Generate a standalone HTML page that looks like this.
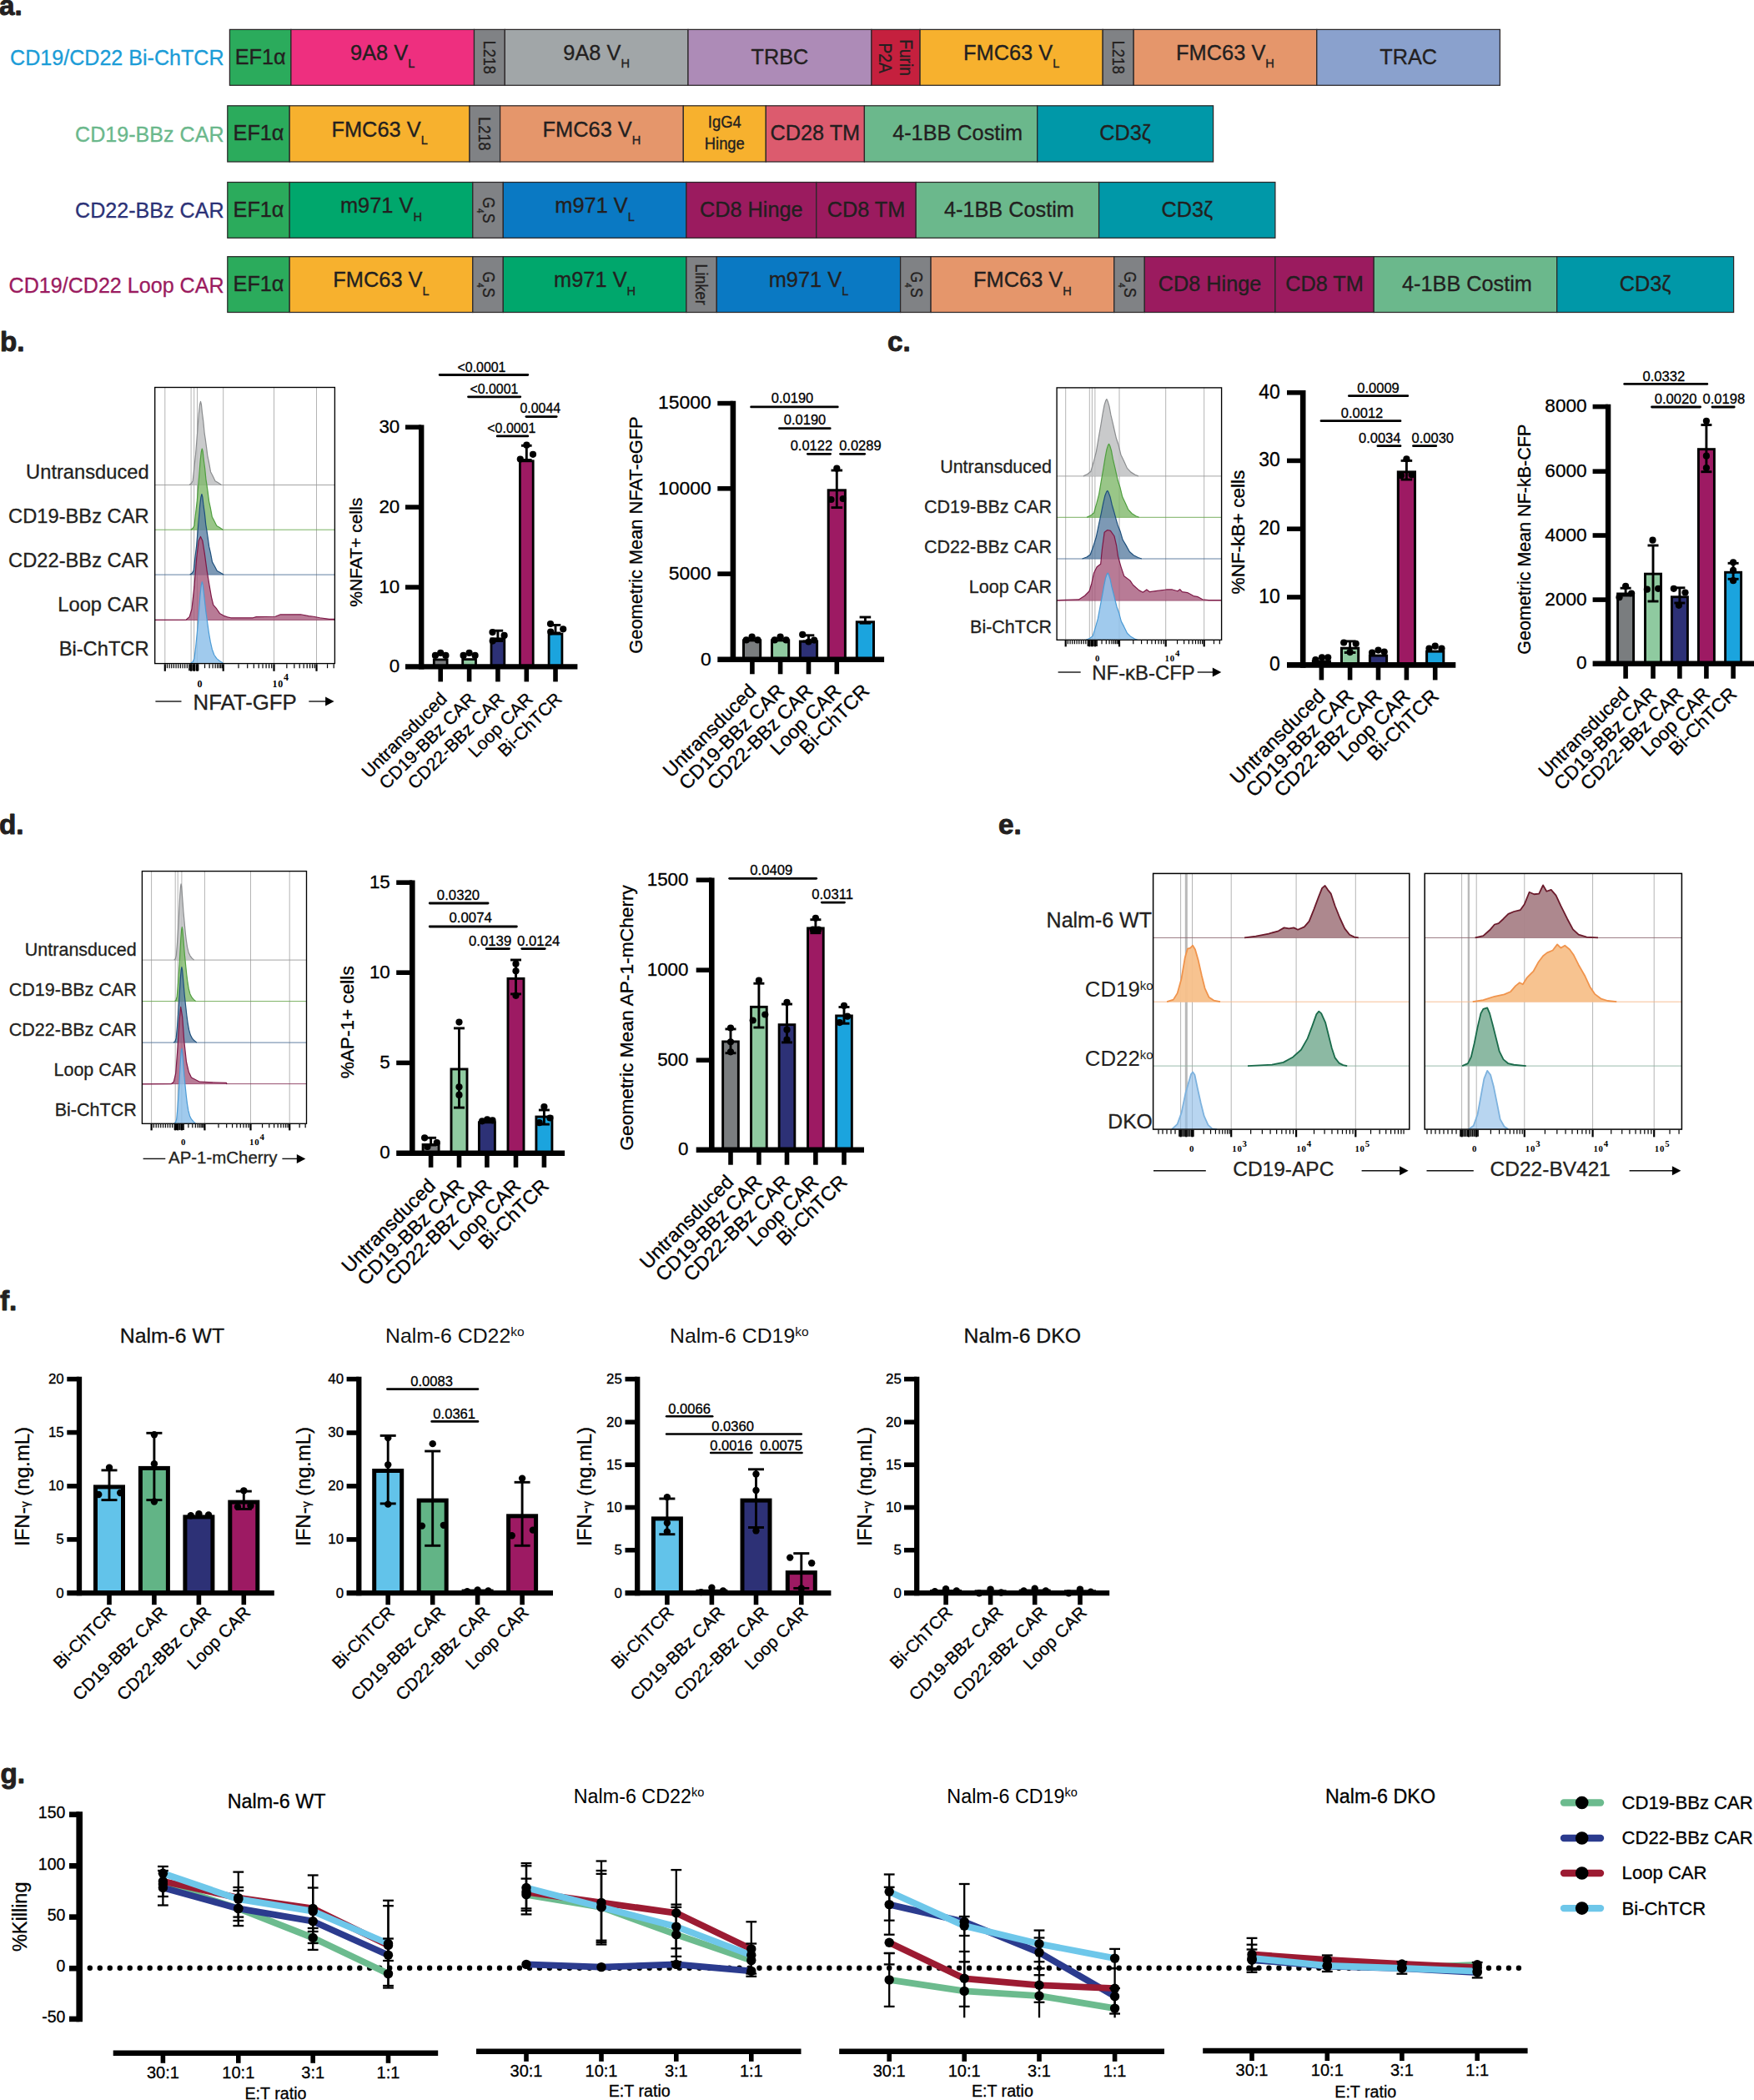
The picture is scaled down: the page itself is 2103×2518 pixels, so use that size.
<!DOCTYPE html>
<html lang="en"><head><meta charset="utf-8"><title>Figure</title>
<style>html,body{margin:0;padding:0;background:#fff}svg{display:block}</style></head>
<body>
<svg width="2103" height="2518" viewBox="0 0 2103 2518" font-family='"Liberation Sans", sans-serif'>
<rect x="0" y="0" width="2103" height="2518" fill="#fff"/>
<text x="-1" y="17.5" font-size="33.3" font-weight="bold" fill="#231f20" stroke="#231f20" stroke-width="0.9" stroke-linejoin="round">a.</text>
<text x="268.6" y="78" font-size="25.1" text-anchor="end" fill="#1b9cd7" stroke="#1b9cd7" stroke-width="0.3">CD19/CD22 Bi-ChTCR</text>
<rect x="275.4" y="35.4" width="73.5" height="66.9" fill="#2bab5c" stroke="#2b2728" stroke-width="1.25"/>
<text transform="translate(312.15 76.65) scale(0.95 1)" font-size="26.6" text-anchor="middle" fill="#231f20" stroke="#231f20" stroke-width="0.35">EF1α</text>
<rect x="348.9" y="35.4" width="219.6" height="66.9" fill="#ee2f7f" stroke="#2b2728" stroke-width="1.25"/>
<text transform="translate(458.7 72.15) scale(0.955 1)" font-size="26.6" text-anchor="middle" fill="#231f20" stroke="#231f20" stroke-width="0.35">9A8 V<tspan font-size="15.3" dy="9.3">L</tspan></text>
<rect x="568.5" y="35.4" width="36.8" height="66.9" fill="#808285" stroke="#2b2728" stroke-width="1.25"/>
<text transform="translate(580 68.85) rotate(90) scale(0.88 1)" font-size="20.5" text-anchor="middle" fill="#231f20" stroke="#231f20" stroke-width="0.35">L218</text>
<rect x="605.3" y="35.4" width="219.7" height="66.9" fill="#a1a6a8" stroke="#2b2728" stroke-width="1.25"/>
<text transform="translate(715.15 72.15) scale(0.955 1)" font-size="26.6" text-anchor="middle" fill="#231f20" stroke="#231f20" stroke-width="0.35">9A8 V<tspan font-size="15.3" dy="9.3">H</tspan></text>
<rect x="825" y="35.4" width="219.9" height="66.9" fill="#ad8bb7" stroke="#2b2728" stroke-width="1.25"/>
<text transform="translate(934.95 76.65) scale(0.95 1)" font-size="26.6" text-anchor="middle" fill="#231f20" stroke="#231f20" stroke-width="0.35">TRBC</text>
<rect x="1044.9" y="35.4" width="58.2" height="66.9" fill="#c5203e" stroke="#2b2728" stroke-width="1.25"/>
<text transform="translate(1078.7 69.05) rotate(90) scale(0.9 1)" font-size="21.4" text-anchor="middle" fill="#231f20" stroke="#231f20" stroke-width="0.35">Furin</text>
<text transform="translate(1053.9 69.65) rotate(90) scale(0.9 1)" font-size="21.4" text-anchor="middle" fill="#231f20" stroke="#231f20" stroke-width="0.35">P2A</text>
<rect x="1103.1" y="35.4" width="219.1" height="66.9" fill="#f7b12e" stroke="#2b2728" stroke-width="1.25"/>
<text transform="translate(1212.65 72.15) scale(0.955 1)" font-size="26.6" text-anchor="middle" fill="#231f20" stroke="#231f20" stroke-width="0.35">FMC63 V<tspan font-size="15.3" dy="9.3">L</tspan></text>
<rect x="1322.2" y="35.4" width="37" height="66.9" fill="#808285" stroke="#2b2728" stroke-width="1.25"/>
<text transform="translate(1333.8 68.85) rotate(90) scale(0.88 1)" font-size="20.5" text-anchor="middle" fill="#231f20" stroke="#231f20" stroke-width="0.35">L218</text>
<rect x="1359.2" y="35.4" width="219.6" height="66.9" fill="#e5966b" stroke="#2b2728" stroke-width="1.25"/>
<text transform="translate(1469 72.15) scale(0.955 1)" font-size="26.6" text-anchor="middle" fill="#231f20" stroke="#231f20" stroke-width="0.35">FMC63 V<tspan font-size="15.3" dy="9.3">H</tspan></text>
<rect x="1578.8" y="35.4" width="219.6" height="66.9" fill="#8aa1cd" stroke="#2b2728" stroke-width="1.25"/>
<text transform="translate(1688.6 76.65) scale(0.95 1)" font-size="26.6" text-anchor="middle" fill="#231f20" stroke="#231f20" stroke-width="0.35">TRAC</text>
<text x="268.6" y="169.7" font-size="25.1" text-anchor="end" fill="#6bb88c" stroke="#6bb88c" stroke-width="0.3">CD19-BBz CAR</text>
<rect x="272.8" y="126.8" width="74.4" height="67.2" fill="#2bab5c" stroke="#2b2728" stroke-width="1.25"/>
<text transform="translate(310 168.2) scale(0.95 1)" font-size="26.6" text-anchor="middle" fill="#231f20" stroke="#231f20" stroke-width="0.35">EF1α</text>
<rect x="347.2" y="126.8" width="215.8" height="67.2" fill="#f7b12e" stroke="#2b2728" stroke-width="1.25"/>
<text transform="translate(455.1 163.7) scale(0.955 1)" font-size="26.6" text-anchor="middle" fill="#231f20" stroke="#231f20" stroke-width="0.35">FMC63 V<tspan font-size="15.3" dy="9.3">L</tspan></text>
<rect x="563" y="126.8" width="36.6" height="67.2" fill="#808285" stroke="#2b2728" stroke-width="1.25"/>
<text transform="translate(574.4 160.4) rotate(90) scale(0.88 1)" font-size="20.5" text-anchor="middle" fill="#231f20" stroke="#231f20" stroke-width="0.35">L218</text>
<rect x="599.6" y="126.8" width="219.7" height="67.2" fill="#e5966b" stroke="#2b2728" stroke-width="1.25"/>
<text transform="translate(709.45 163.7) scale(0.955 1)" font-size="26.6" text-anchor="middle" fill="#231f20" stroke="#231f20" stroke-width="0.35">FMC63 V<tspan font-size="15.3" dy="9.3">H</tspan></text>
<rect x="819.3" y="126.8" width="99" height="67.2" fill="#f7b12e" stroke="#2b2728" stroke-width="1.25"/>
<text transform="translate(868.8 153.2) scale(0.93 1)" font-size="19.8" text-anchor="middle" fill="#231f20" stroke="#231f20" stroke-width="0.35">IgG4</text>
<text transform="translate(868.8 178.6) scale(0.93 1)" font-size="19.8" text-anchor="middle" fill="#231f20" stroke="#231f20" stroke-width="0.35">Hinge</text>
<rect x="918.3" y="126.8" width="118.1" height="67.2" fill="#dc5b6e" stroke="#2b2728" stroke-width="1.25"/>
<text transform="translate(977.35 168.2) scale(0.95 1)" font-size="26.6" text-anchor="middle" fill="#231f20" stroke="#231f20" stroke-width="0.35">CD28 TM</text>
<rect x="1036.4" y="126.8" width="207.3" height="67.2" fill="#6bb88c" stroke="#2b2728" stroke-width="1.25"/>
<text transform="translate(1148.05 168.2) scale(0.95 1)" font-size="26.6" text-anchor="middle" fill="#231f20" stroke="#231f20" stroke-width="0.35">4-1BB Costim</text>
<rect x="1243.7" y="126.8" width="210.9" height="67.2" fill="#0098a8" stroke="#2b2728" stroke-width="1.25"/>
<text transform="translate(1349.15 168.2) scale(0.95 1)" font-size="26.6" text-anchor="middle" fill="#231f20" stroke="#231f20" stroke-width="0.35">CD3ζ</text>
<text x="268.6" y="261.4" font-size="25.1" text-anchor="end" fill="#2c3277" stroke="#2c3277" stroke-width="0.3">CD22-BBz CAR</text>
<rect x="272.8" y="218.5" width="74.4" height="66.8" fill="#2bab5c" stroke="#2b2728" stroke-width="1.25"/>
<text transform="translate(310 259.7) scale(0.95 1)" font-size="26.6" text-anchor="middle" fill="#231f20" stroke="#231f20" stroke-width="0.35">EF1α</text>
<rect x="347.2" y="218.5" width="219.6" height="66.8" fill="#00a76c" stroke="#2b2728" stroke-width="1.25"/>
<text transform="translate(457 255.2) scale(0.955 1)" font-size="26.6" text-anchor="middle" fill="#231f20" stroke="#231f20" stroke-width="0.35">m971 V<tspan font-size="15.3" dy="9.3">H</tspan></text>
<rect x="566.8" y="218.5" width="36.5" height="66.8" fill="#808285" stroke="#2b2728" stroke-width="1.25"/>
<text transform="translate(578.85 251.9) rotate(90) scale(0.88 1)" font-size="20" text-anchor="middle" fill="#231f20" stroke="#231f20" stroke-width="0.35">G<tspan font-size="11.5" dy="6.5">4</tspan><tspan dy="-6.5">S</tspan></text>
<rect x="603.3" y="218.5" width="219.6" height="66.8" fill="#0a79c3" stroke="#2b2728" stroke-width="1.25"/>
<text transform="translate(713.1 255.2) scale(0.955 1)" font-size="26.6" text-anchor="middle" fill="#231f20" stroke="#231f20" stroke-width="0.35">m971 V<tspan font-size="15.3" dy="9.3">L</tspan></text>
<rect x="822.9" y="218.5" width="155.9" height="66.8" fill="#9b1b5f" stroke="#2b2728" stroke-width="1.25"/>
<text transform="translate(900.85 259.7) scale(0.95 1)" font-size="26.6" text-anchor="middle" fill="#231f20" stroke="#231f20" stroke-width="0.35">CD8 Hinge</text>
<rect x="978.8" y="218.5" width="119.4" height="66.8" fill="#9b1b5f" stroke="#2b2728" stroke-width="1.25"/>
<text transform="translate(1038.5 259.7) scale(0.95 1)" font-size="26.6" text-anchor="middle" fill="#231f20" stroke="#231f20" stroke-width="0.35">CD8 TM</text>
<rect x="1098.2" y="218.5" width="219.4" height="66.8" fill="#6bb88c" stroke="#2b2728" stroke-width="1.25"/>
<text transform="translate(1209.9 259.7) scale(0.95 1)" font-size="26.6" text-anchor="middle" fill="#231f20" stroke="#231f20" stroke-width="0.35">4-1BB Costim</text>
<rect x="1317.6" y="218.5" width="211.3" height="66.8" fill="#0098a8" stroke="#2b2728" stroke-width="1.25"/>
<text transform="translate(1423.25 259.7) scale(0.95 1)" font-size="26.6" text-anchor="middle" fill="#231f20" stroke="#231f20" stroke-width="0.35">CD3ζ</text>
<text x="268.6" y="350.6" font-size="25.1" text-anchor="end" fill="#9b1b5f" stroke="#9b1b5f" stroke-width="0.3">CD19/CD22 Loop CAR</text>
<rect x="272.8" y="307.7" width="74.4" height="66.8" fill="#2bab5c" stroke="#2b2728" stroke-width="1.25"/>
<text transform="translate(310 348.9) scale(0.95 1)" font-size="26.6" text-anchor="middle" fill="#231f20" stroke="#231f20" stroke-width="0.35">EF1α</text>
<rect x="347.2" y="307.7" width="219.6" height="66.8" fill="#f7b12e" stroke="#2b2728" stroke-width="1.25"/>
<text transform="translate(457 344.4) scale(0.955 1)" font-size="26.6" text-anchor="middle" fill="#231f20" stroke="#231f20" stroke-width="0.35">FMC63 V<tspan font-size="15.3" dy="9.3">L</tspan></text>
<rect x="566.8" y="307.7" width="36.5" height="66.8" fill="#808285" stroke="#2b2728" stroke-width="1.25"/>
<text transform="translate(578.85 341.1) rotate(90) scale(0.88 1)" font-size="20" text-anchor="middle" fill="#231f20" stroke="#231f20" stroke-width="0.35">G<tspan font-size="11.5" dy="6.5">4</tspan><tspan dy="-6.5">S</tspan></text>
<rect x="603.3" y="307.7" width="219.6" height="66.8" fill="#00a76c" stroke="#2b2728" stroke-width="1.25"/>
<text transform="translate(713.1 344.4) scale(0.955 1)" font-size="26.6" text-anchor="middle" fill="#231f20" stroke="#231f20" stroke-width="0.35">m971 V<tspan font-size="15.3" dy="9.3">H</tspan></text>
<rect x="822.9" y="307.7" width="36.4" height="66.8" fill="#808285" stroke="#2b2728" stroke-width="1.25"/>
<text transform="translate(834.2 341.1) rotate(90) scale(0.88 1)" font-size="20.5" text-anchor="middle" fill="#231f20" stroke="#231f20" stroke-width="0.35">Linker</text>
<rect x="859.3" y="307.7" width="220.3" height="66.8" fill="#0a79c3" stroke="#2b2728" stroke-width="1.25"/>
<text transform="translate(969.45 344.4) scale(0.955 1)" font-size="26.6" text-anchor="middle" fill="#231f20" stroke="#231f20" stroke-width="0.35">m971 V<tspan font-size="15.3" dy="9.3">L</tspan></text>
<rect x="1079.6" y="307.7" width="36.5" height="66.8" fill="#808285" stroke="#2b2728" stroke-width="1.25"/>
<text transform="translate(1091.65 341.1) rotate(90) scale(0.88 1)" font-size="20" text-anchor="middle" fill="#231f20" stroke="#231f20" stroke-width="0.35">G<tspan font-size="11.5" dy="6.5">4</tspan><tspan dy="-6.5">S</tspan></text>
<rect x="1116.1" y="307.7" width="219.7" height="66.8" fill="#e5966b" stroke="#2b2728" stroke-width="1.25"/>
<text transform="translate(1225.95 344.4) scale(0.955 1)" font-size="26.6" text-anchor="middle" fill="#231f20" stroke="#231f20" stroke-width="0.35">FMC63 V<tspan font-size="15.3" dy="9.3">H</tspan></text>
<rect x="1335.8" y="307.7" width="36.5" height="66.8" fill="#808285" stroke="#2b2728" stroke-width="1.25"/>
<text transform="translate(1347.85 341.1) rotate(90) scale(0.88 1)" font-size="20" text-anchor="middle" fill="#231f20" stroke="#231f20" stroke-width="0.35">G<tspan font-size="11.5" dy="6.5">4</tspan><tspan dy="-6.5">S</tspan></text>
<rect x="1372.3" y="307.7" width="156.6" height="66.8" fill="#9b1b5f" stroke="#2b2728" stroke-width="1.25"/>
<text transform="translate(1450.6 348.9) scale(0.95 1)" font-size="26.6" text-anchor="middle" fill="#231f20" stroke="#231f20" stroke-width="0.35">CD8 Hinge</text>
<rect x="1528.9" y="307.7" width="118.3" height="66.8" fill="#9b1b5f" stroke="#2b2728" stroke-width="1.25"/>
<text transform="translate(1588.05 348.9) scale(0.95 1)" font-size="26.6" text-anchor="middle" fill="#231f20" stroke="#231f20" stroke-width="0.35">CD8 TM</text>
<rect x="1647.2" y="307.7" width="219.5" height="66.8" fill="#6bb88c" stroke="#2b2728" stroke-width="1.25"/>
<text transform="translate(1758.95 348.9) scale(0.95 1)" font-size="26.6" text-anchor="middle" fill="#231f20" stroke="#231f20" stroke-width="0.35">4-1BB Costim</text>
<rect x="1866.7" y="307.7" width="211.9" height="66.8" fill="#0098a8" stroke="#2b2728" stroke-width="1.25"/>
<text transform="translate(1972.65 348.9) scale(0.95 1)" font-size="26.6" text-anchor="middle" fill="#231f20" stroke="#231f20" stroke-width="0.35">CD3ζ</text>
<text x="0" y="421.4" font-size="33.3" font-weight="bold" fill="#231f20" stroke="#231f20" stroke-width="0.9" stroke-linejoin="round">b.</text>
<text x="1064" y="421.4" font-size="33.3" font-weight="bold" fill="#231f20" stroke="#231f20" stroke-width="0.9" stroke-linejoin="round">c.</text>
<text x="-1" y="1000.2" font-size="33.3" font-weight="bold" fill="#231f20" stroke="#231f20" stroke-width="0.9" stroke-linejoin="round">d.</text>
<rect x="185.7" y="464.5" width="215.7" height="331.1" fill="#fff"/>
<line x1="197.8" y1="464.5" x2="197.8" y2="795.6" stroke="#b4b4b4" stroke-width="1"/>
<line x1="229.1" y1="464.5" x2="229.1" y2="795.6" stroke="#b4b4b4" stroke-width="1"/>
<line x1="232.7" y1="464.5" x2="232.7" y2="795.6" stroke="#b4b4b4" stroke-width="1"/>
<line x1="236.5" y1="464.5" x2="236.5" y2="795.6" stroke="#b4b4b4" stroke-width="1"/>
<line x1="267.7" y1="464.5" x2="267.7" y2="795.6" stroke="#b4b4b4" stroke-width="1"/>
<line x1="328.5" y1="464.5" x2="328.5" y2="795.6" stroke="#b4b4b4" stroke-width="1"/>
<line x1="379.5" y1="464.5" x2="379.5" y2="795.6" stroke="#b4b4b4" stroke-width="1"/>
<line x1="185.7" y1="581.5" x2="401.4" y2="581.5" stroke="#9a9a9a" stroke-width="0.9"/>
<line x1="185.7" y1="635.2" x2="401.4" y2="635.2" stroke="#6aa84f" stroke-width="0.9"/>
<line x1="185.7" y1="689.1" x2="401.4" y2="689.1" stroke="#4f7197" stroke-width="0.9"/>
<line x1="185.7" y1="743.4" x2="401.4" y2="743.4" stroke="#8a3a5e" stroke-width="0.9"/>
<path d="M227 581.5 L229.5 579.49 L231.2 576.42 L232.9 560.31 L234.5 545.64 L235.7 530.48 L237 514 L238.3 496.35 L239.5 485.4 L240.5 481.4 L241.4 484.9 L242.5 495.6 L243.8 505.42 L245.1 519.06 L246.2 526.32 L247.4 535.05 L248.8 546.31 L250.5 554.34 L252.5 565.68 L255 570.46 L258 576.67 L261.5 578.82 L265.5 581.5 Z" fill="#bfc1c2" stroke="none" stroke-width="1" fill-opacity="0.85"/>
<path d="M227 581.5 L229.5 579.49 L231.2 576.42 L232.9 560.31 L234.5 545.64 L235.7 530.48 L237 514 L238.3 496.35 L239.5 485.4 L240.5 481.4 L241.4 484.9 L242.5 495.6 L243.8 505.42 L245.1 519.06 L246.2 526.32 L247.4 535.05 L248.8 546.31 L250.5 554.34 L252.5 565.68 L255 570.46 L258 576.67 L261.5 578.82 L265.5 581.5" fill="none" stroke="#8b8d8f" stroke-width="1.2" stroke-linejoin="round"/>
<path d="M228.8 635.2 L231.3 633.24 L233 630.27 L234.7 614.63 L236.3 600.38 L237.5 585.66 L238.8 569.66 L240.1 552.52 L241.3 541.89 L242.3 538 L243.2 541.4 L244.3 551.79 L245.6 561.33 L246.9 574.57 L248 581.62 L249.2 590.1 L250.6 601.03 L252.3 608.83 L254.3 619.84 L256.8 624.48 L259.8 630.51 L263.3 632.59 L267.3 635.2 Z" fill="#7fb86a" stroke="none" stroke-width="1" fill-opacity="0.8"/>
<path d="M228.8 635.2 L231.3 633.24 L233 630.27 L234.7 614.63 L236.3 600.38 L237.5 585.66 L238.8 569.66 L240.1 552.52 L241.3 541.89 L242.3 538 L243.2 541.4 L244.3 551.79 L245.6 561.33 L246.9 574.57 L248 581.62 L249.2 590.1 L250.6 601.03 L252.3 608.83 L254.3 619.84 L256.8 624.48 L259.8 630.51 L263.3 632.59 L267.3 635.2" fill="none" stroke="#4f9e3f" stroke-width="1.2" stroke-linejoin="round"/>
<path d="M227.72 689.1 L230.35 687.16 L232.13 684.2 L233.92 668.66 L235.6 654.5 L236.86 639.87 L238.22 623.96 L239.59 606.93 L240.85 596.36 L241.9 592.5 L242.84 595.88 L244 606.21 L245.37 615.68 L246.73 628.84 L247.89 635.85 L249.15 644.28 L250.62 655.14 L252.4 662.89 L254.5 673.83 L257.12 678.44 L260.27 684.43 L263.95 686.51 L268.15 689.1 Z" fill="#5c7fa3" stroke="none" stroke-width="1" fill-opacity="0.8"/>
<path d="M227.72 689.1 L230.35 687.16 L232.13 684.2 L233.92 668.66 L235.6 654.5 L236.86 639.87 L238.22 623.96 L239.59 606.93 L240.85 596.36 L241.9 592.5 L242.84 595.88 L244 606.21 L245.37 615.68 L246.73 628.84 L247.89 635.85 L249.15 644.28 L250.62 655.14 L252.4 662.89 L254.5 673.83 L257.12 678.44 L260.27 684.43 L263.95 686.51 L268.15 689.1" fill="none" stroke="#1d4f7c" stroke-width="1.2" stroke-linejoin="round"/>
<path d="M185.62 743.45 L223.35 743.06 L227.16 739.63 L230.02 730.11 L232.88 703.43 L235.74 669.13 L238.22 648.17 L240.5 643.41 L242.79 648.17 L245.27 663.41 L248.12 684.38 L250.98 701.52 L253.46 715.82 L255.75 725.34 L259.56 729.73 L263.37 735.44 L269.09 738.68 L273.85 740.21 L276.71 740.78 L303.38 740.78 L307.2 739.63 L330.06 739.25 L335.78 736.97 L360.55 736.78 L370.08 738.68 L375.79 739.25 L383.41 740.78 L394.85 742.3 L400.95 742.3 L400.95 743.45 Z" fill="#a65a7c" stroke="none" stroke-width="1" fill-opacity="0.8"/>
<path d="M185.62 743.45 L223.35 743.06 L227.16 739.63 L230.02 730.11 L232.88 703.43 L235.74 669.13 L238.22 648.17 L240.5 643.41 L242.79 648.17 L245.27 663.41 L248.12 684.38 L250.98 701.52 L253.46 715.82 L255.75 725.34 L259.56 729.73 L263.37 735.44 L269.09 738.68 L273.85 740.21 L276.71 740.78 L303.38 740.78 L307.2 739.63 L330.06 739.25 L335.78 736.97 L360.55 736.78 L370.08 738.68 L375.79 739.25 L383.41 740.78 L394.85 742.3 L400.95 742.3 L400.95 743.45" fill="none" stroke="#7d1846" stroke-width="1.2" stroke-linejoin="round"/>
<path d="M228.8 795 L231.3 793.54 L233 789.16 L234.7 775.54 L236.3 759 L237.5 746.35 L238.8 728.84 L240.1 712.3 L241.3 701.59 L242.3 697.7 L243.2 701.11 L244.3 710.35 L245.6 722.03 L246.9 733.7 L248 741.49 L249.2 750.24 L250.6 759.97 L252.3 769.7 L254.3 778.46 L256.8 785.27 L259.8 789.65 L263.3 792.57 L267.3 795 Z" fill="#8fc1ea" stroke="none" stroke-width="1" fill-opacity="0.85"/>
<path d="M228.8 795 L231.3 793.54 L233 789.16 L234.7 775.54 L236.3 759 L237.5 746.35 L238.8 728.84 L240.1 712.3 L241.3 701.59 L242.3 697.7 L243.2 701.11 L244.3 710.35 L245.6 722.03 L246.9 733.7 L248 741.49 L249.2 750.24 L250.6 759.97 L252.3 769.7 L254.3 778.46 L256.8 785.27 L259.8 789.65 L263.3 792.57 L267.3 795" fill="none" stroke="#4b9bd6" stroke-width="1.2" stroke-linejoin="round"/>
<rect x="185.7" y="464.5" width="215.7" height="331.1" fill="none" stroke="#000" stroke-width="1.35"/>
<line x1="197.8" y1="796.27" x2="197.8" y2="804.77" stroke="#000" stroke-width="2.2"/>
<line x1="229.1" y1="796.27" x2="229.1" y2="804.77" stroke="#000" stroke-width="2.2"/>
<line x1="232.7" y1="796.27" x2="232.7" y2="804.77" stroke="#000" stroke-width="2.2"/>
<line x1="236.5" y1="796.27" x2="236.5" y2="804.77" stroke="#000" stroke-width="2.2"/>
<line x1="267.7" y1="796.27" x2="267.7" y2="804.77" stroke="#000" stroke-width="2.2"/>
<line x1="328.5" y1="796.27" x2="328.5" y2="804.77" stroke="#000" stroke-width="2.2"/>
<line x1="379.5" y1="796.27" x2="379.5" y2="804.77" stroke="#000" stroke-width="2.2"/>
<line x1="245.54" y1="796.27" x2="245.54" y2="801.17" stroke="#000" stroke-width="1.2"/>
<line x1="251.12" y1="796.27" x2="251.12" y2="801.17" stroke="#000" stroke-width="1.2"/>
<line x1="255.09" y1="796.27" x2="255.09" y2="801.17" stroke="#000" stroke-width="1.2"/>
<line x1="258.16" y1="796.27" x2="258.16" y2="801.17" stroke="#000" stroke-width="1.2"/>
<line x1="260.67" y1="796.27" x2="260.67" y2="801.17" stroke="#000" stroke-width="1.2"/>
<line x1="262.79" y1="796.27" x2="262.79" y2="801.17" stroke="#000" stroke-width="1.2"/>
<line x1="264.63" y1="796.27" x2="264.63" y2="801.17" stroke="#000" stroke-width="1.2"/>
<line x1="266.25" y1="796.27" x2="266.25" y2="801.17" stroke="#000" stroke-width="1.2"/>
<line x1="286" y1="796.27" x2="286" y2="801.17" stroke="#000" stroke-width="1.2"/>
<line x1="296.71" y1="796.27" x2="296.71" y2="801.17" stroke="#000" stroke-width="1.2"/>
<line x1="304.31" y1="796.27" x2="304.31" y2="801.17" stroke="#000" stroke-width="1.2"/>
<line x1="310.2" y1="796.27" x2="310.2" y2="801.17" stroke="#000" stroke-width="1.2"/>
<line x1="315.01" y1="796.27" x2="315.01" y2="801.17" stroke="#000" stroke-width="1.2"/>
<line x1="319.08" y1="796.27" x2="319.08" y2="801.17" stroke="#000" stroke-width="1.2"/>
<line x1="322.61" y1="796.27" x2="322.61" y2="801.17" stroke="#000" stroke-width="1.2"/>
<line x1="325.72" y1="796.27" x2="325.72" y2="801.17" stroke="#000" stroke-width="1.2"/>
<line x1="343.85" y1="796.27" x2="343.85" y2="801.17" stroke="#000" stroke-width="1.2"/>
<line x1="352.83" y1="796.27" x2="352.83" y2="801.17" stroke="#000" stroke-width="1.2"/>
<line x1="359.21" y1="796.27" x2="359.21" y2="801.17" stroke="#000" stroke-width="1.2"/>
<line x1="364.15" y1="796.27" x2="364.15" y2="801.17" stroke="#000" stroke-width="1.2"/>
<line x1="368.19" y1="796.27" x2="368.19" y2="801.17" stroke="#000" stroke-width="1.2"/>
<line x1="371.6" y1="796.27" x2="371.6" y2="801.17" stroke="#000" stroke-width="1.2"/>
<line x1="374.56" y1="796.27" x2="374.56" y2="801.17" stroke="#000" stroke-width="1.2"/>
<line x1="377.17" y1="796.27" x2="377.17" y2="801.17" stroke="#000" stroke-width="1.2"/>
<line x1="392.55" y1="796.27" x2="392.55" y2="801.17" stroke="#000" stroke-width="1.2"/>
<line x1="400.18" y1="796.27" x2="400.18" y2="801.17" stroke="#000" stroke-width="1.2"/>
<line x1="200.45" y1="796.27" x2="200.45" y2="801.17" stroke="#000" stroke-width="1.2"/>
<line x1="203.11" y1="796.27" x2="203.11" y2="801.17" stroke="#000" stroke-width="1.2"/>
<line x1="205.76" y1="796.27" x2="205.76" y2="801.17" stroke="#000" stroke-width="1.2"/>
<line x1="208.42" y1="796.27" x2="208.42" y2="801.17" stroke="#000" stroke-width="1.2"/>
<line x1="211.07" y1="796.27" x2="211.07" y2="801.17" stroke="#000" stroke-width="1.2"/>
<line x1="213.73" y1="796.27" x2="213.73" y2="801.17" stroke="#000" stroke-width="1.2"/>
<line x1="216.38" y1="796.27" x2="216.38" y2="801.17" stroke="#000" stroke-width="1.2"/>
<line x1="219.04" y1="796.27" x2="219.04" y2="801.17" stroke="#000" stroke-width="1.2"/>
<line x1="221.69" y1="796.27" x2="221.69" y2="801.17" stroke="#000" stroke-width="1.2"/>
<line x1="224.35" y1="796.27" x2="224.35" y2="801.17" stroke="#000" stroke-width="1.2"/>
<line x1="227" y1="796.27" x2="227" y2="804.27" stroke="#000" stroke-width="1.7"/>
<line x1="229.1" y1="796.27" x2="229.1" y2="804.27" stroke="#000" stroke-width="1.7"/>
<line x1="231.2" y1="796.27" x2="231.2" y2="804.27" stroke="#000" stroke-width="1.7"/>
<line x1="233.3" y1="796.27" x2="233.3" y2="804.27" stroke="#000" stroke-width="1.7"/>
<line x1="235.4" y1="796.27" x2="235.4" y2="804.27" stroke="#000" stroke-width="1.7"/>
<line x1="237.5" y1="796.27" x2="237.5" y2="804.27" stroke="#000" stroke-width="1.7"/>
<text x="239.6" y="823.5" font-size="12" text-anchor="middle" font-weight="bold" fill="#000" font-family='"Liberation Serif", serif'>0</text>
<text x="326.5" y="823.5" font-size="12" font-weight="bold" font-family='"Liberation Serif", serif' letter-spacing="0.8">10<tspan dy="-8">4</tspan></text>
<text x="178.6" y="574.3" font-size="23.7" text-anchor="end" fill="#231f20" stroke="#231f20" stroke-width="0.3">Untransduced</text>
<text x="178.6" y="627.4" font-size="23.7" text-anchor="end" fill="#231f20" stroke="#231f20" stroke-width="0.3">CD19-BBz CAR</text>
<text x="178.6" y="680.2" font-size="23.7" text-anchor="end" fill="#231f20" stroke="#231f20" stroke-width="0.3">CD22-BBz CAR</text>
<text x="178.6" y="733.2" font-size="23.7" text-anchor="end" fill="#231f20" stroke="#231f20" stroke-width="0.3">Loop CAR</text>
<text x="178.6" y="786.2" font-size="23.7" text-anchor="end" fill="#231f20" stroke="#231f20" stroke-width="0.3">Bi-ChTCR</text>
<line x1="186.4" y1="841" x2="217.5" y2="841" stroke="#111" stroke-width="1.4"/>
<line x1="370.3" y1="841" x2="394.6" y2="841" stroke="#111" stroke-width="1.4"/>
<path d="M400.6 841 L390.1 835.5 L390.1 846.5 Z" fill="#000"/>
<text x="293.7" y="850.9" font-size="25.8" text-anchor="middle" fill="#231f20" stroke="#231f20" stroke-width="0.3">NFAT-GFP</text>
<rect x="520.3" y="790.9" width="15.8" height="8.5" fill="#7a7d7f" stroke="#000" stroke-width="2.8"/>
<rect x="554.7" y="790.6" width="15.8" height="8.8" fill="#8fcaa0" stroke="#000" stroke-width="2.8"/>
<rect x="589" y="765.8" width="15.8" height="33.6" fill="#2d3176" stroke="#000" stroke-width="2.8"/>
<rect x="623.4" y="552.8" width="15.8" height="246.6" fill="#9d1a63" stroke="#000" stroke-width="2.8"/>
<rect x="658.1" y="760.1" width="15.8" height="39.3" fill="#1ba4de" stroke="#000" stroke-width="2.8"/>
<line x1="596.9" y1="756.2" x2="596.9" y2="768.5" stroke="#000" stroke-width="2.9"/>
<line x1="590.6" y1="756.2" x2="603.2" y2="756.2" stroke="#000" stroke-width="2.9"/>
<line x1="590.6" y1="768.5" x2="603.2" y2="768.5" stroke="#000" stroke-width="2.9"/>
<line x1="631.3" y1="534.3" x2="631.3" y2="551.5" stroke="#000" stroke-width="2.9"/>
<line x1="625" y1="534.3" x2="637.6" y2="534.3" stroke="#000" stroke-width="2.9"/>
<line x1="625" y1="551.5" x2="637.6" y2="551.5" stroke="#000" stroke-width="2.9"/>
<line x1="666" y1="749.5" x2="666" y2="759" stroke="#000" stroke-width="2.9"/>
<line x1="659.7" y1="749.5" x2="672.3" y2="749.5" stroke="#000" stroke-width="2.9"/>
<line x1="659.7" y1="759" x2="672.3" y2="759" stroke="#000" stroke-width="2.9"/>
<circle cx="521.9" cy="785.9" r="4.1" fill="#000"/>
<circle cx="528.2" cy="782.9" r="4.1" fill="#000"/>
<circle cx="534.4" cy="785.9" r="4.1" fill="#000"/>
<circle cx="555.6" cy="785.9" r="4.1" fill="#000"/>
<circle cx="562.6" cy="782.9" r="4.1" fill="#000"/>
<circle cx="569.6" cy="785.9" r="4.1" fill="#000"/>
<circle cx="590.5" cy="758.1" r="4.1" fill="#000"/>
<circle cx="604.6" cy="761.9" r="4.1" fill="#000"/>
<circle cx="590.7" cy="768.6" r="4.1" fill="#000"/>
<circle cx="631.4" cy="533.7" r="4.1" fill="#000"/>
<circle cx="639" cy="544.8" r="4.1" fill="#000"/>
<circle cx="623.8" cy="550.5" r="4.1" fill="#000"/>
<circle cx="660" cy="748" r="4.1" fill="#000"/>
<circle cx="675.2" cy="754.3" r="4.1" fill="#000"/>
<circle cx="660.2" cy="757.5" r="4.1" fill="#000"/>
<line x1="505.2" y1="509.4" x2="505.2" y2="802.6" stroke="#000" stroke-width="6.4"/>
<line x1="486" y1="799.4" x2="692.4" y2="799.4" stroke="#000" stroke-width="6.4"/>
<line x1="486" y1="512.2" x2="505.2" y2="512.2" stroke="#000" stroke-width="5.6"/>
<text x="479.3" y="518.82" font-size="22.4" text-anchor="end" fill="#000" stroke="#000" stroke-width="0.3">30</text>
<line x1="486" y1="608.1" x2="505.2" y2="608.1" stroke="#000" stroke-width="5.6"/>
<text x="479.3" y="614.72" font-size="22.4" text-anchor="end" fill="#000" stroke="#000" stroke-width="0.3">20</text>
<line x1="486" y1="704.1" x2="505.2" y2="704.1" stroke="#000" stroke-width="5.6"/>
<text x="479.3" y="710.72" font-size="22.4" text-anchor="end" fill="#000" stroke="#000" stroke-width="0.3">10</text>
<text x="479.3" y="806.02" font-size="22.4" text-anchor="end" fill="#000" stroke="#000" stroke-width="0.3">0</text>
<line x1="528.2" y1="799.4" x2="528.2" y2="817.4" stroke="#000" stroke-width="5.6"/>
<line x1="562.6" y1="799.4" x2="562.6" y2="817.4" stroke="#000" stroke-width="5.6"/>
<line x1="596.9" y1="799.4" x2="596.9" y2="817.4" stroke="#000" stroke-width="5.6"/>
<line x1="631.3" y1="799.4" x2="631.3" y2="817.4" stroke="#000" stroke-width="5.6"/>
<line x1="666" y1="799.4" x2="666" y2="817.4" stroke="#000" stroke-width="5.6"/>
<text transform="translate(434.26 662.3) rotate(-90)" font-size="21" text-anchor="middle" fill="#000" stroke="#000" stroke-width="0.3">%NFAT+ cells</text>
<text transform="translate(537.2 839.4) rotate(-45)" font-size="21.5" text-anchor="end" fill="#000" stroke="#000" stroke-width="0.3">Untransduced</text>
<text transform="translate(571.6 839.4) rotate(-45)" font-size="21.5" text-anchor="end" fill="#000" stroke="#000" stroke-width="0.3">CD19-BBz CAR</text>
<text transform="translate(605.9 839.4) rotate(-45)" font-size="21.5" text-anchor="end" fill="#000" stroke="#000" stroke-width="0.3">CD22-BBz CAR</text>
<text transform="translate(640.3 839.4) rotate(-45)" font-size="21.5" text-anchor="end" fill="#000" stroke="#000" stroke-width="0.3">Loop CAR</text>
<text transform="translate(675 839.4) rotate(-45)" font-size="21.5" text-anchor="end" fill="#000" stroke="#000" stroke-width="0.3">Bi-ChTCR</text>
<line x1="527.2" y1="449.5" x2="632.8" y2="449.5" stroke="#000" stroke-width="2.8" stroke-linecap="round"/>
<text x="577.5" y="445.7" font-size="15.9" text-anchor="middle" fill="#000" stroke="#000" stroke-width="0.3">&lt;0.0001</text>
<line x1="561.5" y1="475.8" x2="623.8" y2="475.8" stroke="#000" stroke-width="2.8" stroke-linecap="round"/>
<text x="592.4" y="471.8" font-size="15.9" text-anchor="middle" fill="#000" stroke="#000" stroke-width="0.3">&lt;0.0001</text>
<line x1="630.9" y1="499.6" x2="667.2" y2="499.6" stroke="#000" stroke-width="2.8" stroke-linecap="round"/>
<text x="647.8" y="495.2" font-size="15.9" text-anchor="middle" fill="#000" stroke="#000" stroke-width="0.3">0.0044</text>
<line x1="596.2" y1="522.9" x2="632.8" y2="522.9" stroke="#000" stroke-width="2.8" stroke-linecap="round"/>
<text x="613.3" y="518.7" font-size="15.9" text-anchor="middle" fill="#000" stroke="#000" stroke-width="0.3">&lt;0.0001</text>
<rect x="891.5" y="767.9" width="20.2" height="22.9" fill="#7a7d7f" stroke="#000" stroke-width="3"/>
<rect x="925.5" y="767.9" width="20.2" height="22.9" fill="#8fcaa0" stroke="#000" stroke-width="3"/>
<rect x="959.4" y="769.1" width="20.2" height="21.7" fill="#2d3176" stroke="#000" stroke-width="3"/>
<rect x="993.2" y="587.8" width="20.2" height="203" fill="#9d1a63" stroke="#000" stroke-width="3"/>
<rect x="1027.3" y="745.8" width="20.2" height="45" fill="#1ba4de" stroke="#000" stroke-width="3"/>
<line x1="969.5" y1="761.8" x2="969.5" y2="769" stroke="#000" stroke-width="2.9"/>
<line x1="962.7" y1="761.8" x2="976.3" y2="761.8" stroke="#000" stroke-width="2.9"/>
<line x1="962.7" y1="769" x2="976.3" y2="769" stroke="#000" stroke-width="2.9"/>
<line x1="1003.3" y1="564" x2="1003.3" y2="608.6" stroke="#000" stroke-width="2.9"/>
<line x1="996.5" y1="564" x2="1010.1" y2="564" stroke="#000" stroke-width="2.9"/>
<line x1="996.5" y1="608.6" x2="1010.1" y2="608.6" stroke="#000" stroke-width="2.9"/>
<line x1="1037.4" y1="740" x2="1037.4" y2="747.2" stroke="#000" stroke-width="2.9"/>
<line x1="1030.6" y1="740" x2="1044.2" y2="740" stroke="#000" stroke-width="2.9"/>
<line x1="1030.6" y1="747.2" x2="1044.2" y2="747.2" stroke="#000" stroke-width="2.9"/>
<circle cx="894.8" cy="767.4" r="4.1" fill="#000"/>
<circle cx="901.6" cy="763.6" r="4.1" fill="#000"/>
<circle cx="908.4" cy="767.4" r="4.1" fill="#000"/>
<circle cx="928.8" cy="767.4" r="4.1" fill="#000"/>
<circle cx="935.6" cy="763.6" r="4.1" fill="#000"/>
<circle cx="942.6" cy="767.4" r="4.1" fill="#000"/>
<circle cx="962.2" cy="760.8" r="4.1" fill="#000"/>
<circle cx="976.2" cy="767.6" r="4.1" fill="#000"/>
<circle cx="969.5" cy="769.5" r="4.1" fill="#000"/>
<circle cx="1003.3" cy="561.7" r="4.1" fill="#000"/>
<circle cx="996.5" cy="599" r="4.1" fill="#000"/>
<circle cx="1010.7" cy="598" r="4.1" fill="#000"/>
<line x1="878.9" y1="480.8" x2="878.9" y2="794.1" stroke="#000" stroke-width="6.6"/>
<line x1="860.3" y1="790.8" x2="1060.1" y2="790.8" stroke="#000" stroke-width="6.6"/>
<line x1="860.3" y1="483.6" x2="878.9" y2="483.6" stroke="#000" stroke-width="5.6"/>
<text x="852.7" y="490.4" font-size="22.9" text-anchor="end" fill="#000" stroke="#000" stroke-width="0.3">15000</text>
<line x1="860.3" y1="585.8" x2="878.9" y2="585.8" stroke="#000" stroke-width="5.6"/>
<text x="852.7" y="592.6" font-size="22.9" text-anchor="end" fill="#000" stroke="#000" stroke-width="0.3">10000</text>
<line x1="860.3" y1="688.1" x2="878.9" y2="688.1" stroke="#000" stroke-width="5.6"/>
<text x="852.7" y="694.9" font-size="22.9" text-anchor="end" fill="#000" stroke="#000" stroke-width="0.3">5000</text>
<text x="852.7" y="797.6" font-size="22.9" text-anchor="end" fill="#000" stroke="#000" stroke-width="0.3">0</text>
<line x1="901.9" y1="790.8" x2="901.9" y2="808.3" stroke="#000" stroke-width="5.6"/>
<line x1="935.6" y1="790.8" x2="935.6" y2="808.3" stroke="#000" stroke-width="5.6"/>
<line x1="969.5" y1="790.8" x2="969.5" y2="808.3" stroke="#000" stroke-width="5.6"/>
<line x1="1003.3" y1="790.8" x2="1003.3" y2="808.3" stroke="#000" stroke-width="5.6"/>
<text transform="translate(769.85 641.5) rotate(-90)" font-size="21.8" text-anchor="middle" fill="#000" stroke="#000" stroke-width="0.3">Geometric Mean NFAT-eGFP</text>
<text transform="translate(908 830.1) rotate(-45)" font-size="23.5" text-anchor="end" fill="#000" stroke="#000" stroke-width="0.3">Untransduced</text>
<text transform="translate(942 830.1) rotate(-45)" font-size="23.5" text-anchor="end" fill="#000" stroke="#000" stroke-width="0.3">CD19-BBz CAR</text>
<text transform="translate(975.9 830.1) rotate(-45)" font-size="23.5" text-anchor="end" fill="#000" stroke="#000" stroke-width="0.3">CD22-BBz CAR</text>
<text transform="translate(1009.7 830.1) rotate(-45)" font-size="23.5" text-anchor="end" fill="#000" stroke="#000" stroke-width="0.3">Loop CAR</text>
<text transform="translate(1043.8 830.1) rotate(-45)" font-size="23.5" text-anchor="end" fill="#000" stroke="#000" stroke-width="0.3">Bi-ChTCR</text>
<line x1="900.6" y1="487.9" x2="1004.3" y2="487.9" stroke="#000" stroke-width="2.8" stroke-linecap="round"/>
<text x="950" y="483.1" font-size="16.5" text-anchor="middle" fill="#000" stroke="#000" stroke-width="0.3">0.0190</text>
<line x1="934.5" y1="513.7" x2="995.2" y2="513.7" stroke="#000" stroke-width="2.8" stroke-linecap="round"/>
<text x="965" y="508.8" font-size="16.5" text-anchor="middle" fill="#000" stroke="#000" stroke-width="0.3">0.0190</text>
<line x1="968.4" y1="544.3" x2="995.6" y2="544.3" stroke="#000" stroke-width="2.8" stroke-linecap="round"/>
<text x="972.9" y="539.5" font-size="16.5" text-anchor="middle" fill="#000" stroke="#000" stroke-width="0.3">0.0122</text>
<line x1="1007.6" y1="544.3" x2="1036.7" y2="544.3" stroke="#000" stroke-width="2.8" stroke-linecap="round"/>
<text x="1031.4" y="539.5" font-size="16.5" text-anchor="middle" fill="#000" stroke="#000" stroke-width="0.3">0.0289</text>
<rect x="1267.1" y="464.9" width="197.5" height="302.4" fill="#fff"/>
<line x1="1277.7" y1="464.9" x2="1277.7" y2="767.3" stroke="#b4b4b4" stroke-width="1"/>
<line x1="1306.3" y1="464.9" x2="1306.3" y2="767.3" stroke="#b4b4b4" stroke-width="1"/>
<line x1="1309.4" y1="464.9" x2="1309.4" y2="767.3" stroke="#b4b4b4" stroke-width="1"/>
<line x1="1312.9" y1="464.9" x2="1312.9" y2="767.3" stroke="#b4b4b4" stroke-width="1"/>
<line x1="1342" y1="464.9" x2="1342" y2="767.3" stroke="#b4b4b4" stroke-width="1"/>
<line x1="1397.7" y1="464.9" x2="1397.7" y2="767.3" stroke="#b4b4b4" stroke-width="1"/>
<line x1="1443.7" y1="464.9" x2="1443.7" y2="767.3" stroke="#b4b4b4" stroke-width="1"/>
<line x1="1267.1" y1="570.9" x2="1464.6" y2="570.9" stroke="#9a9a9a" stroke-width="0.9"/>
<line x1="1267.1" y1="620.3" x2="1464.6" y2="620.3" stroke="#6aa84f" stroke-width="0.9"/>
<line x1="1267.1" y1="670" x2="1464.6" y2="670" stroke="#4f7197" stroke-width="0.9"/>
<line x1="1267.1" y1="720" x2="1464.6" y2="720" stroke="#8a3a5e" stroke-width="0.9"/>
<path d="M1298.9 570.9 L1303.9 568.58 L1307.9 565.29 L1311.4 553.21 L1314.4 541.53 L1317.4 523.86 L1319.9 509.58 L1322.1 496.08 L1324.1 485.56 L1325.9 479.98 L1326.9 478.6 L1328.1 480.91 L1329.9 486.91 L1331.9 497.63 L1334.4 508.02 L1336.4 517 L1338.4 525.53 L1340.9 532.94 L1343.9 545.24 L1347.4 552.41 L1351.4 561.37 L1355.9 566.12 L1360.9 569.2 L1364.9 570.9 Z" fill="#bfc1c2" stroke="none" stroke-width="1" fill-opacity="0.85"/>
<path d="M1298.9 570.9 L1303.9 568.58 L1307.9 565.29 L1311.4 553.21 L1314.4 541.53 L1317.4 523.86 L1319.9 509.58 L1322.1 496.08 L1324.1 485.56 L1325.9 479.98 L1326.9 478.6 L1328.1 480.91 L1329.9 486.91 L1331.9 497.63 L1334.4 508.02 L1336.4 517 L1338.4 525.53 L1340.9 532.94 L1343.9 545.24 L1347.4 552.41 L1351.4 561.37 L1355.9 566.12 L1360.9 569.2 L1364.9 570.9" fill="none" stroke="#8b8d8f" stroke-width="1.2" stroke-linejoin="round"/>
<path d="M1303 620.3 L1307.75 618.09 L1311.55 614.96 L1314.88 603.44 L1317.72 592.3 L1320.57 575.45 L1322.95 561.84 L1325.04 548.97 L1326.94 538.94 L1328.65 533.62 L1329.6 532.3 L1330.74 534.5 L1332.45 540.22 L1334.35 550.45 L1336.72 560.35 L1338.62 568.91 L1340.52 577.04 L1342.9 584.11 L1345.75 595.83 L1349.07 602.67 L1352.88 611.21 L1357.15 615.74 L1361.9 618.68 L1365.7 620.3 Z" fill="#7fb86a" stroke="none" stroke-width="1" fill-opacity="0.8"/>
<path d="M1303 620.3 L1307.75 618.09 L1311.55 614.96 L1314.88 603.44 L1317.72 592.3 L1320.57 575.45 L1322.95 561.84 L1325.04 548.97 L1326.94 538.94 L1328.65 533.62 L1329.6 532.3 L1330.74 534.5 L1332.45 540.22 L1334.35 550.45 L1336.72 560.35 L1338.62 568.91 L1340.52 577.04 L1342.9 584.11 L1345.75 595.83 L1349.07 602.67 L1352.88 611.21 L1357.15 615.74 L1361.9 618.68 L1365.7 620.3" fill="none" stroke="#4f9e3f" stroke-width="1.2" stroke-linejoin="round"/>
<path d="M1297.56 670 L1302.96 667.95 L1307.28 665.04 L1311.06 654.36 L1314.3 644.03 L1317.54 628.41 L1320.24 615.79 L1322.62 603.85 L1324.78 594.55 L1326.72 589.62 L1327.8 588.4 L1329.1 590.44 L1331.04 595.74 L1333.2 605.23 L1335.9 614.41 L1338.06 622.34 L1340.22 629.89 L1342.92 636.44 L1346.16 647.31 L1349.94 653.65 L1354.26 661.57 L1359.12 665.77 L1364.52 668.5 L1368.84 670 Z" fill="#5c7fa3" stroke="none" stroke-width="1" fill-opacity="0.8"/>
<path d="M1297.56 670 L1302.96 667.95 L1307.28 665.04 L1311.06 654.36 L1314.3 644.03 L1317.54 628.41 L1320.24 615.79 L1322.62 603.85 L1324.78 594.55 L1326.72 589.62 L1327.8 588.4 L1329.1 590.44 L1331.04 595.74 L1333.2 605.23 L1335.9 614.41 L1338.06 622.34 L1340.22 629.89 L1342.92 636.44 L1346.16 647.31 L1349.94 653.65 L1354.26 661.57 L1359.12 665.77 L1364.52 668.5 L1368.84 670" fill="none" stroke="#1d4f7c" stroke-width="1.2" stroke-linejoin="round"/>
<path d="M1267.19 719.82 L1293.43 718.91 L1300.67 714.21 L1306.1 708.78 L1308.81 699.73 L1311.53 687.06 L1315.15 679.82 L1319.67 676.2 L1321.48 658.11 L1324.19 638.2 L1327.81 635.49 L1331.43 636.39 L1335.96 642.73 L1338.67 654.49 L1340.48 667.16 L1344.1 679.82 L1347.72 690.68 L1354.96 696.11 L1358.58 701.54 L1365.82 707.87 L1370.34 710.22 L1374.86 706.97 L1378.48 709.68 L1387.53 708.41 L1398.39 706.97 L1405.63 706.97 L1411.96 708.78 L1414.68 706.61 L1417.39 709.68 L1423.72 710.59 L1430.96 714.57 L1436.39 715.65 L1441.82 718.73 L1449.06 719.63 L1464.44 719.63 L1464.44 720 Z" fill="#a65a7c" stroke="none" stroke-width="1" fill-opacity="0.8"/>
<path d="M1267.19 719.82 L1293.43 718.91 L1300.67 714.21 L1306.1 708.78 L1308.81 699.73 L1311.53 687.06 L1315.15 679.82 L1319.67 676.2 L1321.48 658.11 L1324.19 638.2 L1327.81 635.49 L1331.43 636.39 L1335.96 642.73 L1338.67 654.49 L1340.48 667.16 L1344.1 679.82 L1347.72 690.68 L1354.96 696.11 L1358.58 701.54 L1365.82 707.87 L1370.34 710.22 L1374.86 706.97 L1378.48 709.68 L1387.53 708.41 L1398.39 706.97 L1405.63 706.97 L1411.96 708.78 L1414.68 706.61 L1417.39 709.68 L1423.72 710.59 L1430.96 714.57 L1436.39 715.65 L1441.82 718.73 L1449.06 719.63 L1464.44 719.63 L1464.44 720" fill="none" stroke="#7d1846" stroke-width="1.2" stroke-linejoin="round"/>
<path d="M1301.6 767.5 L1306.35 765.48 L1310.15 762.62 L1313.48 752.09 L1316.33 741.91 L1319.17 726.52 L1321.55 714.09 L1323.64 702.33 L1325.54 693.16 L1327.25 688.31 L1328.2 687.1 L1329.34 689.11 L1331.05 694.34 L1332.95 703.68 L1335.33 712.73 L1337.23 720.55 L1339.12 727.98 L1341.5 734.43 L1344.35 745.14 L1347.67 751.39 L1351.48 759.2 L1355.75 763.33 L1360.5 766.02 L1364.3 767.5 Z" fill="#8fc1ea" stroke="none" stroke-width="1" fill-opacity="0.85"/>
<path d="M1301.6 767.5 L1306.35 765.48 L1310.15 762.62 L1313.48 752.09 L1316.33 741.91 L1319.17 726.52 L1321.55 714.09 L1323.64 702.33 L1325.54 693.16 L1327.25 688.31 L1328.2 687.1 L1329.34 689.11 L1331.05 694.34 L1332.95 703.68 L1335.33 712.73 L1337.23 720.55 L1339.12 727.98 L1341.5 734.43 L1344.35 745.14 L1347.67 751.39 L1351.48 759.2 L1355.75 763.33 L1360.5 766.02 L1364.3 767.5" fill="none" stroke="#4b9bd6" stroke-width="1.2" stroke-linejoin="round"/>
<rect x="1267.1" y="464.9" width="197.5" height="302.4" fill="none" stroke="#000" stroke-width="1.35"/>
<line x1="1277.7" y1="767.97" x2="1277.7" y2="775.37" stroke="#000" stroke-width="2.2"/>
<line x1="1306.3" y1="767.97" x2="1306.3" y2="775.37" stroke="#000" stroke-width="2.2"/>
<line x1="1309.4" y1="767.97" x2="1309.4" y2="775.37" stroke="#000" stroke-width="2.2"/>
<line x1="1312.9" y1="767.97" x2="1312.9" y2="775.37" stroke="#000" stroke-width="2.2"/>
<line x1="1342" y1="767.97" x2="1342" y2="775.37" stroke="#000" stroke-width="2.2"/>
<line x1="1397.7" y1="767.97" x2="1397.7" y2="775.37" stroke="#000" stroke-width="2.2"/>
<line x1="1443.7" y1="767.97" x2="1443.7" y2="775.37" stroke="#000" stroke-width="2.2"/>
<line x1="1321.03" y1="767.97" x2="1321.03" y2="772.24" stroke="#000" stroke-width="1.2"/>
<line x1="1326.31" y1="767.97" x2="1326.31" y2="772.24" stroke="#000" stroke-width="1.2"/>
<line x1="1330.06" y1="767.97" x2="1330.06" y2="772.24" stroke="#000" stroke-width="1.2"/>
<line x1="1332.97" y1="767.97" x2="1332.97" y2="772.24" stroke="#000" stroke-width="1.2"/>
<line x1="1335.34" y1="767.97" x2="1335.34" y2="772.24" stroke="#000" stroke-width="1.2"/>
<line x1="1337.35" y1="767.97" x2="1337.35" y2="772.24" stroke="#000" stroke-width="1.2"/>
<line x1="1339.09" y1="767.97" x2="1339.09" y2="772.24" stroke="#000" stroke-width="1.2"/>
<line x1="1340.63" y1="767.97" x2="1340.63" y2="772.24" stroke="#000" stroke-width="1.2"/>
<line x1="1358.77" y1="767.97" x2="1358.77" y2="772.24" stroke="#000" stroke-width="1.2"/>
<line x1="1368.58" y1="767.97" x2="1368.58" y2="772.24" stroke="#000" stroke-width="1.2"/>
<line x1="1375.53" y1="767.97" x2="1375.53" y2="772.24" stroke="#000" stroke-width="1.2"/>
<line x1="1380.93" y1="767.97" x2="1380.93" y2="772.24" stroke="#000" stroke-width="1.2"/>
<line x1="1385.34" y1="767.97" x2="1385.34" y2="772.24" stroke="#000" stroke-width="1.2"/>
<line x1="1389.07" y1="767.97" x2="1389.07" y2="772.24" stroke="#000" stroke-width="1.2"/>
<line x1="1392.3" y1="767.97" x2="1392.3" y2="772.24" stroke="#000" stroke-width="1.2"/>
<line x1="1395.15" y1="767.97" x2="1395.15" y2="772.24" stroke="#000" stroke-width="1.2"/>
<line x1="1411.55" y1="767.97" x2="1411.55" y2="772.24" stroke="#000" stroke-width="1.2"/>
<line x1="1419.65" y1="767.97" x2="1419.65" y2="772.24" stroke="#000" stroke-width="1.2"/>
<line x1="1425.39" y1="767.97" x2="1425.39" y2="772.24" stroke="#000" stroke-width="1.2"/>
<line x1="1429.85" y1="767.97" x2="1429.85" y2="772.24" stroke="#000" stroke-width="1.2"/>
<line x1="1433.49" y1="767.97" x2="1433.49" y2="772.24" stroke="#000" stroke-width="1.2"/>
<line x1="1436.57" y1="767.97" x2="1436.57" y2="772.24" stroke="#000" stroke-width="1.2"/>
<line x1="1439.24" y1="767.97" x2="1439.24" y2="772.24" stroke="#000" stroke-width="1.2"/>
<line x1="1441.6" y1="767.97" x2="1441.6" y2="772.24" stroke="#000" stroke-width="1.2"/>
<line x1="1455.47" y1="767.97" x2="1455.47" y2="772.24" stroke="#000" stroke-width="1.2"/>
<line x1="1462.36" y1="767.97" x2="1462.36" y2="772.24" stroke="#000" stroke-width="1.2"/>
<line x1="1280.38" y1="767.97" x2="1280.38" y2="772.24" stroke="#000" stroke-width="1.2"/>
<line x1="1283.06" y1="767.97" x2="1283.06" y2="772.24" stroke="#000" stroke-width="1.2"/>
<line x1="1285.74" y1="767.97" x2="1285.74" y2="772.24" stroke="#000" stroke-width="1.2"/>
<line x1="1288.42" y1="767.97" x2="1288.42" y2="772.24" stroke="#000" stroke-width="1.2"/>
<line x1="1291.1" y1="767.97" x2="1291.1" y2="772.24" stroke="#000" stroke-width="1.2"/>
<line x1="1293.78" y1="767.97" x2="1293.78" y2="772.24" stroke="#000" stroke-width="1.2"/>
<line x1="1296.46" y1="767.97" x2="1296.46" y2="772.24" stroke="#000" stroke-width="1.2"/>
<line x1="1299.14" y1="767.97" x2="1299.14" y2="772.24" stroke="#000" stroke-width="1.2"/>
<line x1="1301.82" y1="767.97" x2="1301.82" y2="772.24" stroke="#000" stroke-width="1.2"/>
<line x1="1304.5" y1="767.97" x2="1304.5" y2="774.93" stroke="#000" stroke-width="1.7"/>
<line x1="1306.6" y1="767.97" x2="1306.6" y2="774.93" stroke="#000" stroke-width="1.7"/>
<line x1="1308.7" y1="767.97" x2="1308.7" y2="774.93" stroke="#000" stroke-width="1.7"/>
<line x1="1310.8" y1="767.97" x2="1310.8" y2="774.93" stroke="#000" stroke-width="1.7"/>
<line x1="1312.9" y1="767.97" x2="1312.9" y2="774.93" stroke="#000" stroke-width="1.7"/>
<line x1="1315" y1="767.97" x2="1315" y2="774.93" stroke="#000" stroke-width="1.7"/>
<text x="1315.7" y="793" font-size="10.8" text-anchor="middle" font-weight="bold" fill="#000" font-family='"Liberation Serif", serif'>0</text>
<text x="1396.5" y="793" font-size="10.8" font-weight="bold" font-family='"Liberation Serif", serif' letter-spacing="0.8">10<tspan dy="-5.8">4</tspan></text>
<text x="1261" y="567.1" font-size="21.5" text-anchor="end" fill="#231f20" stroke="#231f20" stroke-width="0.3">Untransduced</text>
<text x="1261" y="615.1" font-size="21.5" text-anchor="end" fill="#231f20" stroke="#231f20" stroke-width="0.3">CD19-BBz CAR</text>
<text x="1261" y="662.9" font-size="21.5" text-anchor="end" fill="#231f20" stroke="#231f20" stroke-width="0.3">CD22-BBz CAR</text>
<text x="1261" y="710.9" font-size="21.5" text-anchor="end" fill="#231f20" stroke="#231f20" stroke-width="0.3">Loop CAR</text>
<text x="1261" y="758.6" font-size="21.5" text-anchor="end" fill="#231f20" stroke="#231f20" stroke-width="0.3">Bi-ChTCR</text>
<line x1="1268.6" y1="806" x2="1295.7" y2="806" stroke="#111" stroke-width="1.4"/>
<line x1="1435.7" y1="806" x2="1458.3" y2="806" stroke="#111" stroke-width="1.4"/>
<path d="M1464.3 806 L1453.8 800.5 L1453.8 811.5 Z" fill="#000"/>
<text x="1371" y="815" font-size="23.9" text-anchor="middle" fill="#231f20" stroke="#231f20" stroke-width="0.3">NF-κB-CFP</text>
<rect x="1574.3" y="793" width="20.2" height="4.4" fill="#7a7d7f" stroke="#000" stroke-width="3"/>
<rect x="1608.5" y="777.2" width="20.2" height="20.2" fill="#8fcaa0" stroke="#000" stroke-width="3"/>
<rect x="1642.4" y="786.1" width="20.2" height="11.3" fill="#2d3176" stroke="#000" stroke-width="3"/>
<rect x="1676.3" y="565.9" width="20.2" height="231.5" fill="#9d1a63" stroke="#000" stroke-width="3"/>
<rect x="1710.6" y="781.1" width="20.2" height="16.3" fill="#1ba4de" stroke="#000" stroke-width="3"/>
<line x1="1618.6" y1="768.9" x2="1618.6" y2="782.5" stroke="#000" stroke-width="2.9"/>
<line x1="1611.8" y1="768.9" x2="1625.4" y2="768.9" stroke="#000" stroke-width="2.9"/>
<line x1="1611.8" y1="782.5" x2="1625.4" y2="782.5" stroke="#000" stroke-width="2.9"/>
<line x1="1686.4" y1="552.4" x2="1686.4" y2="575" stroke="#000" stroke-width="2.9"/>
<line x1="1679.6" y1="552.4" x2="1693.2" y2="552.4" stroke="#000" stroke-width="2.9"/>
<line x1="1679.6" y1="575" x2="1693.2" y2="575" stroke="#000" stroke-width="2.9"/>
<circle cx="1577.3" cy="791.2" r="4.1" fill="#000"/>
<circle cx="1585" cy="788.3" r="4.1" fill="#000"/>
<circle cx="1592.2" cy="788.3" r="4.1" fill="#000"/>
<circle cx="1611.2" cy="770.5" r="4.1" fill="#000"/>
<circle cx="1625.7" cy="771.8" r="4.1" fill="#000"/>
<circle cx="1618.6" cy="782.1" r="4.1" fill="#000"/>
<circle cx="1645.1" cy="782.5" r="4.1" fill="#000"/>
<circle cx="1652.5" cy="779.6" r="4.1" fill="#000"/>
<circle cx="1659.7" cy="781.5" r="4.1" fill="#000"/>
<circle cx="1686.4" cy="550.3" r="4.1" fill="#000"/>
<circle cx="1680" cy="570.2" r="4.1" fill="#000"/>
<circle cx="1692.6" cy="569.3" r="4.1" fill="#000"/>
<circle cx="1713.5" cy="777.6" r="4.1" fill="#000"/>
<circle cx="1720.7" cy="774.7" r="4.1" fill="#000"/>
<circle cx="1728.5" cy="777.6" r="4.1" fill="#000"/>
<line x1="1562.2" y1="468" x2="1562.2" y2="800.7" stroke="#000" stroke-width="6.6"/>
<line x1="1543" y1="797.4" x2="1745.3" y2="797.4" stroke="#000" stroke-width="6.6"/>
<line x1="1543" y1="470.8" x2="1562.2" y2="470.8" stroke="#000" stroke-width="5.6"/>
<text x="1534.8" y="477.63" font-size="23" text-anchor="end" fill="#000" stroke="#000" stroke-width="0.3">40</text>
<line x1="1543" y1="552.4" x2="1562.2" y2="552.4" stroke="#000" stroke-width="5.6"/>
<text x="1534.8" y="559.23" font-size="23" text-anchor="end" fill="#000" stroke="#000" stroke-width="0.3">30</text>
<line x1="1543" y1="634.2" x2="1562.2" y2="634.2" stroke="#000" stroke-width="5.6"/>
<text x="1534.8" y="641.03" font-size="23" text-anchor="end" fill="#000" stroke="#000" stroke-width="0.3">20</text>
<line x1="1543" y1="716" x2="1562.2" y2="716" stroke="#000" stroke-width="5.6"/>
<text x="1534.8" y="722.83" font-size="23" text-anchor="end" fill="#000" stroke="#000" stroke-width="0.3">10</text>
<text x="1534.8" y="804.23" font-size="23" text-anchor="end" fill="#000" stroke="#000" stroke-width="0.3">0</text>
<line x1="1584.4" y1="797.4" x2="1584.4" y2="815.4" stroke="#000" stroke-width="5.6"/>
<line x1="1618.6" y1="797.4" x2="1618.6" y2="815.4" stroke="#000" stroke-width="5.6"/>
<line x1="1652.5" y1="797.4" x2="1652.5" y2="815.4" stroke="#000" stroke-width="5.6"/>
<line x1="1686.4" y1="797.4" x2="1686.4" y2="815.4" stroke="#000" stroke-width="5.6"/>
<line x1="1720.7" y1="797.4" x2="1720.7" y2="815.4" stroke="#000" stroke-width="5.6"/>
<text transform="translate(1492.34 638) rotate(-90)" font-size="22.6" text-anchor="middle" fill="#000" stroke="#000" stroke-width="0.3">%NF-kB+ cells</text>
<text transform="translate(1590.1 836.2) rotate(-45)" font-size="24" text-anchor="end" fill="#000" stroke="#000" stroke-width="0.3">Untransduced</text>
<text transform="translate(1624.3 836.2) rotate(-45)" font-size="24" text-anchor="end" fill="#000" stroke="#000" stroke-width="0.3">CD19-BBz CAR</text>
<text transform="translate(1658.2 836.2) rotate(-45)" font-size="24" text-anchor="end" fill="#000" stroke="#000" stroke-width="0.3">CD22-BBz CAR</text>
<text transform="translate(1692.1 836.2) rotate(-45)" font-size="24" text-anchor="end" fill="#000" stroke="#000" stroke-width="0.3">Loop CAR</text>
<text transform="translate(1726.4 836.2) rotate(-45)" font-size="24" text-anchor="end" fill="#000" stroke="#000" stroke-width="0.3">Bi-ChTCR</text>
<line x1="1617.4" y1="474.7" x2="1687.8" y2="474.7" stroke="#000" stroke-width="2.8" stroke-linecap="round"/>
<text x="1652.5" y="470.8" font-size="16.5" text-anchor="middle" fill="#000" stroke="#000" stroke-width="0.3">0.0009</text>
<line x1="1584" y1="504.7" x2="1679" y2="504.7" stroke="#000" stroke-width="2.8" stroke-linecap="round"/>
<text x="1633" y="500.8" font-size="16.5" text-anchor="middle" fill="#000" stroke="#000" stroke-width="0.3">0.0012</text>
<line x1="1651.9" y1="534.7" x2="1679" y2="534.7" stroke="#000" stroke-width="2.8" stroke-linecap="round"/>
<text x="1654.2" y="530.5" font-size="16.5" text-anchor="middle" fill="#000" stroke="#000" stroke-width="0.3">0.0034</text>
<line x1="1694.5" y1="534.7" x2="1721.7" y2="534.7" stroke="#000" stroke-width="2.8" stroke-linecap="round"/>
<text x="1717.8" y="530.5" font-size="16.5" text-anchor="middle" fill="#000" stroke="#000" stroke-width="0.3">0.0030</text>
<rect x="1939.6" y="711.95" width="19" height="83.75" fill="#7a7d7f" stroke="#000" stroke-width="2.9"/>
<rect x="1972.5" y="688.15" width="19" height="107.55" fill="#8fcaa0" stroke="#000" stroke-width="2.9"/>
<rect x="2004.4" y="715.75" width="19" height="79.95" fill="#2d3176" stroke="#000" stroke-width="2.9"/>
<rect x="2036.4" y="538.65" width="19" height="257.05" fill="#9d1a63" stroke="#000" stroke-width="2.9"/>
<rect x="2068.6" y="686.25" width="19" height="109.45" fill="#1ba4de" stroke="#000" stroke-width="2.9"/>
<line x1="1949.1" y1="705.2" x2="1949.1" y2="714" stroke="#000" stroke-width="2.9"/>
<line x1="1942.6" y1="705.2" x2="1955.6" y2="705.2" stroke="#000" stroke-width="2.9"/>
<line x1="1942.6" y1="714" x2="1955.6" y2="714" stroke="#000" stroke-width="2.9"/>
<line x1="1982" y1="654" x2="1982" y2="721" stroke="#000" stroke-width="2.9"/>
<line x1="1975.5" y1="654" x2="1988.5" y2="654" stroke="#000" stroke-width="2.9"/>
<line x1="1975.5" y1="721" x2="1988.5" y2="721" stroke="#000" stroke-width="2.9"/>
<line x1="2013.9" y1="704.8" x2="2013.9" y2="723" stroke="#000" stroke-width="2.9"/>
<line x1="2007.4" y1="704.8" x2="2020.4" y2="704.8" stroke="#000" stroke-width="2.9"/>
<line x1="2007.4" y1="723" x2="2020.4" y2="723" stroke="#000" stroke-width="2.9"/>
<line x1="2045.9" y1="509.5" x2="2045.9" y2="565.7" stroke="#000" stroke-width="2.9"/>
<line x1="2039.4" y1="509.5" x2="2052.4" y2="509.5" stroke="#000" stroke-width="2.9"/>
<line x1="2039.4" y1="565.7" x2="2052.4" y2="565.7" stroke="#000" stroke-width="2.9"/>
<line x1="2078.1" y1="675.3" x2="2078.1" y2="694.3" stroke="#000" stroke-width="2.9"/>
<line x1="2071.6" y1="675.3" x2="2084.6" y2="675.3" stroke="#000" stroke-width="2.9"/>
<line x1="2071.6" y1="694.3" x2="2084.6" y2="694.3" stroke="#000" stroke-width="2.9"/>
<circle cx="1949.1" cy="702.9" r="4.1" fill="#000"/>
<circle cx="1941.5" cy="716.2" r="4.1" fill="#000"/>
<circle cx="1956.1" cy="711.5" r="4.1" fill="#000"/>
<circle cx="1981.5" cy="647.7" r="4.1" fill="#000"/>
<circle cx="1974.8" cy="706.7" r="4.1" fill="#000"/>
<circle cx="1988.1" cy="705.8" r="4.1" fill="#000"/>
<circle cx="2006.8" cy="705.8" r="4.1" fill="#000"/>
<circle cx="2020.5" cy="710.5" r="4.1" fill="#000"/>
<circle cx="2012.9" cy="725.8" r="4.1" fill="#000"/>
<circle cx="2045.9" cy="504.8" r="4.1" fill="#000"/>
<circle cx="2045.9" cy="546.7" r="4.1" fill="#000"/>
<circle cx="2045.9" cy="561" r="4.1" fill="#000"/>
<circle cx="2078.1" cy="674.3" r="4.1" fill="#000"/>
<circle cx="2078.1" cy="683.9" r="4.1" fill="#000"/>
<circle cx="2078.1" cy="696.2" r="4.1" fill="#000"/>
<line x1="1928.1" y1="484.8" x2="1928.1" y2="798.9" stroke="#000" stroke-width="6.4"/>
<line x1="1909.6" y1="795.7" x2="2103" y2="795.7" stroke="#000" stroke-width="6.4"/>
<line x1="1909.6" y1="487.6" x2="1928.1" y2="487.6" stroke="#000" stroke-width="5.6"/>
<text x="1902.6" y="494.29" font-size="22.6" text-anchor="end" fill="#000" stroke="#000" stroke-width="0.3">8000</text>
<line x1="1909.6" y1="565.2" x2="1928.1" y2="565.2" stroke="#000" stroke-width="5.6"/>
<text x="1902.6" y="571.89" font-size="22.6" text-anchor="end" fill="#000" stroke="#000" stroke-width="0.3">6000</text>
<line x1="1909.6" y1="642" x2="1928.1" y2="642" stroke="#000" stroke-width="5.6"/>
<text x="1902.6" y="648.69" font-size="22.6" text-anchor="end" fill="#000" stroke="#000" stroke-width="0.3">4000</text>
<line x1="1909.6" y1="719.1" x2="1928.1" y2="719.1" stroke="#000" stroke-width="5.6"/>
<text x="1902.6" y="725.79" font-size="22.6" text-anchor="end" fill="#000" stroke="#000" stroke-width="0.3">2000</text>
<text x="1902.6" y="802.39" font-size="22.6" text-anchor="end" fill="#000" stroke="#000" stroke-width="0.3">0</text>
<line x1="1949.1" y1="795.7" x2="1949.1" y2="813.7" stroke="#000" stroke-width="5.6"/>
<line x1="1982" y1="795.7" x2="1982" y2="813.7" stroke="#000" stroke-width="5.6"/>
<line x1="2013.9" y1="795.7" x2="2013.9" y2="813.7" stroke="#000" stroke-width="5.6"/>
<line x1="2045.9" y1="795.7" x2="2045.9" y2="813.7" stroke="#000" stroke-width="5.6"/>
<line x1="2078.1" y1="795.7" x2="2078.1" y2="813.7" stroke="#000" stroke-width="5.6"/>
<text transform="translate(1834.94 646.7) rotate(-90)" font-size="21.5" text-anchor="middle" fill="#000" stroke="#000" stroke-width="0.3">Geometric Mean NF-kB-CFP</text>
<text transform="translate(1954.7 833.5) rotate(-45)" font-size="22.9" text-anchor="end" fill="#000" stroke="#000" stroke-width="0.3">Untransduced</text>
<text transform="translate(1987.6 833.5) rotate(-45)" font-size="22.9" text-anchor="end" fill="#000" stroke="#000" stroke-width="0.3">CD19-BBz CAR</text>
<text transform="translate(2019.5 833.5) rotate(-45)" font-size="22.9" text-anchor="end" fill="#000" stroke="#000" stroke-width="0.3">CD22-BBz CAR</text>
<text transform="translate(2051.5 833.5) rotate(-45)" font-size="22.9" text-anchor="end" fill="#000" stroke="#000" stroke-width="0.3">Loop CAR</text>
<text transform="translate(2083.7 833.5) rotate(-45)" font-size="22.9" text-anchor="end" fill="#000" stroke="#000" stroke-width="0.3">Bi-ChTCR</text>
<line x1="1947.7" y1="460.4" x2="2046.8" y2="460.4" stroke="#000" stroke-width="2.8" stroke-linecap="round"/>
<text x="1994.8" y="456.6" font-size="16.6" text-anchor="middle" fill="#000" stroke="#000" stroke-width="0.3">0.0332</text>
<line x1="1980.5" y1="488" x2="2038.6" y2="488" stroke="#000" stroke-width="2.8" stroke-linecap="round"/>
<text x="2009.1" y="483.8" font-size="16.6" text-anchor="middle" fill="#000" stroke="#000" stroke-width="0.3">0.0020</text>
<line x1="2052.9" y1="488" x2="2079.2" y2="488" stroke="#000" stroke-width="2.8" stroke-linecap="round"/>
<text x="2066.8" y="483.8" font-size="16.6" text-anchor="middle" fill="#000" stroke="#000" stroke-width="0.3">0.0198</text>
<rect x="170.4" y="1044.6" width="197.1" height="302.7" fill="#fff"/>
<line x1="181.6" y1="1044.6" x2="181.6" y2="1347.3" stroke="#b4b4b4" stroke-width="1"/>
<line x1="210.2" y1="1044.6" x2="210.2" y2="1347.3" stroke="#b4b4b4" stroke-width="1"/>
<line x1="213.2" y1="1044.6" x2="213.2" y2="1347.3" stroke="#b4b4b4" stroke-width="1"/>
<line x1="217.9" y1="1044.6" x2="217.9" y2="1347.3" stroke="#b4b4b4" stroke-width="1"/>
<line x1="245.4" y1="1044.6" x2="245.4" y2="1347.3" stroke="#b4b4b4" stroke-width="1"/>
<line x1="300.5" y1="1044.6" x2="300.5" y2="1347.3" stroke="#b4b4b4" stroke-width="1"/>
<line x1="347.2" y1="1044.6" x2="347.2" y2="1347.3" stroke="#b4b4b4" stroke-width="1"/>
<line x1="170.4" y1="1151.1" x2="367.5" y2="1151.1" stroke="#9a9a9a" stroke-width="0.9"/>
<line x1="170.4" y1="1200.6" x2="367.5" y2="1200.6" stroke="#6aa84f" stroke-width="0.9"/>
<line x1="170.4" y1="1250.1" x2="367.5" y2="1250.1" stroke="#4f7197" stroke-width="0.9"/>
<line x1="170.4" y1="1299.6" x2="367.5" y2="1299.6" stroke="#8a3a5e" stroke-width="0.9"/>
<path d="M208.73 1151.1 L210.28 1149.73 L211.33 1145.62 L212.39 1132.84 L213.38 1117.32 L214.12 1105.45 L214.93 1089.02 L215.74 1073.49 L216.48 1063.45 L217.1 1059.8 L217.66 1063 L218.34 1071.67 L219.15 1082.62 L219.95 1093.58 L220.63 1100.88 L221.38 1109.1 L222.25 1118.23 L223.3 1127.36 L224.54 1135.58 L226.09 1141.97 L227.95 1146.08 L230.12 1148.82 L232.6 1151.1 Z" fill="#bfc1c2" stroke="none" stroke-width="1" fill-opacity="0.85"/>
<path d="M208.73 1151.1 L210.28 1149.73 L211.33 1145.62 L212.39 1132.84 L213.38 1117.32 L214.12 1105.45 L214.93 1089.02 L215.74 1073.49 L216.48 1063.45 L217.1 1059.8 L217.66 1063 L218.34 1071.67 L219.15 1082.62 L219.95 1093.58 L220.63 1100.88 L221.38 1109.1 L222.25 1118.23 L223.3 1127.36 L224.54 1135.58 L226.09 1141.97 L227.95 1146.08 L230.12 1148.82 L232.6 1151.1" fill="none" stroke="#8b8d8f" stroke-width="1.2" stroke-linejoin="round"/>
<path d="M209.39 1200.6 L211.04 1199.26 L212.16 1195.26 L213.28 1182.8 L214.34 1167.67 L215.13 1156.1 L215.99 1140.08 L216.85 1124.95 L217.64 1115.16 L218.3 1111.6 L218.89 1114.71 L219.62 1123.17 L220.48 1133.85 L221.34 1144.53 L222.06 1151.65 L222.85 1159.66 L223.78 1168.56 L224.9 1177.46 L226.22 1185.47 L227.87 1191.7 L229.85 1195.7 L232.16 1198.38 L234.8 1200.6 Z" fill="#7fb86a" stroke="none" stroke-width="1" fill-opacity="0.8"/>
<path d="M209.39 1200.6 L211.04 1199.26 L212.16 1195.26 L213.28 1182.8 L214.34 1167.67 L215.13 1156.1 L215.99 1140.08 L216.85 1124.95 L217.64 1115.16 L218.3 1111.6 L218.89 1114.71 L219.62 1123.17 L220.48 1133.85 L221.34 1144.53 L222.06 1151.65 L222.85 1159.66 L223.78 1168.56 L224.9 1177.46 L226.22 1185.47 L227.87 1191.7 L229.85 1195.7 L232.16 1198.38 L234.8 1200.6" fill="none" stroke="#4f9e3f" stroke-width="1.2" stroke-linejoin="round"/>
<path d="M208.18 1250.1 L209.98 1248.74 L211.2 1244.66 L212.43 1231.98 L213.58 1216.58 L214.44 1204.8 L215.38 1188.49 L216.32 1173.09 L217.18 1163.12 L217.9 1159.5 L218.55 1162.67 L219.34 1171.28 L220.28 1182.15 L221.21 1193.02 L222 1200.27 L222.87 1208.42 L223.88 1217.48 L225.1 1226.54 L226.54 1234.7 L228.34 1241.04 L230.5 1245.12 L233.02 1247.83 L235.9 1250.1 Z" fill="#5c7fa3" stroke="none" stroke-width="1" fill-opacity="0.8"/>
<path d="M208.18 1250.1 L209.98 1248.74 L211.2 1244.66 L212.43 1231.98 L213.58 1216.58 L214.44 1204.8 L215.38 1188.49 L216.32 1173.09 L217.18 1163.12 L217.9 1159.5 L218.55 1162.67 L219.34 1171.28 L220.28 1182.15 L221.21 1193.02 L222 1200.27 L222.87 1208.42 L223.88 1217.48 L225.1 1226.54 L226.54 1234.7 L228.34 1241.04 L230.5 1245.12 L233.02 1247.83 L235.9 1250.1" fill="none" stroke="#1d4f7c" stroke-width="1.2" stroke-linejoin="round"/>
<path d="M170.39 1299.98 L205.51 1299.58 L208.3 1297.19 L210.69 1287.21 L213.09 1255.29 L215.08 1223.37 L216.68 1207.41 L218.68 1219.38 L220.67 1247.31 L223.46 1273.25 L226.26 1285.22 L229.45 1292 L239.43 1297.19 L271.35 1298.39 L272.15 1299.98 Z" fill="#a65a7c" stroke="none" stroke-width="1" fill-opacity="0.8"/>
<path d="M170.39 1299.98 L205.51 1299.58 L208.3 1297.19 L210.69 1287.21 L213.09 1255.29 L215.08 1223.37 L216.68 1207.41 L218.68 1219.38 L220.67 1247.31 L223.46 1273.25 L226.26 1285.22 L229.45 1292 L239.43 1297.19 L271.35 1298.39 L272.15 1299.98" fill="none" stroke="#7d1846" stroke-width="1.2" stroke-linejoin="round"/>
<path d="M208.99 1346.9 L210.64 1345.56 L211.76 1341.52 L212.88 1328.98 L213.94 1313.75 L214.73 1302.1 L215.59 1285.97 L216.45 1270.74 L217.24 1260.88 L217.9 1257.3 L218.49 1260.44 L219.22 1268.95 L220.08 1279.7 L220.94 1290.45 L221.66 1297.62 L222.45 1305.68 L223.38 1314.64 L224.5 1323.6 L225.82 1331.67 L227.47 1337.94 L229.45 1341.97 L231.76 1344.66 L234.4 1346.9 Z" fill="#8fc1ea" stroke="none" stroke-width="1" fill-opacity="0.85"/>
<path d="M208.99 1346.9 L210.64 1345.56 L211.76 1341.52 L212.88 1328.98 L213.94 1313.75 L214.73 1302.1 L215.59 1285.97 L216.45 1270.74 L217.24 1260.88 L217.9 1257.3 L218.49 1260.44 L219.22 1268.95 L220.08 1279.7 L220.94 1290.45 L221.66 1297.62 L222.45 1305.68 L223.38 1314.64 L224.5 1323.6 L225.82 1331.67 L227.47 1337.94 L229.45 1341.97 L231.76 1344.66 L234.4 1346.9" fill="none" stroke="#4b9bd6" stroke-width="1.2" stroke-linejoin="round"/>
<rect x="170.4" y="1044.6" width="197.1" height="302.7" fill="none" stroke="#000" stroke-width="1.35"/>
<line x1="181.6" y1="1347.97" x2="181.6" y2="1355.37" stroke="#000" stroke-width="2.2"/>
<line x1="210.2" y1="1347.97" x2="210.2" y2="1355.37" stroke="#000" stroke-width="2.2"/>
<line x1="213.2" y1="1347.97" x2="213.2" y2="1355.37" stroke="#000" stroke-width="2.2"/>
<line x1="217.9" y1="1347.97" x2="217.9" y2="1355.37" stroke="#000" stroke-width="2.2"/>
<line x1="245.4" y1="1347.97" x2="245.4" y2="1355.37" stroke="#000" stroke-width="2.2"/>
<line x1="300.5" y1="1347.97" x2="300.5" y2="1355.37" stroke="#000" stroke-width="2.2"/>
<line x1="347.2" y1="1347.97" x2="347.2" y2="1355.37" stroke="#000" stroke-width="2.2"/>
<line x1="225.9" y1="1347.97" x2="225.9" y2="1352.24" stroke="#000" stroke-width="1.2"/>
<line x1="230.81" y1="1347.97" x2="230.81" y2="1352.24" stroke="#000" stroke-width="1.2"/>
<line x1="234.3" y1="1347.97" x2="234.3" y2="1352.24" stroke="#000" stroke-width="1.2"/>
<line x1="237" y1="1347.97" x2="237" y2="1352.24" stroke="#000" stroke-width="1.2"/>
<line x1="239.21" y1="1347.97" x2="239.21" y2="1352.24" stroke="#000" stroke-width="1.2"/>
<line x1="241.08" y1="1347.97" x2="241.08" y2="1352.24" stroke="#000" stroke-width="1.2"/>
<line x1="242.7" y1="1347.97" x2="242.7" y2="1352.24" stroke="#000" stroke-width="1.2"/>
<line x1="244.12" y1="1347.97" x2="244.12" y2="1352.24" stroke="#000" stroke-width="1.2"/>
<line x1="261.99" y1="1347.97" x2="261.99" y2="1352.24" stroke="#000" stroke-width="1.2"/>
<line x1="271.69" y1="1347.97" x2="271.69" y2="1352.24" stroke="#000" stroke-width="1.2"/>
<line x1="278.57" y1="1347.97" x2="278.57" y2="1352.24" stroke="#000" stroke-width="1.2"/>
<line x1="283.91" y1="1347.97" x2="283.91" y2="1352.24" stroke="#000" stroke-width="1.2"/>
<line x1="288.28" y1="1347.97" x2="288.28" y2="1352.24" stroke="#000" stroke-width="1.2"/>
<line x1="291.96" y1="1347.97" x2="291.96" y2="1352.24" stroke="#000" stroke-width="1.2"/>
<line x1="295.16" y1="1347.97" x2="295.16" y2="1352.24" stroke="#000" stroke-width="1.2"/>
<line x1="297.98" y1="1347.97" x2="297.98" y2="1352.24" stroke="#000" stroke-width="1.2"/>
<line x1="314.56" y1="1347.97" x2="314.56" y2="1352.24" stroke="#000" stroke-width="1.2"/>
<line x1="322.78" y1="1347.97" x2="322.78" y2="1352.24" stroke="#000" stroke-width="1.2"/>
<line x1="328.62" y1="1347.97" x2="328.62" y2="1352.24" stroke="#000" stroke-width="1.2"/>
<line x1="333.14" y1="1347.97" x2="333.14" y2="1352.24" stroke="#000" stroke-width="1.2"/>
<line x1="336.84" y1="1347.97" x2="336.84" y2="1352.24" stroke="#000" stroke-width="1.2"/>
<line x1="339.97" y1="1347.97" x2="339.97" y2="1352.24" stroke="#000" stroke-width="1.2"/>
<line x1="342.67" y1="1347.97" x2="342.67" y2="1352.24" stroke="#000" stroke-width="1.2"/>
<line x1="345.06" y1="1347.97" x2="345.06" y2="1352.24" stroke="#000" stroke-width="1.2"/>
<line x1="359.15" y1="1347.97" x2="359.15" y2="1352.24" stroke="#000" stroke-width="1.2"/>
<line x1="366.14" y1="1347.97" x2="366.14" y2="1352.24" stroke="#000" stroke-width="1.2"/>
<line x1="184.39" y1="1347.97" x2="184.39" y2="1352.24" stroke="#000" stroke-width="1.2"/>
<line x1="187.18" y1="1347.97" x2="187.18" y2="1352.24" stroke="#000" stroke-width="1.2"/>
<line x1="189.97" y1="1347.97" x2="189.97" y2="1352.24" stroke="#000" stroke-width="1.2"/>
<line x1="192.76" y1="1347.97" x2="192.76" y2="1352.24" stroke="#000" stroke-width="1.2"/>
<line x1="195.55" y1="1347.97" x2="195.55" y2="1352.24" stroke="#000" stroke-width="1.2"/>
<line x1="198.34" y1="1347.97" x2="198.34" y2="1352.24" stroke="#000" stroke-width="1.2"/>
<line x1="201.13" y1="1347.97" x2="201.13" y2="1352.24" stroke="#000" stroke-width="1.2"/>
<line x1="203.92" y1="1347.97" x2="203.92" y2="1352.24" stroke="#000" stroke-width="1.2"/>
<line x1="206.71" y1="1347.97" x2="206.71" y2="1352.24" stroke="#000" stroke-width="1.2"/>
<line x1="209.5" y1="1347.97" x2="209.5" y2="1354.93" stroke="#000" stroke-width="1.7"/>
<line x1="211.6" y1="1347.97" x2="211.6" y2="1354.93" stroke="#000" stroke-width="1.7"/>
<line x1="213.7" y1="1347.97" x2="213.7" y2="1354.93" stroke="#000" stroke-width="1.7"/>
<line x1="215.8" y1="1347.97" x2="215.8" y2="1354.93" stroke="#000" stroke-width="1.7"/>
<line x1="217.9" y1="1347.97" x2="217.9" y2="1354.93" stroke="#000" stroke-width="1.7"/>
<line x1="220" y1="1347.97" x2="220" y2="1354.93" stroke="#000" stroke-width="1.7"/>
<text x="219.6" y="1373" font-size="10.8" text-anchor="middle" font-weight="bold" fill="#000" font-family='"Liberation Serif", serif'>0</text>
<text x="299" y="1373" font-size="10.8" font-weight="bold" font-family='"Liberation Serif", serif' letter-spacing="0.8">10<tspan dy="-5.8">4</tspan></text>
<text x="163.7" y="1146.4" font-size="21.5" text-anchor="end" fill="#231f20" stroke="#231f20" stroke-width="0.3">Untransduced</text>
<text x="163.7" y="1194.2" font-size="21.5" text-anchor="end" fill="#231f20" stroke="#231f20" stroke-width="0.3">CD19-BBz CAR</text>
<text x="163.7" y="1242.1" font-size="21.5" text-anchor="end" fill="#231f20" stroke="#231f20" stroke-width="0.3">CD22-BBz CAR</text>
<text x="163.7" y="1290" font-size="21.5" text-anchor="end" fill="#231f20" stroke="#231f20" stroke-width="0.3">Loop CAR</text>
<text x="163.7" y="1337.9" font-size="21.5" text-anchor="end" fill="#231f20" stroke="#231f20" stroke-width="0.3">Bi-ChTCR</text>
<line x1="171.6" y1="1389.4" x2="198.3" y2="1389.4" stroke="#111" stroke-width="1.4"/>
<line x1="338.4" y1="1389.4" x2="360.3" y2="1389.4" stroke="#111" stroke-width="1.4"/>
<path d="M366.3 1389.4 L355.8 1383.9 L355.8 1394.9 Z" fill="#000"/>
<text x="267.3" y="1395.2" font-size="20.45" text-anchor="middle" fill="#231f20" stroke="#231f20" stroke-width="0.3">AP-1-mCherry</text>
<rect x="507.1" y="1372.45" width="19" height="10.35" fill="#7a7d7f" stroke="#000" stroke-width="2.9"/>
<rect x="541" y="1281.95" width="19" height="100.85" fill="#8fcaa0" stroke="#000" stroke-width="2.9"/>
<rect x="574.4" y="1345.75" width="19" height="37.05" fill="#2d3176" stroke="#000" stroke-width="2.9"/>
<rect x="609" y="1173.35" width="19" height="209.45" fill="#9d1a63" stroke="#000" stroke-width="2.9"/>
<rect x="642.9" y="1339.05" width="19" height="43.75" fill="#1ba4de" stroke="#000" stroke-width="2.9"/>
<line x1="516.6" y1="1364.3" x2="516.6" y2="1373" stroke="#000" stroke-width="2.9"/>
<line x1="510.1" y1="1364.3" x2="523.1" y2="1364.3" stroke="#000" stroke-width="2.9"/>
<line x1="510.1" y1="1373" x2="523.1" y2="1373" stroke="#000" stroke-width="2.9"/>
<line x1="550.5" y1="1232.9" x2="550.5" y2="1328.1" stroke="#000" stroke-width="2.9"/>
<line x1="544" y1="1232.9" x2="557" y2="1232.9" stroke="#000" stroke-width="2.9"/>
<line x1="544" y1="1328.1" x2="557" y2="1328.1" stroke="#000" stroke-width="2.9"/>
<line x1="618.5" y1="1151" x2="618.5" y2="1191.9" stroke="#000" stroke-width="2.9"/>
<line x1="612" y1="1151" x2="625" y2="1151" stroke="#000" stroke-width="2.9"/>
<line x1="612" y1="1191.9" x2="625" y2="1191.9" stroke="#000" stroke-width="2.9"/>
<line x1="652.4" y1="1331" x2="652.4" y2="1348.1" stroke="#000" stroke-width="2.9"/>
<line x1="645.9" y1="1331" x2="658.9" y2="1331" stroke="#000" stroke-width="2.9"/>
<line x1="645.9" y1="1348.1" x2="658.9" y2="1348.1" stroke="#000" stroke-width="2.9"/>
<circle cx="509.1" cy="1364.3" r="4.1" fill="#000"/>
<circle cx="523.8" cy="1370" r="4.1" fill="#000"/>
<circle cx="512.5" cy="1375" r="4.1" fill="#000"/>
<circle cx="550.5" cy="1225.6" r="4.1" fill="#000"/>
<circle cx="550.5" cy="1303.3" r="4.1" fill="#000"/>
<circle cx="550.5" cy="1312.9" r="4.1" fill="#000"/>
<circle cx="578.1" cy="1344.3" r="4.1" fill="#000"/>
<circle cx="584.2" cy="1342.4" r="4.1" fill="#000"/>
<circle cx="590.5" cy="1343.3" r="4.1" fill="#000"/>
<circle cx="618.5" cy="1155.7" r="4.1" fill="#000"/>
<circle cx="618.5" cy="1164.3" r="4.1" fill="#000"/>
<circle cx="618.5" cy="1193.8" r="4.1" fill="#000"/>
<circle cx="652.4" cy="1327.1" r="4.1" fill="#000"/>
<circle cx="646.7" cy="1346.2" r="4.1" fill="#000"/>
<circle cx="659.4" cy="1340.5" r="4.1" fill="#000"/>
<line x1="494.3" y1="1055.4" x2="494.3" y2="1386.1" stroke="#000" stroke-width="6.6"/>
<line x1="475.2" y1="1382.8" x2="677.1" y2="1382.8" stroke="#000" stroke-width="6.6"/>
<line x1="475.2" y1="1058.2" x2="494.3" y2="1058.2" stroke="#000" stroke-width="5.6"/>
<text x="467.8" y="1064.82" font-size="22.4" text-anchor="end" fill="#000" stroke="#000" stroke-width="0.3">15</text>
<line x1="475.2" y1="1166.2" x2="494.3" y2="1166.2" stroke="#000" stroke-width="5.6"/>
<text x="467.8" y="1172.82" font-size="22.4" text-anchor="end" fill="#000" stroke="#000" stroke-width="0.3">10</text>
<line x1="475.2" y1="1274.4" x2="494.3" y2="1274.4" stroke="#000" stroke-width="5.6"/>
<text x="467.8" y="1281.02" font-size="22.4" text-anchor="end" fill="#000" stroke="#000" stroke-width="0.3">5</text>
<text x="467.8" y="1389.42" font-size="22.4" text-anchor="end" fill="#000" stroke="#000" stroke-width="0.3">0</text>
<line x1="516.6" y1="1382.8" x2="516.6" y2="1399.8" stroke="#000" stroke-width="5.6"/>
<line x1="550.5" y1="1382.8" x2="550.5" y2="1399.8" stroke="#000" stroke-width="5.6"/>
<line x1="583.9" y1="1382.8" x2="583.9" y2="1399.8" stroke="#000" stroke-width="5.6"/>
<line x1="618.5" y1="1382.8" x2="618.5" y2="1399.8" stroke="#000" stroke-width="5.6"/>
<line x1="652.4" y1="1382.8" x2="652.4" y2="1399.8" stroke="#000" stroke-width="5.6"/>
<text transform="translate(424.34 1225.8) rotate(-90)" font-size="22.6" text-anchor="middle" fill="#000" stroke="#000" stroke-width="0.3">%AP-1+ cells</text>
<text transform="translate(523.6 1423.3) rotate(-45)" font-size="23.7" text-anchor="end" fill="#000" stroke="#000" stroke-width="0.3">Untransduced</text>
<text transform="translate(557.5 1423.3) rotate(-45)" font-size="23.7" text-anchor="end" fill="#000" stroke="#000" stroke-width="0.3">CD19-BBz CAR</text>
<text transform="translate(590.9 1423.3) rotate(-45)" font-size="23.7" text-anchor="end" fill="#000" stroke="#000" stroke-width="0.3">CD22-BBz CAR</text>
<text transform="translate(625.5 1423.3) rotate(-45)" font-size="23.7" text-anchor="end" fill="#000" stroke="#000" stroke-width="0.3">Loop CAR</text>
<text transform="translate(659.4 1423.3) rotate(-45)" font-size="23.7" text-anchor="end" fill="#000" stroke="#000" stroke-width="0.3">Bi-ChTCR</text>
<line x1="515.2" y1="1083" x2="585.1" y2="1083" stroke="#000" stroke-width="2.8" stroke-linecap="round"/>
<text x="549.5" y="1078.6" font-size="16.8" text-anchor="middle" fill="#000" stroke="#000" stroke-width="0.3">0.0320</text>
<line x1="515.2" y1="1111" x2="619.4" y2="1111" stroke="#000" stroke-width="2.8" stroke-linecap="round"/>
<text x="564.2" y="1106.2" font-size="16.8" text-anchor="middle" fill="#000" stroke="#000" stroke-width="0.3">0.0074</text>
<line x1="583.2" y1="1137.6" x2="610.5" y2="1137.6" stroke="#000" stroke-width="2.8" stroke-linecap="round"/>
<text x="587.6" y="1133.8" font-size="16.8" text-anchor="middle" fill="#000" stroke="#000" stroke-width="0.3">0.0139</text>
<line x1="625.7" y1="1137.6" x2="653.3" y2="1137.6" stroke="#000" stroke-width="2.8" stroke-linecap="round"/>
<text x="645.7" y="1133.8" font-size="16.8" text-anchor="middle" fill="#000" stroke="#000" stroke-width="0.3">0.0124</text>
<rect x="866.65" y="1248.95" width="18.7" height="129.75" fill="#7a7d7f" stroke="#000" stroke-width="2.9"/>
<rect x="900.55" y="1207.35" width="18.7" height="171.35" fill="#8fcaa0" stroke="#000" stroke-width="2.9"/>
<rect x="934.15" y="1228.65" width="18.7" height="150.05" fill="#2d3176" stroke="#000" stroke-width="2.9"/>
<rect x="968.55" y="1112.95" width="18.7" height="265.75" fill="#9d1a63" stroke="#000" stroke-width="2.9"/>
<rect x="1002.65" y="1217.95" width="18.7" height="160.75" fill="#1ba4de" stroke="#000" stroke-width="2.9"/>
<line x1="876" y1="1233.9" x2="876" y2="1262.7" stroke="#000" stroke-width="2.9"/>
<line x1="869.5" y1="1233.9" x2="882.5" y2="1233.9" stroke="#000" stroke-width="2.9"/>
<line x1="869.5" y1="1262.7" x2="882.5" y2="1262.7" stroke="#000" stroke-width="2.9"/>
<line x1="909.9" y1="1179.2" x2="909.9" y2="1232" stroke="#000" stroke-width="2.9"/>
<line x1="903.4" y1="1179.2" x2="916.4" y2="1179.2" stroke="#000" stroke-width="2.9"/>
<line x1="903.4" y1="1232" x2="916.4" y2="1232" stroke="#000" stroke-width="2.9"/>
<line x1="943.5" y1="1204" x2="943.5" y2="1249.9" stroke="#000" stroke-width="2.9"/>
<line x1="937" y1="1204" x2="950" y2="1204" stroke="#000" stroke-width="2.9"/>
<line x1="937" y1="1249.9" x2="950" y2="1249.9" stroke="#000" stroke-width="2.9"/>
<line x1="977.9" y1="1102.7" x2="977.9" y2="1118.7" stroke="#000" stroke-width="2.9"/>
<line x1="971.4" y1="1102.7" x2="984.4" y2="1102.7" stroke="#000" stroke-width="2.9"/>
<line x1="971.4" y1="1118.7" x2="984.4" y2="1118.7" stroke="#000" stroke-width="2.9"/>
<line x1="1012" y1="1207.5" x2="1012" y2="1227.2" stroke="#000" stroke-width="2.9"/>
<line x1="1005.5" y1="1207.5" x2="1018.5" y2="1207.5" stroke="#000" stroke-width="2.9"/>
<line x1="1005.5" y1="1227.2" x2="1018.5" y2="1227.2" stroke="#000" stroke-width="2.9"/>
<circle cx="876" cy="1232.5" r="4.1" fill="#000"/>
<circle cx="876" cy="1249.3" r="4.1" fill="#000"/>
<circle cx="876" cy="1261.3" r="4.1" fill="#000"/>
<circle cx="909.9" cy="1175.5" r="4.1" fill="#000"/>
<circle cx="902.7" cy="1223.5" r="4.1" fill="#000"/>
<circle cx="917.3" cy="1216.5" r="4.1" fill="#000"/>
<circle cx="943.5" cy="1201.9" r="4.1" fill="#000"/>
<circle cx="943.5" cy="1234.7" r="4.1" fill="#000"/>
<circle cx="943.5" cy="1246.7" r="4.1" fill="#000"/>
<circle cx="977.9" cy="1100.8" r="4.1" fill="#000"/>
<circle cx="974.7" cy="1114.7" r="4.1" fill="#000"/>
<circle cx="981.3" cy="1114.7" r="4.1" fill="#000"/>
<circle cx="1012" cy="1205.9" r="4.1" fill="#000"/>
<circle cx="1006.7" cy="1226.1" r="4.1" fill="#000"/>
<circle cx="1016" cy="1218.7" r="4.1" fill="#000"/>
<line x1="853.3" y1="1052.4" x2="853.3" y2="1382" stroke="#000" stroke-width="6.6"/>
<line x1="834.7" y1="1378.7" x2="1036" y2="1378.7" stroke="#000" stroke-width="6.6"/>
<line x1="834.7" y1="1055.2" x2="853.3" y2="1055.2" stroke="#000" stroke-width="5.6"/>
<text x="825.5" y="1061.82" font-size="22.4" text-anchor="end" fill="#000" stroke="#000" stroke-width="0.3">1500</text>
<line x1="834.7" y1="1163.2" x2="853.3" y2="1163.2" stroke="#000" stroke-width="5.6"/>
<text x="825.5" y="1169.82" font-size="22.4" text-anchor="end" fill="#000" stroke="#000" stroke-width="0.3">1000</text>
<line x1="834.7" y1="1271.2" x2="853.3" y2="1271.2" stroke="#000" stroke-width="5.6"/>
<text x="825.5" y="1277.82" font-size="22.4" text-anchor="end" fill="#000" stroke="#000" stroke-width="0.3">500</text>
<text x="825.5" y="1385.32" font-size="22.4" text-anchor="end" fill="#000" stroke="#000" stroke-width="0.3">0</text>
<line x1="876" y1="1378.7" x2="876" y2="1396.7" stroke="#000" stroke-width="5.6"/>
<line x1="909.9" y1="1378.7" x2="909.9" y2="1396.7" stroke="#000" stroke-width="5.6"/>
<line x1="943.5" y1="1378.7" x2="943.5" y2="1396.7" stroke="#000" stroke-width="5.6"/>
<line x1="977.9" y1="1378.7" x2="977.9" y2="1396.7" stroke="#000" stroke-width="5.6"/>
<line x1="1012" y1="1378.7" x2="1012" y2="1396.7" stroke="#000" stroke-width="5.6"/>
<text transform="translate(758.59 1220.3) rotate(-90)" font-size="22.75" text-anchor="middle" fill="#000" stroke="#000" stroke-width="0.3">Geometric Mean AP-1-mCherry</text>
<text transform="translate(881 1418.7) rotate(-45)" font-size="23.7" text-anchor="end" fill="#000" stroke="#000" stroke-width="0.3">Untransduced</text>
<text transform="translate(914.9 1418.7) rotate(-45)" font-size="23.7" text-anchor="end" fill="#000" stroke="#000" stroke-width="0.3">CD19-BBz CAR</text>
<text transform="translate(948.5 1418.7) rotate(-45)" font-size="23.7" text-anchor="end" fill="#000" stroke="#000" stroke-width="0.3">CD22-BBz CAR</text>
<text transform="translate(982.9 1418.7) rotate(-45)" font-size="23.7" text-anchor="end" fill="#000" stroke="#000" stroke-width="0.3">Loop CAR</text>
<text transform="translate(1017 1418.7) rotate(-45)" font-size="23.7" text-anchor="end" fill="#000" stroke="#000" stroke-width="0.3">Bi-ChTCR</text>
<line x1="874.7" y1="1053.3" x2="978.7" y2="1053.3" stroke="#000" stroke-width="2.8" stroke-linecap="round"/>
<text x="924.8" y="1049.3" font-size="16.7" text-anchor="middle" fill="#000" stroke="#000" stroke-width="0.3">0.0409</text>
<line x1="985.3" y1="1082.1" x2="1012.5" y2="1082.1" stroke="#000" stroke-width="2.8" stroke-linecap="round"/>
<text x="998.1" y="1078.1" font-size="16.7" text-anchor="middle" fill="#000" stroke="#000" stroke-width="0.3">0.0311</text>
<text x="1197" y="1000.2" font-size="33.3" font-weight="bold" fill="#231f20" stroke="#231f20" stroke-width="0.9" stroke-linejoin="round">e.</text>
<text x="1381" y="1111.6" font-size="25" text-anchor="end" fill="#231f20" stroke="#231f20" stroke-width="0.3">Nalm-6 WT</text>
<text x="1382.6" y="1195.2" font-size="25.8" text-anchor="end" fill="#231f20">CD19<tspan font-size="15" dy="-8">ko</tspan></text>
<text x="1382.6" y="1277.8" font-size="25.8" text-anchor="end" fill="#231f20">CD22<tspan font-size="15" dy="-8">ko</tspan></text>
<text x="1381.8" y="1353.1" font-size="24.7" text-anchor="end" fill="#231f20" stroke="#231f20" stroke-width="0.3">DKO</text>
<rect x="1382.6" y="1047.4" width="307.2" height="306.7" fill="#fff"/>
<line x1="1415.6" y1="1047.4" x2="1415.6" y2="1354.1" stroke="#b4b4b4" stroke-width="1"/>
<line x1="1422.3" y1="1047.4" x2="1422.3" y2="1354.1" stroke="#b4b4b4" stroke-width="1"/>
<line x1="1429.5" y1="1047.4" x2="1429.5" y2="1354.1" stroke="#b4b4b4" stroke-width="1"/>
<line x1="1476.2" y1="1047.4" x2="1476.2" y2="1354.1" stroke="#b4b4b4" stroke-width="1"/>
<line x1="1554.1" y1="1047.4" x2="1554.1" y2="1354.1" stroke="#b4b4b4" stroke-width="1"/>
<line x1="1625.3" y1="1047.4" x2="1625.3" y2="1354.1" stroke="#b4b4b4" stroke-width="1"/>
<line x1="1422.3" y1="1047.4" x2="1422.3" y2="1354.1" stroke="#b9b9b9" stroke-width="3"/>
<line x1="1382.6" y1="1124.4" x2="1689.8" y2="1124.4" stroke="#8d6a70" stroke-width="0.9"/>
<line x1="1382.6" y1="1201.2" x2="1689.8" y2="1201.2" stroke="#f6b98a" stroke-width="0.9"/>
<line x1="1382.6" y1="1278.1" x2="1689.8" y2="1278.1" stroke="#8fb3a3" stroke-width="0.9"/>
<path d="M1492.12 1124.4 L1505.69 1122.65 L1521.19 1119.55 L1532.82 1116.26 L1539.61 1112.38 L1545.42 1113.35 L1551.24 1112.38 L1556.08 1114.71 L1563.84 1111.41 L1569.65 1104.63 L1575.47 1090.09 L1581.28 1074.58 L1585.16 1064.89 L1588.65 1061.98 L1591.94 1066.83 L1595.82 1071.67 L1600.66 1086.21 L1606.48 1100.75 L1612.3 1113.35 L1618.11 1120.72 L1623.93 1123.62 L1628.77 1124.4 Z" fill="#a98288" stroke="none" stroke-width="1" fill-opacity="0.95"/>
<path d="M1492.12 1124.4 L1505.69 1122.65 L1521.19 1119.55 L1532.82 1116.26 L1539.61 1112.38 L1545.42 1113.35 L1551.24 1112.38 L1556.08 1114.71 L1563.84 1111.41 L1569.65 1104.63 L1575.47 1090.09 L1581.28 1074.58 L1585.16 1064.89 L1588.65 1061.98 L1591.94 1066.83 L1595.82 1071.67 L1600.66 1086.21 L1606.48 1100.75 L1612.3 1113.35 L1618.11 1120.72 L1623.93 1123.62 L1628.77 1124.4" fill="none" stroke="#6b1a2b" stroke-width="1.8" stroke-linejoin="round"/>
<path d="M1399.08 1201.16 L1406.83 1198.64 L1411.67 1190.88 L1416.52 1173.44 L1420.79 1148.24 L1423.89 1137.58 L1427.18 1136.61 L1430.09 1133.7 L1433 1138.55 L1436.87 1152.12 L1440.75 1169.56 L1444.63 1185.07 L1449.47 1195.73 L1455.29 1199.61 L1463.04 1201.16 Z" fill="#f7c08a" stroke="none" stroke-width="1" fill-opacity="0.95"/>
<path d="M1399.08 1201.16 L1406.83 1198.64 L1411.67 1190.88 L1416.52 1173.44 L1420.79 1148.24 L1423.89 1137.58 L1427.18 1136.61 L1430.09 1133.7 L1433 1138.55 L1436.87 1152.12 L1440.75 1169.56 L1444.63 1185.07 L1449.47 1195.73 L1455.29 1199.61 L1463.04 1201.16" fill="none" stroke="#f0944d" stroke-width="1.8" stroke-linejoin="round"/>
<path d="M1495.99 1278.11 L1525.07 1276.56 L1538.64 1273.85 L1550.27 1267.45 L1559.96 1258.73 L1567.71 1245.16 L1573.53 1229.65 L1578.37 1216.08 L1581.28 1212.59 L1584.19 1215.11 L1589.03 1225.77 L1592.91 1241.28 L1596.79 1256.79 L1600.66 1268.42 L1605.51 1274.62 L1610.36 1277.14 L1615.2 1278.11 Z" fill="#86b59e" stroke="none" stroke-width="1" fill-opacity="0.95"/>
<path d="M1495.99 1278.11 L1525.07 1276.56 L1538.64 1273.85 L1550.27 1267.45 L1559.96 1258.73 L1567.71 1245.16 L1573.53 1229.65 L1578.37 1216.08 L1581.28 1212.59 L1584.19 1215.11 L1589.03 1225.77 L1592.91 1241.28 L1596.79 1256.79 L1600.66 1268.42 L1605.51 1274.62 L1610.36 1277.14 L1615.2 1278.11" fill="none" stroke="#1a6b4b" stroke-width="1.8" stroke-linejoin="round"/>
<path d="M1404.89 1354.09 L1411.67 1347.89 L1416.52 1334.32 L1421.37 1311.06 L1425.24 1297.49 L1428.15 1287.8 L1430.09 1285.48 L1432.42 1288.77 L1435.9 1305.25 L1439.78 1322.69 L1443.66 1338.2 L1448.5 1348.86 L1453.35 1353.32 L1459.16 1354.09 Z" fill="#93c0e8" stroke="none" stroke-width="1" fill-opacity="0.66"/>
<path d="M1404.89 1354.09 L1411.67 1347.89 L1416.52 1334.32 L1421.37 1311.06 L1425.24 1297.49 L1428.15 1287.8 L1430.09 1285.48 L1432.42 1288.77 L1435.9 1305.25 L1439.78 1322.69 L1443.66 1338.2 L1448.5 1348.86 L1453.35 1353.32 L1459.16 1354.09" fill="none" stroke="#7db2de" stroke-width="1.8" stroke-linejoin="round"/>
<rect x="1382.6" y="1047.4" width="307.2" height="306.7" fill="none" stroke="#000" stroke-width="1.5"/>
<line x1="1415.6" y1="1354.85" x2="1415.6" y2="1363.35" stroke="#000" stroke-width="2.2"/>
<line x1="1422.3" y1="1354.85" x2="1422.3" y2="1363.35" stroke="#000" stroke-width="2.2"/>
<line x1="1429.5" y1="1354.85" x2="1429.5" y2="1363.35" stroke="#000" stroke-width="2.2"/>
<line x1="1476.2" y1="1354.85" x2="1476.2" y2="1363.35" stroke="#000" stroke-width="2.2"/>
<line x1="1554.1" y1="1354.85" x2="1554.1" y2="1363.35" stroke="#000" stroke-width="2.2"/>
<line x1="1625.3" y1="1354.85" x2="1625.3" y2="1363.35" stroke="#000" stroke-width="2.2"/>
<line x1="1443.21" y1="1354.85" x2="1443.21" y2="1359.75" stroke="#000" stroke-width="1.2"/>
<line x1="1451.52" y1="1354.85" x2="1451.52" y2="1359.75" stroke="#000" stroke-width="1.2"/>
<line x1="1457.42" y1="1354.85" x2="1457.42" y2="1359.75" stroke="#000" stroke-width="1.2"/>
<line x1="1461.99" y1="1354.85" x2="1461.99" y2="1359.75" stroke="#000" stroke-width="1.2"/>
<line x1="1465.73" y1="1354.85" x2="1465.73" y2="1359.75" stroke="#000" stroke-width="1.2"/>
<line x1="1468.89" y1="1354.85" x2="1468.89" y2="1359.75" stroke="#000" stroke-width="1.2"/>
<line x1="1471.63" y1="1354.85" x2="1471.63" y2="1359.75" stroke="#000" stroke-width="1.2"/>
<line x1="1474.04" y1="1354.85" x2="1474.04" y2="1359.75" stroke="#000" stroke-width="1.2"/>
<line x1="1499.65" y1="1354.85" x2="1499.65" y2="1359.75" stroke="#000" stroke-width="1.2"/>
<line x1="1513.37" y1="1354.85" x2="1513.37" y2="1359.75" stroke="#000" stroke-width="1.2"/>
<line x1="1523.1" y1="1354.85" x2="1523.1" y2="1359.75" stroke="#000" stroke-width="1.2"/>
<line x1="1530.65" y1="1354.85" x2="1530.65" y2="1359.75" stroke="#000" stroke-width="1.2"/>
<line x1="1536.82" y1="1354.85" x2="1536.82" y2="1359.75" stroke="#000" stroke-width="1.2"/>
<line x1="1542.03" y1="1354.85" x2="1542.03" y2="1359.75" stroke="#000" stroke-width="1.2"/>
<line x1="1546.55" y1="1354.85" x2="1546.55" y2="1359.75" stroke="#000" stroke-width="1.2"/>
<line x1="1550.54" y1="1354.85" x2="1550.54" y2="1359.75" stroke="#000" stroke-width="1.2"/>
<line x1="1575.53" y1="1354.85" x2="1575.53" y2="1359.75" stroke="#000" stroke-width="1.2"/>
<line x1="1588.07" y1="1354.85" x2="1588.07" y2="1359.75" stroke="#000" stroke-width="1.2"/>
<line x1="1596.97" y1="1354.85" x2="1596.97" y2="1359.75" stroke="#000" stroke-width="1.2"/>
<line x1="1603.87" y1="1354.85" x2="1603.87" y2="1359.75" stroke="#000" stroke-width="1.2"/>
<line x1="1609.5" y1="1354.85" x2="1609.5" y2="1359.75" stroke="#000" stroke-width="1.2"/>
<line x1="1614.27" y1="1354.85" x2="1614.27" y2="1359.75" stroke="#000" stroke-width="1.2"/>
<line x1="1618.4" y1="1354.85" x2="1618.4" y2="1359.75" stroke="#000" stroke-width="1.2"/>
<line x1="1622.04" y1="1354.85" x2="1622.04" y2="1359.75" stroke="#000" stroke-width="1.2"/>
<line x1="1643.52" y1="1354.85" x2="1643.52" y2="1359.75" stroke="#000" stroke-width="1.2"/>
<line x1="1654.18" y1="1354.85" x2="1654.18" y2="1359.75" stroke="#000" stroke-width="1.2"/>
<line x1="1661.74" y1="1354.85" x2="1661.74" y2="1359.75" stroke="#000" stroke-width="1.2"/>
<line x1="1667.6" y1="1354.85" x2="1667.6" y2="1359.75" stroke="#000" stroke-width="1.2"/>
<line x1="1672.39" y1="1354.85" x2="1672.39" y2="1359.75" stroke="#000" stroke-width="1.2"/>
<line x1="1676.45" y1="1354.85" x2="1676.45" y2="1359.75" stroke="#000" stroke-width="1.2"/>
<line x1="1679.96" y1="1354.85" x2="1679.96" y2="1359.75" stroke="#000" stroke-width="1.2"/>
<line x1="1683.05" y1="1354.85" x2="1683.05" y2="1359.75" stroke="#000" stroke-width="1.2"/>
<line x1="1409" y1="1354.85" x2="1409" y2="1359.75" stroke="#000" stroke-width="1.2"/>
<line x1="1404" y1="1354.85" x2="1404" y2="1359.75" stroke="#000" stroke-width="1.2"/>
<line x1="1399" y1="1354.85" x2="1399" y2="1359.75" stroke="#000" stroke-width="1.2"/>
<line x1="1394" y1="1354.85" x2="1394" y2="1359.75" stroke="#000" stroke-width="1.2"/>
<line x1="1389" y1="1354.85" x2="1389" y2="1359.75" stroke="#000" stroke-width="1.2"/>
<line x1="1414" y1="1354.85" x2="1414" y2="1362.85" stroke="#000" stroke-width="1.7"/>
<line x1="1416.1" y1="1354.85" x2="1416.1" y2="1362.85" stroke="#000" stroke-width="1.7"/>
<line x1="1418.2" y1="1354.85" x2="1418.2" y2="1362.85" stroke="#000" stroke-width="1.7"/>
<line x1="1420.3" y1="1354.85" x2="1420.3" y2="1362.85" stroke="#000" stroke-width="1.7"/>
<line x1="1422.4" y1="1354.85" x2="1422.4" y2="1362.85" stroke="#000" stroke-width="1.7"/>
<line x1="1424.5" y1="1354.85" x2="1424.5" y2="1362.85" stroke="#000" stroke-width="1.7"/>
<line x1="1426.6" y1="1354.85" x2="1426.6" y2="1362.85" stroke="#000" stroke-width="1.7"/>
<line x1="1428.7" y1="1354.85" x2="1428.7" y2="1362.85" stroke="#000" stroke-width="1.7"/>
<line x1="1430.8" y1="1354.85" x2="1430.8" y2="1362.85" stroke="#000" stroke-width="1.7"/>
<text x="1428.8" y="1380.5" font-size="10.8" text-anchor="middle" font-weight="bold" fill="#000" font-family='"Liberation Serif", serif'>0</text>
<text x="1477.2" y="1380.5" font-size="10.8" font-weight="bold" font-family='"Liberation Serif", serif' letter-spacing="0.8">10<tspan dy="-5.8">3</tspan></text>
<text x="1554.3" y="1380.5" font-size="10.8" font-weight="bold" font-family='"Liberation Serif", serif' letter-spacing="0.8">10<tspan dy="-5.8">4</tspan></text>
<text x="1624.4" y="1380.5" font-size="10.8" font-weight="bold" font-family='"Liberation Serif", serif' letter-spacing="0.8">10<tspan dy="-5.8">5</tspan></text>
<line x1="1383" y1="1403.7" x2="1445.8" y2="1403.7" stroke="#111" stroke-width="1.4"/>
<line x1="1632.6" y1="1403.7" x2="1682.6" y2="1403.7" stroke="#111" stroke-width="1.4"/>
<path d="M1688.6 1403.7 L1678.1 1398.2 L1678.1 1409.2 Z" fill="#000"/>
<text x="1538.8" y="1410.3" font-size="24.5" text-anchor="middle" fill="#231f20" stroke="#231f20" stroke-width="0.3">CD19-APC</text>
<rect x="1708.2" y="1047.4" width="308.2" height="306.7" fill="#fff"/>
<line x1="1752.6" y1="1047.4" x2="1752.6" y2="1354.1" stroke="#b4b4b4" stroke-width="1"/>
<line x1="1760.9" y1="1047.4" x2="1760.9" y2="1354.1" stroke="#b4b4b4" stroke-width="1"/>
<line x1="1770.2" y1="1047.4" x2="1770.2" y2="1354.1" stroke="#b4b4b4" stroke-width="1"/>
<line x1="1827.8" y1="1047.4" x2="1827.8" y2="1354.1" stroke="#b4b4b4" stroke-width="1"/>
<line x1="1909.6" y1="1047.4" x2="1909.6" y2="1354.1" stroke="#b4b4b4" stroke-width="1"/>
<line x1="1983.2" y1="1047.4" x2="1983.2" y2="1354.1" stroke="#b4b4b4" stroke-width="1"/>
<line x1="1760.9" y1="1047.4" x2="1760.9" y2="1354.1" stroke="#b9b9b9" stroke-width="2.4"/>
<line x1="1708.2" y1="1124.4" x2="2016.4" y2="1124.4" stroke="#8d6a70" stroke-width="0.9"/>
<line x1="1708.2" y1="1201.2" x2="2016.4" y2="1201.2" stroke="#f6b98a" stroke-width="0.9"/>
<line x1="1708.2" y1="1278.1" x2="2016.4" y2="1278.1" stroke="#8fb3a3" stroke-width="0.9"/>
<path d="M1768.66 1124.4 L1778.35 1122.07 L1786.1 1115.29 L1791.92 1108.5 L1796.76 1107.15 L1802.58 1101.72 L1808.39 1095.9 L1815.18 1093 L1822.93 1091.06 L1827.78 1084.27 L1833.59 1069.74 L1839.41 1072.26 L1845.22 1071.67 L1850.07 1061.4 L1854.33 1068.77 L1859.76 1066.83 L1865.58 1073.61 L1871.39 1086.21 L1879.14 1101.72 L1885.93 1114.32 L1892.71 1120.72 L1902.4 1123.62 L1915.97 1124.4 Z" fill="#a98288" stroke="none" stroke-width="1" fill-opacity="0.95"/>
<path d="M1768.66 1124.4 L1778.35 1122.07 L1786.1 1115.29 L1791.92 1108.5 L1796.76 1107.15 L1802.58 1101.72 L1808.39 1095.9 L1815.18 1093 L1822.93 1091.06 L1827.78 1084.27 L1833.59 1069.74 L1839.41 1072.26 L1845.22 1071.67 L1850.07 1061.4 L1854.33 1068.77 L1859.76 1066.83 L1865.58 1073.61 L1871.39 1086.21 L1879.14 1101.72 L1885.93 1114.32 L1892.71 1120.72 L1902.4 1123.62 L1915.97 1124.4" fill="none" stroke="#6b1a2b" stroke-width="1.8" stroke-linejoin="round"/>
<path d="M1765.75 1201.16 L1778.35 1199.22 L1791.92 1194.76 L1803.55 1192.43 L1811.3 1188.95 L1817.12 1182.16 L1821.96 1178.28 L1825.84 1180.22 L1830.69 1172.47 L1838.44 1164.72 L1844.25 1154.06 L1850.07 1146.3 L1854.91 1142.42 L1861.7 1139.52 L1867.13 1132.35 L1871.39 1136.61 L1876.24 1133.7 L1882.05 1138.55 L1886.9 1145.33 L1892.71 1156.96 L1900.47 1170.53 L1906.28 1183.13 L1912.1 1191.85 L1919.85 1197.67 L1927.6 1199.99 L1938.26 1201.16 Z" fill="#f7c08a" stroke="none" stroke-width="1" fill-opacity="0.95"/>
<path d="M1765.75 1201.16 L1778.35 1199.22 L1791.92 1194.76 L1803.55 1192.43 L1811.3 1188.95 L1817.12 1182.16 L1821.96 1178.28 L1825.84 1180.22 L1830.69 1172.47 L1838.44 1164.72 L1844.25 1154.06 L1850.07 1146.3 L1854.91 1142.42 L1861.7 1139.52 L1867.13 1132.35 L1871.39 1136.61 L1876.24 1133.7 L1882.05 1138.55 L1886.9 1145.33 L1892.71 1156.96 L1900.47 1170.53 L1906.28 1183.13 L1912.1 1191.85 L1919.85 1197.67 L1927.6 1199.99 L1938.26 1201.16" fill="none" stroke="#f0944d" stroke-width="1.8" stroke-linejoin="round"/>
<path d="M1753.15 1278.11 L1759.94 1275.2 L1763.81 1267.45 L1767.69 1250.97 L1771.57 1231.59 L1775.44 1215.11 L1778.35 1209.88 L1783.2 1208.33 L1786.1 1215.11 L1789.98 1229.65 L1793.86 1245.16 L1797.73 1260.66 L1802.58 1270.36 L1808.39 1275.2 L1815.18 1276.75 L1829.72 1278.11 Z" fill="#86b59e" stroke="none" stroke-width="1" fill-opacity="0.95"/>
<path d="M1753.15 1278.11 L1759.94 1275.2 L1763.81 1267.45 L1767.69 1250.97 L1771.57 1231.59 L1775.44 1215.11 L1778.35 1209.88 L1783.2 1208.33 L1786.1 1215.11 L1789.98 1229.65 L1793.86 1245.16 L1797.73 1260.66 L1802.58 1270.36 L1808.39 1275.2 L1815.18 1276.75 L1829.72 1278.11" fill="none" stroke="#1a6b4b" stroke-width="1.8" stroke-linejoin="round"/>
<path d="M1760.9 1354.09 L1766.72 1349.83 L1771.57 1336.26 L1775.44 1314.94 L1779.32 1293.62 L1783.2 1283.93 L1787.07 1288.77 L1790.95 1303.31 L1794.83 1322.69 L1798.7 1342.08 L1803.55 1350.8 L1808.39 1354.09 Z" fill="#93c0e8" stroke="none" stroke-width="1" fill-opacity="0.66"/>
<path d="M1760.9 1354.09 L1766.72 1349.83 L1771.57 1336.26 L1775.44 1314.94 L1779.32 1293.62 L1783.2 1283.93 L1787.07 1288.77 L1790.95 1303.31 L1794.83 1322.69 L1798.7 1342.08 L1803.55 1350.8 L1808.39 1354.09" fill="none" stroke="#7db2de" stroke-width="1.8" stroke-linejoin="round"/>
<rect x="1708.2" y="1047.4" width="308.2" height="306.7" fill="none" stroke="#000" stroke-width="1.5"/>
<line x1="1752.6" y1="1354.85" x2="1752.6" y2="1363.35" stroke="#000" stroke-width="2.2"/>
<line x1="1760.9" y1="1354.85" x2="1760.9" y2="1363.35" stroke="#000" stroke-width="2.2"/>
<line x1="1770.2" y1="1354.85" x2="1770.2" y2="1363.35" stroke="#000" stroke-width="2.2"/>
<line x1="1827.8" y1="1354.85" x2="1827.8" y2="1363.35" stroke="#000" stroke-width="2.2"/>
<line x1="1909.6" y1="1354.85" x2="1909.6" y2="1363.35" stroke="#000" stroke-width="2.2"/>
<line x1="1983.2" y1="1354.85" x2="1983.2" y2="1363.35" stroke="#000" stroke-width="2.2"/>
<line x1="1787.4" y1="1354.85" x2="1787.4" y2="1359.75" stroke="#000" stroke-width="1.2"/>
<line x1="1797.58" y1="1354.85" x2="1797.58" y2="1359.75" stroke="#000" stroke-width="1.2"/>
<line x1="1804.8" y1="1354.85" x2="1804.8" y2="1359.75" stroke="#000" stroke-width="1.2"/>
<line x1="1810.4" y1="1354.85" x2="1810.4" y2="1359.75" stroke="#000" stroke-width="1.2"/>
<line x1="1814.98" y1="1354.85" x2="1814.98" y2="1359.75" stroke="#000" stroke-width="1.2"/>
<line x1="1818.85" y1="1354.85" x2="1818.85" y2="1359.75" stroke="#000" stroke-width="1.2"/>
<line x1="1822.2" y1="1354.85" x2="1822.2" y2="1359.75" stroke="#000" stroke-width="1.2"/>
<line x1="1825.16" y1="1354.85" x2="1825.16" y2="1359.75" stroke="#000" stroke-width="1.2"/>
<line x1="1852.42" y1="1354.85" x2="1852.42" y2="1359.75" stroke="#000" stroke-width="1.2"/>
<line x1="1866.83" y1="1354.85" x2="1866.83" y2="1359.75" stroke="#000" stroke-width="1.2"/>
<line x1="1877.05" y1="1354.85" x2="1877.05" y2="1359.75" stroke="#000" stroke-width="1.2"/>
<line x1="1884.98" y1="1354.85" x2="1884.98" y2="1359.75" stroke="#000" stroke-width="1.2"/>
<line x1="1891.45" y1="1354.85" x2="1891.45" y2="1359.75" stroke="#000" stroke-width="1.2"/>
<line x1="1896.93" y1="1354.85" x2="1896.93" y2="1359.75" stroke="#000" stroke-width="1.2"/>
<line x1="1901.67" y1="1354.85" x2="1901.67" y2="1359.75" stroke="#000" stroke-width="1.2"/>
<line x1="1905.86" y1="1354.85" x2="1905.86" y2="1359.75" stroke="#000" stroke-width="1.2"/>
<line x1="1931.76" y1="1354.85" x2="1931.76" y2="1359.75" stroke="#000" stroke-width="1.2"/>
<line x1="1944.72" y1="1354.85" x2="1944.72" y2="1359.75" stroke="#000" stroke-width="1.2"/>
<line x1="1953.91" y1="1354.85" x2="1953.91" y2="1359.75" stroke="#000" stroke-width="1.2"/>
<line x1="1961.04" y1="1354.85" x2="1961.04" y2="1359.75" stroke="#000" stroke-width="1.2"/>
<line x1="1966.87" y1="1354.85" x2="1966.87" y2="1359.75" stroke="#000" stroke-width="1.2"/>
<line x1="1971.8" y1="1354.85" x2="1971.8" y2="1359.75" stroke="#000" stroke-width="1.2"/>
<line x1="1976.07" y1="1354.85" x2="1976.07" y2="1359.75" stroke="#000" stroke-width="1.2"/>
<line x1="1979.83" y1="1354.85" x2="1979.83" y2="1359.75" stroke="#000" stroke-width="1.2"/>
<line x1="2002.03" y1="1354.85" x2="2002.03" y2="1359.75" stroke="#000" stroke-width="1.2"/>
<line x1="2013.05" y1="1354.85" x2="2013.05" y2="1359.75" stroke="#000" stroke-width="1.2"/>
<line x1="1746" y1="1354.85" x2="1746" y2="1359.75" stroke="#000" stroke-width="1.2"/>
<line x1="1741" y1="1354.85" x2="1741" y2="1359.75" stroke="#000" stroke-width="1.2"/>
<line x1="1736" y1="1354.85" x2="1736" y2="1359.75" stroke="#000" stroke-width="1.2"/>
<line x1="1731" y1="1354.85" x2="1731" y2="1359.75" stroke="#000" stroke-width="1.2"/>
<line x1="1726" y1="1354.85" x2="1726" y2="1359.75" stroke="#000" stroke-width="1.2"/>
<line x1="1721" y1="1354.85" x2="1721" y2="1359.75" stroke="#000" stroke-width="1.2"/>
<line x1="1716" y1="1354.85" x2="1716" y2="1359.75" stroke="#000" stroke-width="1.2"/>
<line x1="1711" y1="1354.85" x2="1711" y2="1359.75" stroke="#000" stroke-width="1.2"/>
<line x1="1751" y1="1354.85" x2="1751" y2="1362.85" stroke="#000" stroke-width="1.7"/>
<line x1="1753.1" y1="1354.85" x2="1753.1" y2="1362.85" stroke="#000" stroke-width="1.7"/>
<line x1="1755.2" y1="1354.85" x2="1755.2" y2="1362.85" stroke="#000" stroke-width="1.7"/>
<line x1="1757.3" y1="1354.85" x2="1757.3" y2="1362.85" stroke="#000" stroke-width="1.7"/>
<line x1="1759.4" y1="1354.85" x2="1759.4" y2="1362.85" stroke="#000" stroke-width="1.7"/>
<line x1="1761.5" y1="1354.85" x2="1761.5" y2="1362.85" stroke="#000" stroke-width="1.7"/>
<line x1="1763.6" y1="1354.85" x2="1763.6" y2="1362.85" stroke="#000" stroke-width="1.7"/>
<line x1="1765.7" y1="1354.85" x2="1765.7" y2="1362.85" stroke="#000" stroke-width="1.7"/>
<line x1="1767.8" y1="1354.85" x2="1767.8" y2="1362.85" stroke="#000" stroke-width="1.7"/>
<line x1="1769.9" y1="1354.85" x2="1769.9" y2="1362.85" stroke="#000" stroke-width="1.7"/>
<line x1="1772" y1="1354.85" x2="1772" y2="1362.85" stroke="#000" stroke-width="1.7"/>
<text x="1767.8" y="1380.5" font-size="10.8" text-anchor="middle" font-weight="bold" fill="#000" font-family='"Liberation Serif", serif'>0</text>
<text x="1828.8" y="1380.5" font-size="10.8" font-weight="bold" font-family='"Liberation Serif", serif' letter-spacing="0.8">10<tspan dy="-5.8">3</tspan></text>
<text x="1910.4" y="1380.5" font-size="10.8" font-weight="bold" font-family='"Liberation Serif", serif' letter-spacing="0.8">10<tspan dy="-5.8">4</tspan></text>
<text x="1983.8" y="1380.5" font-size="10.8" font-weight="bold" font-family='"Liberation Serif", serif' letter-spacing="0.8">10<tspan dy="-5.8">5</tspan></text>
<line x1="1710.5" y1="1403.7" x2="1766.8" y2="1403.7" stroke="#111" stroke-width="1.4"/>
<line x1="1953.6" y1="1403.7" x2="2009.4" y2="1403.7" stroke="#111" stroke-width="1.4"/>
<path d="M2015.4 1403.7 L2004.9 1398.2 L2004.9 1409.2 Z" fill="#000"/>
<text x="1858.8" y="1410.3" font-size="24.5" text-anchor="middle" fill="#231f20" stroke="#231f20" stroke-width="0.3">CD22-BV421</text>
<text x="0" y="1571.1" font-size="33.3" font-weight="bold" fill="#231f20" stroke="#231f20" stroke-width="0.9" stroke-linejoin="round">f.</text>
<text x="206.4" y="1609.8" font-size="24.8" text-anchor="middle" fill="#111" stroke="#111" stroke-width="0.3">Nalm-6 WT</text>
<text x="545.3" y="1609.8" font-size="24.8" text-anchor="middle" fill="#111">Nalm-6 CD22<tspan font-size="15.5" dy="-7.6">ko</tspan></text>
<text x="886.3" y="1609.8" font-size="24.8" text-anchor="middle" fill="#111">Nalm-6 CD19<tspan font-size="15.5" dy="-7.6">ko</tspan></text>
<text x="1225.8" y="1609.8" font-size="24.8" text-anchor="middle" fill="#111" stroke="#111" stroke-width="0.3">Nalm-6 DKO</text>
<rect x="114.5" y="1782.9" width="33" height="127.3" fill="#62c3ea" stroke="#000" stroke-width="5"/>
<rect x="168.4" y="1760.4" width="33" height="149.8" fill="#62b486" stroke="#000" stroke-width="5"/>
<rect x="221.9" y="1818.9" width="33" height="91.3" fill="#2d3176" stroke="#000" stroke-width="5"/>
<rect x="275.8" y="1801.1" width="33" height="109.1" fill="#9d1a63" stroke="#000" stroke-width="5"/>
<line x1="131" y1="1762.9" x2="131" y2="1798.6" stroke="#000" stroke-width="2.9"/>
<line x1="121.5" y1="1762.9" x2="140.5" y2="1762.9" stroke="#000" stroke-width="2.9"/>
<line x1="121.5" y1="1798.6" x2="140.5" y2="1798.6" stroke="#000" stroke-width="2.9"/>
<line x1="184.9" y1="1718.3" x2="184.9" y2="1798.6" stroke="#000" stroke-width="2.9"/>
<line x1="175.4" y1="1718.3" x2="194.4" y2="1718.3" stroke="#000" stroke-width="2.9"/>
<line x1="175.4" y1="1798.6" x2="194.4" y2="1798.6" stroke="#000" stroke-width="2.9"/>
<line x1="292.3" y1="1788.1" x2="292.3" y2="1809.4" stroke="#000" stroke-width="2.9"/>
<line x1="282.8" y1="1788.1" x2="301.8" y2="1788.1" stroke="#000" stroke-width="2.9"/>
<line x1="282.8" y1="1809.4" x2="301.8" y2="1809.4" stroke="#000" stroke-width="2.9"/>
<circle cx="131.04" cy="1759.82" r="4.2" fill="#000"/>
<circle cx="118.24" cy="1792" r="4.2" fill="#000"/>
<circle cx="144.22" cy="1790.06" r="4.2" fill="#000"/>
<circle cx="184.93" cy="1720.27" r="4.2" fill="#000"/>
<circle cx="184.93" cy="1755.17" r="4.2" fill="#000"/>
<circle cx="184.93" cy="1800.53" r="4.2" fill="#000"/>
<circle cx="228.74" cy="1817.2" r="4.2" fill="#000"/>
<circle cx="238.43" cy="1815.26" r="4.2" fill="#000"/>
<circle cx="250.06" cy="1816.42" r="4.2" fill="#000"/>
<circle cx="292.32" cy="1787.34" r="4.2" fill="#000"/>
<circle cx="284.95" cy="1806.73" r="4.2" fill="#000"/>
<circle cx="300.46" cy="1805.57" r="4.2" fill="#000"/>
<line x1="95" y1="1650.8" x2="95" y2="1913.35" stroke="#000" stroke-width="6.3"/>
<line x1="80.3" y1="1910.2" x2="328.8" y2="1910.2" stroke="#000" stroke-width="6.3"/>
<line x1="80.3" y1="1653.6" x2="95" y2="1653.6" stroke="#000" stroke-width="5.6"/>
<text x="76.7" y="1659.05" font-size="16.9" text-anchor="end" fill="#000" stroke="#000" stroke-width="0.3">20</text>
<line x1="80.3" y1="1717.6" x2="95" y2="1717.6" stroke="#000" stroke-width="5.6"/>
<text x="76.7" y="1723.05" font-size="16.9" text-anchor="end" fill="#000" stroke="#000" stroke-width="0.3">15</text>
<line x1="80.3" y1="1781.9" x2="95" y2="1781.9" stroke="#000" stroke-width="5.6"/>
<text x="76.7" y="1787.35" font-size="16.9" text-anchor="end" fill="#000" stroke="#000" stroke-width="0.3">10</text>
<line x1="80.3" y1="1845.9" x2="95" y2="1845.9" stroke="#000" stroke-width="5.6"/>
<text x="76.7" y="1851.35" font-size="16.9" text-anchor="end" fill="#000" stroke="#000" stroke-width="0.3">5</text>
<text x="76.7" y="1915.65" font-size="16.9" text-anchor="end" fill="#000" stroke="#000" stroke-width="0.3">0</text>
<line x1="131" y1="1910.2" x2="131" y2="1924.2" stroke="#000" stroke-width="5.6"/>
<line x1="184.9" y1="1910.2" x2="184.9" y2="1924.2" stroke="#000" stroke-width="5.6"/>
<line x1="238.4" y1="1910.2" x2="238.4" y2="1924.2" stroke="#000" stroke-width="5.6"/>
<line x1="292.3" y1="1910.2" x2="292.3" y2="1924.2" stroke="#000" stroke-width="5.6"/>
<text transform="translate(35.44 1782.5) rotate(-90)" font-size="24" text-anchor="middle" fill="#000" stroke="#000" stroke-width="0.3">IFN-<tspan font-size="14">γ</tspan> (ng.mL)</text>
<text transform="translate(140.1 1934.7) rotate(-45)" font-size="21" text-anchor="end" fill="#000" stroke="#000" stroke-width="0.3">Bi-ChTCR</text>
<text transform="translate(201.4 1934.7) rotate(-45)" font-size="21" text-anchor="end" fill="#000" stroke="#000" stroke-width="0.3">CD19-BBz CAR</text>
<text transform="translate(254.3 1934.7) rotate(-45)" font-size="21" text-anchor="end" fill="#000" stroke="#000" stroke-width="0.3">CD22-BBz CAR</text>
<text transform="translate(301.4 1934.7) rotate(-45)" font-size="21" text-anchor="end" fill="#000" stroke="#000" stroke-width="0.3">Loop CAR</text>
<rect x="448.7" y="1763.5" width="33" height="146.7" fill="#62c3ea" stroke="#000" stroke-width="5"/>
<rect x="502.2" y="1799.1" width="33" height="111.1" fill="#62b486" stroke="#000" stroke-width="5"/>
<rect x="556.1" y="1908.1" width="33" height="2.1" fill="#2d3176" stroke="#000" stroke-width="5"/>
<rect x="609.6" y="1817.8" width="33" height="92.4" fill="#9d1a63" stroke="#000" stroke-width="5"/>
<line x1="465.2" y1="1721.4" x2="465.2" y2="1802.9" stroke="#000" stroke-width="2.9"/>
<line x1="455.7" y1="1721.4" x2="474.7" y2="1721.4" stroke="#000" stroke-width="2.9"/>
<line x1="455.7" y1="1802.9" x2="474.7" y2="1802.9" stroke="#000" stroke-width="2.9"/>
<line x1="518.7" y1="1740" x2="518.7" y2="1853.3" stroke="#000" stroke-width="2.9"/>
<line x1="509.2" y1="1740" x2="528.2" y2="1740" stroke="#000" stroke-width="2.9"/>
<line x1="509.2" y1="1853.3" x2="528.2" y2="1853.3" stroke="#000" stroke-width="2.9"/>
<line x1="626.1" y1="1777.3" x2="626.1" y2="1853.3" stroke="#000" stroke-width="2.9"/>
<line x1="616.6" y1="1777.3" x2="635.6" y2="1777.3" stroke="#000" stroke-width="2.9"/>
<line x1="616.6" y1="1853.3" x2="635.6" y2="1853.3" stroke="#000" stroke-width="2.9"/>
<circle cx="465.22" cy="1724.15" r="4.2" fill="#000"/>
<circle cx="465.22" cy="1756.33" r="4.2" fill="#000"/>
<circle cx="465.22" cy="1803.63" r="4.2" fill="#000"/>
<circle cx="518.73" cy="1731.13" r="4.2" fill="#000"/>
<circle cx="505.93" cy="1829.6" r="4.2" fill="#000"/>
<circle cx="531.91" cy="1828.83" r="4.2" fill="#000"/>
<circle cx="560.21" cy="1908.3" r="4.2" fill="#000"/>
<circle cx="572.61" cy="1906.36" r="4.2" fill="#000"/>
<circle cx="585.41" cy="1907.53" r="4.2" fill="#000"/>
<circle cx="626.11" cy="1772.61" r="4.2" fill="#000"/>
<circle cx="613.71" cy="1841.23" r="4.2" fill="#000"/>
<circle cx="638.91" cy="1834.64" r="4.2" fill="#000"/>
<line x1="430.3" y1="1650.8" x2="430.3" y2="1913.35" stroke="#000" stroke-width="6.3"/>
<line x1="415.6" y1="1910.2" x2="663" y2="1910.2" stroke="#000" stroke-width="6.3"/>
<line x1="415.6" y1="1653.6" x2="430.3" y2="1653.6" stroke="#000" stroke-width="5.6"/>
<text x="412.1" y="1659.05" font-size="16.9" text-anchor="end" fill="#000" stroke="#000" stroke-width="0.3">40</text>
<line x1="415.6" y1="1718" x2="430.3" y2="1718" stroke="#000" stroke-width="5.6"/>
<text x="412.1" y="1723.45" font-size="16.9" text-anchor="end" fill="#000" stroke="#000" stroke-width="0.3">30</text>
<line x1="415.6" y1="1781.9" x2="430.3" y2="1781.9" stroke="#000" stroke-width="5.6"/>
<text x="412.1" y="1787.35" font-size="16.9" text-anchor="end" fill="#000" stroke="#000" stroke-width="0.3">20</text>
<line x1="415.6" y1="1845.9" x2="430.3" y2="1845.9" stroke="#000" stroke-width="5.6"/>
<text x="412.1" y="1851.35" font-size="16.9" text-anchor="end" fill="#000" stroke="#000" stroke-width="0.3">10</text>
<text x="412.1" y="1915.65" font-size="16.9" text-anchor="end" fill="#000" stroke="#000" stroke-width="0.3">0</text>
<line x1="465.2" y1="1910.2" x2="465.2" y2="1924.2" stroke="#000" stroke-width="5.6"/>
<line x1="518.7" y1="1910.2" x2="518.7" y2="1924.2" stroke="#000" stroke-width="5.6"/>
<line x1="572.6" y1="1910.2" x2="572.6" y2="1924.2" stroke="#000" stroke-width="5.6"/>
<line x1="626.1" y1="1910.2" x2="626.1" y2="1924.2" stroke="#000" stroke-width="5.6"/>
<text transform="translate(371.94 1782.5) rotate(-90)" font-size="24" text-anchor="middle" fill="#000" stroke="#000" stroke-width="0.3">IFN-<tspan font-size="14">γ</tspan> (ng.mL)</text>
<text transform="translate(474.3 1934.7) rotate(-45)" font-size="21" text-anchor="end" fill="#000" stroke="#000" stroke-width="0.3">Bi-ChTCR</text>
<text transform="translate(535.2 1934.7) rotate(-45)" font-size="21" text-anchor="end" fill="#000" stroke="#000" stroke-width="0.3">CD19-BBz CAR</text>
<text transform="translate(588.5 1934.7) rotate(-45)" font-size="21" text-anchor="end" fill="#000" stroke="#000" stroke-width="0.3">CD22-BBz CAR</text>
<text transform="translate(635.2 1934.7) rotate(-45)" font-size="21" text-anchor="end" fill="#000" stroke="#000" stroke-width="0.3">Loop CAR</text>
<line x1="464.4" y1="1665.6" x2="573" y2="1665.6" stroke="#000" stroke-width="2.6" stroke-linecap="round"/>
<text x="517.6" y="1662.3" font-size="16.6" text-anchor="middle" fill="#000" stroke="#000" stroke-width="0.3">0.0083</text>
<line x1="517.6" y1="1704.4" x2="573" y2="1704.4" stroke="#000" stroke-width="2.6" stroke-linecap="round"/>
<text x="544.7" y="1701.1" font-size="16.6" text-anchor="middle" fill="#000" stroke="#000" stroke-width="0.3">0.0361</text>
<rect x="783.4" y="1820.9" width="33" height="89.3" fill="#62c3ea" stroke="#000" stroke-width="5"/>
<rect x="836.9" y="1908.3" width="33" height="1.9" fill="#62b486" stroke="#000" stroke-width="5"/>
<rect x="890" y="1799.1" width="33" height="111.1" fill="#2d3176" stroke="#000" stroke-width="5"/>
<rect x="944.3" y="1885.6" width="33" height="24.6" fill="#9d1a63" stroke="#000" stroke-width="5"/>
<line x1="799.9" y1="1797" x2="799.9" y2="1839.7" stroke="#000" stroke-width="2.9"/>
<line x1="790.4" y1="1797" x2="809.4" y2="1797" stroke="#000" stroke-width="2.9"/>
<line x1="790.4" y1="1839.7" x2="809.4" y2="1839.7" stroke="#000" stroke-width="2.9"/>
<line x1="906.5" y1="1761.8" x2="906.5" y2="1831.5" stroke="#000" stroke-width="2.9"/>
<line x1="897" y1="1761.8" x2="916" y2="1761.8" stroke="#000" stroke-width="2.9"/>
<line x1="897" y1="1831.5" x2="916" y2="1831.5" stroke="#000" stroke-width="2.9"/>
<line x1="960.8" y1="1862.6" x2="960.8" y2="1904.4" stroke="#000" stroke-width="2.9"/>
<line x1="951.3" y1="1862.6" x2="970.3" y2="1862.6" stroke="#000" stroke-width="2.9"/>
<line x1="951.3" y1="1904.4" x2="970.3" y2="1904.4" stroke="#000" stroke-width="2.9"/>
<circle cx="799.88" cy="1795.1" r="4.2" fill="#000"/>
<circle cx="799.88" cy="1826.11" r="4.2" fill="#000"/>
<circle cx="799.88" cy="1836.58" r="4.2" fill="#000"/>
<circle cx="840.58" cy="1909.08" r="4.2" fill="#000"/>
<circle cx="853.38" cy="1903.65" r="4.2" fill="#000"/>
<circle cx="866.95" cy="1907.53" r="4.2" fill="#000"/>
<circle cx="906.49" cy="1767.57" r="4.2" fill="#000"/>
<circle cx="906.49" cy="1786.96" r="4.2" fill="#000"/>
<circle cx="906.49" cy="1835.42" r="4.2" fill="#000"/>
<circle cx="947.2" cy="1867.6" r="4.2" fill="#000"/>
<circle cx="973.17" cy="1874.19" r="4.2" fill="#000"/>
<circle cx="960.77" cy="1904.43" r="4.2" fill="#000"/>
<line x1="764.2" y1="1650.8" x2="764.2" y2="1913.35" stroke="#000" stroke-width="6.3"/>
<line x1="749.5" y1="1910.2" x2="996.4" y2="1910.2" stroke="#000" stroke-width="6.3"/>
<line x1="749.5" y1="1653.6" x2="764.2" y2="1653.6" stroke="#000" stroke-width="5.6"/>
<text x="745.9" y="1659.05" font-size="16.9" text-anchor="end" fill="#000" stroke="#000" stroke-width="0.3">25</text>
<line x1="749.5" y1="1705.2" x2="764.2" y2="1705.2" stroke="#000" stroke-width="5.6"/>
<text x="745.9" y="1710.65" font-size="16.9" text-anchor="end" fill="#000" stroke="#000" stroke-width="0.3">20</text>
<line x1="749.5" y1="1756.3" x2="764.2" y2="1756.3" stroke="#000" stroke-width="5.6"/>
<text x="745.9" y="1761.75" font-size="16.9" text-anchor="end" fill="#000" stroke="#000" stroke-width="0.3">15</text>
<line x1="749.5" y1="1807.5" x2="764.2" y2="1807.5" stroke="#000" stroke-width="5.6"/>
<text x="745.9" y="1812.95" font-size="16.9" text-anchor="end" fill="#000" stroke="#000" stroke-width="0.3">10</text>
<line x1="749.5" y1="1858.7" x2="764.2" y2="1858.7" stroke="#000" stroke-width="5.6"/>
<text x="745.9" y="1864.15" font-size="16.9" text-anchor="end" fill="#000" stroke="#000" stroke-width="0.3">5</text>
<text x="745.9" y="1915.65" font-size="16.9" text-anchor="end" fill="#000" stroke="#000" stroke-width="0.3">0</text>
<line x1="799.9" y1="1910.2" x2="799.9" y2="1924.2" stroke="#000" stroke-width="5.6"/>
<line x1="853.4" y1="1910.2" x2="853.4" y2="1924.2" stroke="#000" stroke-width="5.6"/>
<line x1="906.5" y1="1910.2" x2="906.5" y2="1924.2" stroke="#000" stroke-width="5.6"/>
<line x1="960.8" y1="1910.2" x2="960.8" y2="1924.2" stroke="#000" stroke-width="5.6"/>
<text transform="translate(709.34 1782.5) rotate(-90)" font-size="24" text-anchor="middle" fill="#000" stroke="#000" stroke-width="0.3">IFN-<tspan font-size="14">γ</tspan> (ng.mL)</text>
<text transform="translate(809 1934.7) rotate(-45)" font-size="21" text-anchor="end" fill="#000" stroke="#000" stroke-width="0.3">Bi-ChTCR</text>
<text transform="translate(869.9 1934.7) rotate(-45)" font-size="21" text-anchor="end" fill="#000" stroke="#000" stroke-width="0.3">CD19-BBz CAR</text>
<text transform="translate(922.4 1934.7) rotate(-45)" font-size="21" text-anchor="end" fill="#000" stroke="#000" stroke-width="0.3">CD22-BBz CAR</text>
<text transform="translate(969.9 1934.7) rotate(-45)" font-size="21" text-anchor="end" fill="#000" stroke="#000" stroke-width="0.3">Loop CAR</text>
<line x1="799.1" y1="1698.2" x2="854.2" y2="1698.2" stroke="#000" stroke-width="2.6" stroke-linecap="round"/>
<text x="826.6" y="1695" font-size="16.6" text-anchor="middle" fill="#000" stroke="#000" stroke-width="0.3">0.0066</text>
<line x1="799.1" y1="1719.5" x2="960.8" y2="1719.5" stroke="#000" stroke-width="2.6" stroke-linecap="round"/>
<text x="878.6" y="1716.4" font-size="16.6" text-anchor="middle" fill="#000" stroke="#000" stroke-width="0.3">0.0360</text>
<line x1="852.2" y1="1742" x2="901.5" y2="1742" stroke="#000" stroke-width="2.6" stroke-linecap="round"/>
<text x="876.6" y="1738.5" font-size="16.6" text-anchor="middle" fill="#000" stroke="#000" stroke-width="0.3">0.0016</text>
<line x1="912.3" y1="1742" x2="961.5" y2="1742" stroke="#000" stroke-width="2.6" stroke-linecap="round"/>
<text x="936.7" y="1738.5" font-size="16.6" text-anchor="middle" fill="#000" stroke="#000" stroke-width="0.3">0.0075</text>
<rect x="1117.6" y="1908.5" width="33" height="1.7" fill="#62c3ea" stroke="#000" stroke-width="5"/>
<rect x="1171.1" y="1908.8" width="33" height="1.4" fill="#62b486" stroke="#000" stroke-width="5"/>
<rect x="1224.2" y="1908.1" width="33" height="2.1" fill="#2d3176" stroke="#000" stroke-width="5"/>
<rect x="1278.5" y="1908.8" width="33" height="1.4" fill="#9d1a63" stroke="#000" stroke-width="5"/>
<circle cx="1120.88" cy="1908.3" r="4.2" fill="#000"/>
<circle cx="1134.06" cy="1905.2" r="4.2" fill="#000"/>
<circle cx="1146.86" cy="1907.53" r="4.2" fill="#000"/>
<circle cx="1173.99" cy="1910.24" r="4.2" fill="#000"/>
<circle cx="1187.56" cy="1905.59" r="4.2" fill="#000"/>
<circle cx="1200.36" cy="1909.47" r="4.2" fill="#000"/>
<circle cx="1227.49" cy="1907.53" r="4.2" fill="#000"/>
<circle cx="1240.68" cy="1904.81" r="4.2" fill="#000"/>
<circle cx="1253.86" cy="1907.53" r="4.2" fill="#000"/>
<circle cx="1281.38" cy="1910.24" r="4.2" fill="#000"/>
<circle cx="1294.95" cy="1905.59" r="4.2" fill="#000"/>
<circle cx="1307.75" cy="1908.69" r="4.2" fill="#000"/>
<line x1="1099.2" y1="1650.8" x2="1099.2" y2="1913.35" stroke="#000" stroke-width="6.3"/>
<line x1="1084" y1="1910.2" x2="1330.2" y2="1910.2" stroke="#000" stroke-width="6.3"/>
<line x1="1084" y1="1653.6" x2="1099.2" y2="1653.6" stroke="#000" stroke-width="5.6"/>
<text x="1080.8" y="1659.05" font-size="16.9" text-anchor="end" fill="#000" stroke="#000" stroke-width="0.3">25</text>
<line x1="1084" y1="1705.2" x2="1099.2" y2="1705.2" stroke="#000" stroke-width="5.6"/>
<text x="1080.8" y="1710.65" font-size="16.9" text-anchor="end" fill="#000" stroke="#000" stroke-width="0.3">20</text>
<line x1="1084" y1="1756.3" x2="1099.2" y2="1756.3" stroke="#000" stroke-width="5.6"/>
<text x="1080.8" y="1761.75" font-size="16.9" text-anchor="end" fill="#000" stroke="#000" stroke-width="0.3">15</text>
<line x1="1084" y1="1807.5" x2="1099.2" y2="1807.5" stroke="#000" stroke-width="5.6"/>
<text x="1080.8" y="1812.95" font-size="16.9" text-anchor="end" fill="#000" stroke="#000" stroke-width="0.3">10</text>
<line x1="1084" y1="1858.7" x2="1099.2" y2="1858.7" stroke="#000" stroke-width="5.6"/>
<text x="1080.8" y="1864.15" font-size="16.9" text-anchor="end" fill="#000" stroke="#000" stroke-width="0.3">5</text>
<text x="1080.8" y="1915.65" font-size="16.9" text-anchor="end" fill="#000" stroke="#000" stroke-width="0.3">0</text>
<line x1="1134.1" y1="1910.2" x2="1134.1" y2="1924.2" stroke="#000" stroke-width="5.6"/>
<line x1="1187.6" y1="1910.2" x2="1187.6" y2="1924.2" stroke="#000" stroke-width="5.6"/>
<line x1="1240.7" y1="1910.2" x2="1240.7" y2="1924.2" stroke="#000" stroke-width="5.6"/>
<line x1="1295" y1="1910.2" x2="1295" y2="1924.2" stroke="#000" stroke-width="5.6"/>
<text transform="translate(1045.04 1782.5) rotate(-90)" font-size="24" text-anchor="middle" fill="#000" stroke="#000" stroke-width="0.3">IFN-<tspan font-size="14">γ</tspan> (ng.mL)</text>
<text transform="translate(1143.2 1934.7) rotate(-45)" font-size="21" text-anchor="end" fill="#000" stroke="#000" stroke-width="0.3">Bi-ChTCR</text>
<text transform="translate(1204.1 1934.7) rotate(-45)" font-size="21" text-anchor="end" fill="#000" stroke="#000" stroke-width="0.3">CD19-BBz CAR</text>
<text transform="translate(1256.6 1934.7) rotate(-45)" font-size="21" text-anchor="end" fill="#000" stroke="#000" stroke-width="0.3">CD22-BBz CAR</text>
<text transform="translate(1304.1 1934.7) rotate(-45)" font-size="21" text-anchor="end" fill="#000" stroke="#000" stroke-width="0.3">Loop CAR</text>
<text x="0.5" y="2137.7" font-size="33.3" font-weight="bold" fill="#231f20" stroke="#231f20" stroke-width="0.9" stroke-linejoin="round">g.</text>
<line x1="95.2" y1="2172.3" x2="95.2" y2="2424.3" stroke="#000" stroke-width="7.6"/>
<line x1="83" y1="2175.7" x2="95.2" y2="2175.7" stroke="#000" stroke-width="6.6"/>
<text x="78.4" y="2179.9" font-size="19.5" text-anchor="end" fill="#000" stroke="#000" stroke-width="0.3">150</text>
<line x1="83" y1="2237.3" x2="95.2" y2="2237.3" stroke="#000" stroke-width="6.6"/>
<text x="78.4" y="2241.5" font-size="19.5" text-anchor="end" fill="#000" stroke="#000" stroke-width="0.3">100</text>
<line x1="83" y1="2298.6" x2="95.2" y2="2298.6" stroke="#000" stroke-width="6.6"/>
<text x="78.4" y="2302.8" font-size="19.5" text-anchor="end" fill="#000" stroke="#000" stroke-width="0.3">50</text>
<line x1="83" y1="2360.2" x2="95.2" y2="2360.2" stroke="#000" stroke-width="6.6"/>
<text x="78.4" y="2364.4" font-size="19.5" text-anchor="end" fill="#000" stroke="#000" stroke-width="0.3">0</text>
<line x1="83" y1="2420.9" x2="95.2" y2="2420.9" stroke="#000" stroke-width="6.6"/>
<text x="78.4" y="2425.1" font-size="19.5" text-anchor="end" fill="#000" stroke="#000" stroke-width="0.3">-50</text>
<text transform="translate(32.4 2298.3) rotate(-90)" font-size="23.5" text-anchor="middle" fill="#000" stroke="#000" stroke-width="0.3">%Killing</text>
<line x1="107.8" y1="2359.7" x2="1822" y2="2359.7" stroke="#000" stroke-width="6.4" stroke-linecap="round" stroke-dasharray="0.01 11.97"/>
<path d="M195.4 2259 L285.8 2288.4 L375.2 2323.5 L465.5 2366.6" fill="none" stroke="#6cbb8e" stroke-width="7.8" stroke-linejoin="round" stroke-linecap="butt"/>
<path d="M195.4 2263.5 L285.8 2288.4 L375.2 2303.7 L465.5 2344.3" fill="none" stroke="#2b3b8e" stroke-width="7.8" stroke-linejoin="round" stroke-linecap="butt"/>
<path d="M195.4 2255.8 L285.8 2275.6 L375.2 2288.4 L465.5 2332.4" fill="none" stroke="#9c1b32" stroke-width="7.8" stroke-linejoin="round" stroke-linecap="butt"/>
<path d="M195.4 2246.2 L285.8 2277.2 L375.2 2291.6 L465.5 2330.5" fill="none" stroke="#6ec7ea" stroke-width="7.8" stroke-linejoin="round" stroke-linecap="butt"/>
<line x1="195.4" y1="2238" x2="195.4" y2="2284.5" stroke="#000" stroke-width="2.3"/>
<line x1="189" y1="2238" x2="201.8" y2="2238" stroke="#000" stroke-width="2.3"/>
<line x1="189" y1="2284.5" x2="201.8" y2="2284.5" stroke="#000" stroke-width="2.3"/>
<line x1="195.4" y1="2243" x2="195.4" y2="2274" stroke="#000" stroke-width="2.3"/>
<line x1="189" y1="2243" x2="201.8" y2="2243" stroke="#000" stroke-width="2.3"/>
<line x1="189" y1="2274" x2="201.8" y2="2274" stroke="#000" stroke-width="2.3"/>
<line x1="285.8" y1="2244.6" x2="285.8" y2="2309.1" stroke="#000" stroke-width="2.3"/>
<line x1="279.4" y1="2244.6" x2="292.2" y2="2244.6" stroke="#000" stroke-width="2.3"/>
<line x1="279.4" y1="2309.1" x2="292.2" y2="2309.1" stroke="#000" stroke-width="2.3"/>
<line x1="285.8" y1="2263" x2="285.8" y2="2298.6" stroke="#000" stroke-width="2.3"/>
<line x1="279.4" y1="2263" x2="292.2" y2="2263" stroke="#000" stroke-width="2.3"/>
<line x1="279.4" y1="2298.6" x2="292.2" y2="2298.6" stroke="#000" stroke-width="2.3"/>
<line x1="285.8" y1="2267" x2="285.8" y2="2303" stroke="#000" stroke-width="2.3"/>
<line x1="279.4" y1="2267" x2="292.2" y2="2267" stroke="#000" stroke-width="2.3"/>
<line x1="279.4" y1="2303" x2="292.2" y2="2303" stroke="#000" stroke-width="2.3"/>
<line x1="375.2" y1="2248.5" x2="375.2" y2="2337.9" stroke="#000" stroke-width="2.3"/>
<line x1="368.8" y1="2248.5" x2="381.6" y2="2248.5" stroke="#000" stroke-width="2.3"/>
<line x1="368.8" y1="2337.9" x2="381.6" y2="2337.9" stroke="#000" stroke-width="2.3"/>
<line x1="375.2" y1="2263.5" x2="375.2" y2="2316" stroke="#000" stroke-width="2.3"/>
<line x1="368.8" y1="2263.5" x2="381.6" y2="2263.5" stroke="#000" stroke-width="2.3"/>
<line x1="368.8" y1="2316" x2="381.6" y2="2316" stroke="#000" stroke-width="2.3"/>
<line x1="375.2" y1="2312" x2="375.2" y2="2330" stroke="#000" stroke-width="2.3"/>
<line x1="368.8" y1="2312" x2="381.6" y2="2312" stroke="#000" stroke-width="2.3"/>
<line x1="368.8" y1="2330" x2="381.6" y2="2330" stroke="#000" stroke-width="2.3"/>
<line x1="465.5" y1="2278.8" x2="465.5" y2="2383.5" stroke="#000" stroke-width="2.3"/>
<line x1="459.1" y1="2278.8" x2="471.9" y2="2278.8" stroke="#000" stroke-width="2.3"/>
<line x1="459.1" y1="2383.5" x2="471.9" y2="2383.5" stroke="#000" stroke-width="2.3"/>
<line x1="465.5" y1="2285.2" x2="465.5" y2="2381" stroke="#000" stroke-width="2.3"/>
<line x1="459.1" y1="2285.2" x2="471.9" y2="2285.2" stroke="#000" stroke-width="2.3"/>
<line x1="459.1" y1="2381" x2="471.9" y2="2381" stroke="#000" stroke-width="2.3"/>
<line x1="465.5" y1="2324.5" x2="465.5" y2="2351" stroke="#000" stroke-width="2.3"/>
<line x1="459.1" y1="2324.5" x2="471.9" y2="2324.5" stroke="#000" stroke-width="2.3"/>
<line x1="459.1" y1="2351" x2="471.9" y2="2351" stroke="#000" stroke-width="2.3"/>
<circle cx="195.4" cy="2259" r="5.7" fill="#000"/>
<circle cx="285.8" cy="2288.4" r="5.7" fill="#000"/>
<circle cx="375.2" cy="2323.5" r="5.7" fill="#000"/>
<circle cx="465.5" cy="2366.6" r="5.7" fill="#000"/>
<circle cx="195.4" cy="2263.5" r="5.7" fill="#000"/>
<circle cx="285.8" cy="2288.4" r="5.7" fill="#000"/>
<circle cx="375.2" cy="2303.7" r="5.7" fill="#000"/>
<circle cx="465.5" cy="2344.3" r="5.7" fill="#000"/>
<circle cx="195.4" cy="2255.8" r="5.7" fill="#000"/>
<circle cx="285.8" cy="2275.6" r="5.7" fill="#000"/>
<circle cx="375.2" cy="2288.4" r="5.7" fill="#000"/>
<circle cx="465.5" cy="2332.4" r="5.7" fill="#000"/>
<circle cx="195.4" cy="2246.2" r="5.7" fill="#000"/>
<circle cx="285.8" cy="2277.2" r="5.7" fill="#000"/>
<circle cx="375.2" cy="2291.6" r="5.7" fill="#000"/>
<circle cx="465.5" cy="2330.5" r="5.7" fill="#000"/>
<line x1="135.7" y1="2461.8" x2="525.2" y2="2461.8" stroke="#000" stroke-width="6.6"/>
<line x1="195.4" y1="2461.8" x2="195.4" y2="2473.8" stroke="#000" stroke-width="5.6"/>
<text x="195.4" y="2492.1" font-size="20" text-anchor="middle" fill="#000" stroke="#000" stroke-width="0.3">30:1</text>
<line x1="285.8" y1="2461.8" x2="285.8" y2="2473.8" stroke="#000" stroke-width="5.6"/>
<text x="285.8" y="2492.1" font-size="20" text-anchor="middle" fill="#000" stroke="#000" stroke-width="0.3">10:1</text>
<line x1="375.2" y1="2461.8" x2="375.2" y2="2473.8" stroke="#000" stroke-width="5.6"/>
<text x="375.2" y="2492.1" font-size="20" text-anchor="middle" fill="#000" stroke="#000" stroke-width="0.3">3:1</text>
<line x1="465.5" y1="2461.8" x2="465.5" y2="2473.8" stroke="#000" stroke-width="5.6"/>
<text x="465.5" y="2492.1" font-size="20" text-anchor="middle" fill="#000" stroke="#000" stroke-width="0.3">1:1</text>
<text x="330.5" y="2516.7" font-size="19.7" text-anchor="middle" fill="#000" stroke="#000" stroke-width="0.3">E:T ratio</text>
<text x="331.6" y="2168" font-size="23.3" text-anchor="middle" fill="#000" stroke="#000" stroke-width="0.3">Nalm-6 WT</text>
<path d="M631 2271.8 L721 2286.8 L810.8 2319.7 L900.8 2350.6" fill="none" stroke="#6cbb8e" stroke-width="7.8" stroke-linejoin="round" stroke-linecap="butt"/>
<path d="M631 2355.4 L721 2358.6 L810.8 2355.4 L900.8 2363.4" fill="none" stroke="#2b3b8e" stroke-width="7.8" stroke-linejoin="round" stroke-linecap="butt"/>
<path d="M631 2268.6 L721 2281.4 L810.8 2293.8 L900.8 2336.9" fill="none" stroke="#9c1b32" stroke-width="7.8" stroke-linejoin="round" stroke-linecap="butt"/>
<path d="M631 2263.5 L721 2286.8 L810.8 2310.1 L900.8 2344.3" fill="none" stroke="#6ec7ea" stroke-width="7.8" stroke-linejoin="round" stroke-linecap="butt"/>
<line x1="631" y1="2234.1" x2="631" y2="2295.4" stroke="#000" stroke-width="2.3"/>
<line x1="624.6" y1="2234.1" x2="637.4" y2="2234.1" stroke="#000" stroke-width="2.3"/>
<line x1="624.6" y1="2295.4" x2="637.4" y2="2295.4" stroke="#000" stroke-width="2.3"/>
<line x1="631" y1="2237.3" x2="631" y2="2288.4" stroke="#000" stroke-width="2.3"/>
<line x1="624.6" y1="2237.3" x2="637.4" y2="2237.3" stroke="#000" stroke-width="2.3"/>
<line x1="624.6" y1="2288.4" x2="637.4" y2="2288.4" stroke="#000" stroke-width="2.3"/>
<line x1="631" y1="2252.6" x2="631" y2="2291" stroke="#000" stroke-width="2.3"/>
<line x1="624.6" y1="2252.6" x2="637.4" y2="2252.6" stroke="#000" stroke-width="2.3"/>
<line x1="624.6" y1="2291" x2="637.4" y2="2291" stroke="#000" stroke-width="2.3"/>
<line x1="721" y1="2231.5" x2="721" y2="2331.5" stroke="#000" stroke-width="2.3"/>
<line x1="714.6" y1="2231.5" x2="727.4" y2="2231.5" stroke="#000" stroke-width="2.3"/>
<line x1="714.6" y1="2331.5" x2="727.4" y2="2331.5" stroke="#000" stroke-width="2.3"/>
<line x1="721" y1="2243" x2="721" y2="2326.7" stroke="#000" stroke-width="2.3"/>
<line x1="714.6" y1="2243" x2="727.4" y2="2243" stroke="#000" stroke-width="2.3"/>
<line x1="714.6" y1="2326.7" x2="727.4" y2="2326.7" stroke="#000" stroke-width="2.3"/>
<line x1="721" y1="2246.9" x2="721" y2="2329" stroke="#000" stroke-width="2.3"/>
<line x1="714.6" y1="2246.9" x2="727.4" y2="2246.9" stroke="#000" stroke-width="2.3"/>
<line x1="714.6" y1="2329" x2="727.4" y2="2329" stroke="#000" stroke-width="2.3"/>
<line x1="810.8" y1="2242.1" x2="810.8" y2="2345.9" stroke="#000" stroke-width="2.3"/>
<line x1="804.4" y1="2242.1" x2="817.2" y2="2242.1" stroke="#000" stroke-width="2.3"/>
<line x1="804.4" y1="2345.9" x2="817.2" y2="2345.9" stroke="#000" stroke-width="2.3"/>
<line x1="810.8" y1="2283.6" x2="810.8" y2="2336.3" stroke="#000" stroke-width="2.3"/>
<line x1="804.4" y1="2283.6" x2="817.2" y2="2283.6" stroke="#000" stroke-width="2.3"/>
<line x1="804.4" y1="2336.3" x2="817.2" y2="2336.3" stroke="#000" stroke-width="2.3"/>
<line x1="810.8" y1="2286.8" x2="810.8" y2="2352.2" stroke="#000" stroke-width="2.3"/>
<line x1="804.4" y1="2286.8" x2="817.2" y2="2286.8" stroke="#000" stroke-width="2.3"/>
<line x1="804.4" y1="2352.2" x2="817.2" y2="2352.2" stroke="#000" stroke-width="2.3"/>
<line x1="900.8" y1="2304.3" x2="900.8" y2="2369.8" stroke="#000" stroke-width="2.3"/>
<line x1="894.4" y1="2304.3" x2="907.2" y2="2304.3" stroke="#000" stroke-width="2.3"/>
<line x1="894.4" y1="2369.8" x2="907.2" y2="2369.8" stroke="#000" stroke-width="2.3"/>
<line x1="900.8" y1="2330.5" x2="900.8" y2="2366.5" stroke="#000" stroke-width="2.3"/>
<line x1="894.4" y1="2330.5" x2="907.2" y2="2330.5" stroke="#000" stroke-width="2.3"/>
<line x1="894.4" y1="2366.5" x2="907.2" y2="2366.5" stroke="#000" stroke-width="2.3"/>
<circle cx="631" cy="2271.8" r="5.7" fill="#000"/>
<circle cx="721" cy="2286.8" r="5.7" fill="#000"/>
<circle cx="810.8" cy="2319.7" r="5.7" fill="#000"/>
<circle cx="900.8" cy="2350.6" r="5.7" fill="#000"/>
<circle cx="631" cy="2355.4" r="5.7" fill="#000"/>
<circle cx="721" cy="2358.6" r="5.7" fill="#000"/>
<circle cx="810.8" cy="2355.4" r="5.7" fill="#000"/>
<circle cx="900.8" cy="2363.4" r="5.7" fill="#000"/>
<circle cx="631" cy="2268.6" r="5.7" fill="#000"/>
<circle cx="721" cy="2281.4" r="5.7" fill="#000"/>
<circle cx="810.8" cy="2293.8" r="5.7" fill="#000"/>
<circle cx="900.8" cy="2336.9" r="5.7" fill="#000"/>
<circle cx="631" cy="2263.5" r="5.7" fill="#000"/>
<circle cx="721" cy="2286.8" r="5.7" fill="#000"/>
<circle cx="810.8" cy="2310.1" r="5.7" fill="#000"/>
<circle cx="900.8" cy="2344.3" r="5.7" fill="#000"/>
<line x1="571" y1="2459.8" x2="960.5" y2="2459.8" stroke="#000" stroke-width="6.6"/>
<line x1="631" y1="2459.8" x2="631" y2="2471.8" stroke="#000" stroke-width="5.6"/>
<text x="631" y="2490.1" font-size="20" text-anchor="middle" fill="#000" stroke="#000" stroke-width="0.3">30:1</text>
<line x1="721" y1="2459.8" x2="721" y2="2471.8" stroke="#000" stroke-width="5.6"/>
<text x="721" y="2490.1" font-size="20" text-anchor="middle" fill="#000" stroke="#000" stroke-width="0.3">10:1</text>
<line x1="810.8" y1="2459.8" x2="810.8" y2="2471.8" stroke="#000" stroke-width="5.6"/>
<text x="810.8" y="2490.1" font-size="20" text-anchor="middle" fill="#000" stroke="#000" stroke-width="0.3">3:1</text>
<line x1="900.8" y1="2459.8" x2="900.8" y2="2471.8" stroke="#000" stroke-width="5.6"/>
<text x="900.8" y="2490.1" font-size="20" text-anchor="middle" fill="#000" stroke="#000" stroke-width="0.3">1:1</text>
<text x="766.7" y="2514.4" font-size="19.7" text-anchor="middle" fill="#000" stroke="#000" stroke-width="0.3">E:T ratio</text>
<text x="766" y="2161.6" font-size="23.3" text-anchor="middle">Nalm-6 CD22<tspan font-size="14.5" dy="-7.4">ko</tspan></text>
<path d="M1066.2 2373.9 L1156.2 2387.4 L1246 2393.1 L1336.6 2408.1" fill="none" stroke="#6cbb8e" stroke-width="7.8" stroke-linejoin="round" stroke-linecap="butt"/>
<path d="M1066.2 2283.6 L1156.2 2304.3 L1246 2341.1 L1336.6 2393.7" fill="none" stroke="#2b3b8e" stroke-width="7.8" stroke-linejoin="round" stroke-linecap="butt"/>
<path d="M1066.2 2329.2 L1156.2 2372.3 L1246 2380.3 L1336.6 2384.2" fill="none" stroke="#9c1b32" stroke-width="7.8" stroke-linejoin="round" stroke-linecap="butt"/>
<path d="M1066.2 2268.3 L1156.2 2309.1 L1246 2330.8 L1336.6 2348.1" fill="none" stroke="#6ec7ea" stroke-width="7.8" stroke-linejoin="round" stroke-linecap="butt"/>
<line x1="1066.2" y1="2247.5" x2="1066.2" y2="2302.7" stroke="#000" stroke-width="2.3"/>
<line x1="1059.8" y1="2247.5" x2="1072.6" y2="2247.5" stroke="#000" stroke-width="2.3"/>
<line x1="1059.8" y1="2302.7" x2="1072.6" y2="2302.7" stroke="#000" stroke-width="2.3"/>
<line x1="1066.2" y1="2262.8" x2="1066.2" y2="2319.7" stroke="#000" stroke-width="2.3"/>
<line x1="1059.8" y1="2262.8" x2="1072.6" y2="2262.8" stroke="#000" stroke-width="2.3"/>
<line x1="1059.8" y1="2319.7" x2="1072.6" y2="2319.7" stroke="#000" stroke-width="2.3"/>
<line x1="1066.2" y1="2342" x2="1066.2" y2="2405.9" stroke="#000" stroke-width="2.3"/>
<line x1="1059.8" y1="2342" x2="1072.6" y2="2342" stroke="#000" stroke-width="2.3"/>
<line x1="1059.8" y1="2405.9" x2="1072.6" y2="2405.9" stroke="#000" stroke-width="2.3"/>
<line x1="1066.2" y1="2355.4" x2="1066.2" y2="2342" stroke="#000" stroke-width="2.3"/>
<line x1="1059.8" y1="2355.4" x2="1072.6" y2="2355.4" stroke="#000" stroke-width="2.3"/>
<line x1="1059.8" y1="2342" x2="1072.6" y2="2342" stroke="#000" stroke-width="2.3"/>
<line x1="1156.2" y1="2259" x2="1156.2" y2="2352.2" stroke="#000" stroke-width="2.3"/>
<line x1="1149.8" y1="2259" x2="1162.6" y2="2259" stroke="#000" stroke-width="2.3"/>
<line x1="1149.8" y1="2352.2" x2="1162.6" y2="2352.2" stroke="#000" stroke-width="2.3"/>
<line x1="1156.2" y1="2298" x2="1156.2" y2="2321" stroke="#000" stroke-width="2.3"/>
<line x1="1149.8" y1="2298" x2="1162.6" y2="2298" stroke="#000" stroke-width="2.3"/>
<line x1="1149.8" y1="2321" x2="1162.6" y2="2321" stroke="#000" stroke-width="2.3"/>
<line x1="1156.2" y1="2340" x2="1156.2" y2="2405.9" stroke="#000" stroke-width="2.3"/>
<line x1="1149.8" y1="2340" x2="1162.6" y2="2340" stroke="#000" stroke-width="2.3"/>
<line x1="1149.8" y1="2405.9" x2="1162.6" y2="2405.9" stroke="#000" stroke-width="2.3"/>
<line x1="1156.2" y1="2352.2" x2="1156.2" y2="2419.3" stroke="#000" stroke-width="2.3"/>
<line x1="1149.8" y1="2352.2" x2="1162.6" y2="2352.2" stroke="#000" stroke-width="2.3"/>
<line x1="1246" y1="2314.6" x2="1246" y2="2352.2" stroke="#000" stroke-width="2.3"/>
<line x1="1239.6" y1="2314.6" x2="1252.4" y2="2314.6" stroke="#000" stroke-width="2.3"/>
<line x1="1239.6" y1="2352.2" x2="1252.4" y2="2352.2" stroke="#000" stroke-width="2.3"/>
<line x1="1246" y1="2323.5" x2="1246" y2="2360.2" stroke="#000" stroke-width="2.3"/>
<line x1="1239.6" y1="2323.5" x2="1252.4" y2="2323.5" stroke="#000" stroke-width="2.3"/>
<line x1="1239.6" y1="2360.2" x2="1252.4" y2="2360.2" stroke="#000" stroke-width="2.3"/>
<line x1="1246" y1="2368.2" x2="1246" y2="2400.8" stroke="#000" stroke-width="2.3"/>
<line x1="1239.6" y1="2368.2" x2="1252.4" y2="2368.2" stroke="#000" stroke-width="2.3"/>
<line x1="1239.6" y1="2400.8" x2="1252.4" y2="2400.8" stroke="#000" stroke-width="2.3"/>
<line x1="1246" y1="2360.2" x2="1246" y2="2419.3" stroke="#000" stroke-width="2.3"/>
<line x1="1239.6" y1="2360.2" x2="1252.4" y2="2360.2" stroke="#000" stroke-width="2.3"/>
<line x1="1336.6" y1="2336.9" x2="1336.6" y2="2360" stroke="#000" stroke-width="2.3"/>
<line x1="1330.2" y1="2336.9" x2="1343" y2="2336.9" stroke="#000" stroke-width="2.3"/>
<line x1="1330.2" y1="2360" x2="1343" y2="2360" stroke="#000" stroke-width="2.3"/>
<line x1="1336.6" y1="2360.2" x2="1336.6" y2="2414.5" stroke="#000" stroke-width="2.3"/>
<line x1="1330.2" y1="2360.2" x2="1343" y2="2360.2" stroke="#000" stroke-width="2.3"/>
<line x1="1330.2" y1="2414.5" x2="1343" y2="2414.5" stroke="#000" stroke-width="2.3"/>
<line x1="1336.6" y1="2384" x2="1336.6" y2="2419.3" stroke="#000" stroke-width="2.3"/>
<line x1="1330.2" y1="2384" x2="1343" y2="2384" stroke="#000" stroke-width="2.3"/>
<circle cx="1066.2" cy="2373.9" r="5.7" fill="#000"/>
<circle cx="1156.2" cy="2387.4" r="5.7" fill="#000"/>
<circle cx="1246" cy="2393.1" r="5.7" fill="#000"/>
<circle cx="1336.6" cy="2408.1" r="5.7" fill="#000"/>
<circle cx="1066.2" cy="2283.6" r="5.7" fill="#000"/>
<circle cx="1156.2" cy="2304.3" r="5.7" fill="#000"/>
<circle cx="1246" cy="2341.1" r="5.7" fill="#000"/>
<circle cx="1336.6" cy="2393.7" r="5.7" fill="#000"/>
<circle cx="1066.2" cy="2329.2" r="5.7" fill="#000"/>
<circle cx="1156.2" cy="2372.3" r="5.7" fill="#000"/>
<circle cx="1246" cy="2380.3" r="5.7" fill="#000"/>
<circle cx="1336.6" cy="2384.2" r="5.7" fill="#000"/>
<circle cx="1066.2" cy="2268.3" r="5.7" fill="#000"/>
<circle cx="1156.2" cy="2309.1" r="5.7" fill="#000"/>
<circle cx="1246" cy="2330.8" r="5.7" fill="#000"/>
<circle cx="1336.6" cy="2348.1" r="5.7" fill="#000"/>
<line x1="1006.2" y1="2459.8" x2="1396" y2="2459.8" stroke="#000" stroke-width="6.6"/>
<line x1="1066.2" y1="2459.8" x2="1066.2" y2="2471.8" stroke="#000" stroke-width="5.6"/>
<text x="1066.2" y="2490.1" font-size="20" text-anchor="middle" fill="#000" stroke="#000" stroke-width="0.3">30:1</text>
<line x1="1156.2" y1="2459.8" x2="1156.2" y2="2471.8" stroke="#000" stroke-width="5.6"/>
<text x="1156.2" y="2490.1" font-size="20" text-anchor="middle" fill="#000" stroke="#000" stroke-width="0.3">10:1</text>
<line x1="1246" y1="2459.8" x2="1246" y2="2471.8" stroke="#000" stroke-width="5.6"/>
<text x="1246" y="2490.1" font-size="20" text-anchor="middle" fill="#000" stroke="#000" stroke-width="0.3">3:1</text>
<line x1="1336.6" y1="2459.8" x2="1336.6" y2="2471.8" stroke="#000" stroke-width="5.6"/>
<text x="1336.6" y="2490.1" font-size="20" text-anchor="middle" fill="#000" stroke="#000" stroke-width="0.3">1:1</text>
<text x="1201.9" y="2514.4" font-size="19.7" text-anchor="middle" fill="#000" stroke="#000" stroke-width="0.3">E:T ratio</text>
<text x="1213.6" y="2161.6" font-size="23.3" text-anchor="middle">Nalm-6 CD19<tspan font-size="14.5" dy="-7.4">ko</tspan></text>
<path d="M1501 2350 L1591.3 2357 L1680.9 2359.5 L1771.2 2355.8" fill="none" stroke="#6cbb8e" stroke-width="7.8" stroke-linejoin="round" stroke-linecap="butt"/>
<path d="M1501 2350 L1591.3 2357.5 L1680.9 2360 L1771.2 2365" fill="none" stroke="#2b3b8e" stroke-width="7.8" stroke-linejoin="round" stroke-linecap="butt"/>
<path d="M1501 2343.4 L1591.3 2350 L1680.9 2355 L1771.2 2359.2" fill="none" stroke="#9c1b32" stroke-width="7.8" stroke-linejoin="round" stroke-linecap="butt"/>
<path d="M1501 2348 L1591.3 2357 L1680.9 2360 L1771.2 2363.6" fill="none" stroke="#6ec7ea" stroke-width="7.8" stroke-linejoin="round" stroke-linecap="butt"/>
<line x1="1501" y1="2323.9" x2="1501" y2="2364.8" stroke="#000" stroke-width="2.3"/>
<line x1="1494.6" y1="2323.9" x2="1507.4" y2="2323.9" stroke="#000" stroke-width="2.3"/>
<line x1="1494.6" y1="2364.8" x2="1507.4" y2="2364.8" stroke="#000" stroke-width="2.3"/>
<line x1="1501" y1="2331.7" x2="1501" y2="2362" stroke="#000" stroke-width="2.3"/>
<line x1="1494.6" y1="2331.7" x2="1507.4" y2="2331.7" stroke="#000" stroke-width="2.3"/>
<line x1="1494.6" y1="2362" x2="1507.4" y2="2362" stroke="#000" stroke-width="2.3"/>
<line x1="1501" y1="2337.5" x2="1501" y2="2360" stroke="#000" stroke-width="2.3"/>
<line x1="1494.6" y1="2337.5" x2="1507.4" y2="2337.5" stroke="#000" stroke-width="2.3"/>
<line x1="1494.6" y1="2360" x2="1507.4" y2="2360" stroke="#000" stroke-width="2.3"/>
<line x1="1591.3" y1="2344.5" x2="1591.3" y2="2364" stroke="#000" stroke-width="2.3"/>
<line x1="1584.9" y1="2344.5" x2="1597.7" y2="2344.5" stroke="#000" stroke-width="2.3"/>
<line x1="1584.9" y1="2364" x2="1597.7" y2="2364" stroke="#000" stroke-width="2.3"/>
<line x1="1680.9" y1="2352.3" x2="1680.9" y2="2366.7" stroke="#000" stroke-width="2.3"/>
<line x1="1674.5" y1="2352.3" x2="1687.3" y2="2352.3" stroke="#000" stroke-width="2.3"/>
<line x1="1674.5" y1="2366.7" x2="1687.3" y2="2366.7" stroke="#000" stroke-width="2.3"/>
<line x1="1771.2" y1="2353" x2="1771.2" y2="2371.4" stroke="#000" stroke-width="2.3"/>
<line x1="1764.8" y1="2353" x2="1777.6" y2="2353" stroke="#000" stroke-width="2.3"/>
<line x1="1764.8" y1="2371.4" x2="1777.6" y2="2371.4" stroke="#000" stroke-width="2.3"/>
<circle cx="1501" cy="2350" r="5.7" fill="#000"/>
<circle cx="1591.3" cy="2357" r="5.7" fill="#000"/>
<circle cx="1680.9" cy="2359.5" r="5.7" fill="#000"/>
<circle cx="1771.2" cy="2355.8" r="5.7" fill="#000"/>
<circle cx="1501" cy="2350" r="5.7" fill="#000"/>
<circle cx="1591.3" cy="2357.5" r="5.7" fill="#000"/>
<circle cx="1680.9" cy="2360" r="5.7" fill="#000"/>
<circle cx="1771.2" cy="2365" r="5.7" fill="#000"/>
<circle cx="1501" cy="2343.4" r="5.7" fill="#000"/>
<circle cx="1591.3" cy="2350" r="5.7" fill="#000"/>
<circle cx="1680.9" cy="2355" r="5.7" fill="#000"/>
<circle cx="1771.2" cy="2359.2" r="5.7" fill="#000"/>
<circle cx="1501" cy="2348" r="5.7" fill="#000"/>
<circle cx="1591.3" cy="2357" r="5.7" fill="#000"/>
<circle cx="1680.9" cy="2360" r="5.7" fill="#000"/>
<circle cx="1771.2" cy="2363.6" r="5.7" fill="#000"/>
<line x1="1442.2" y1="2459" x2="1831.6" y2="2459" stroke="#000" stroke-width="6.6"/>
<line x1="1501" y1="2459" x2="1501" y2="2471" stroke="#000" stroke-width="5.6"/>
<text x="1501" y="2489.3" font-size="20" text-anchor="middle" fill="#000" stroke="#000" stroke-width="0.3">30:1</text>
<line x1="1591.3" y1="2459" x2="1591.3" y2="2471" stroke="#000" stroke-width="5.6"/>
<text x="1591.3" y="2489.3" font-size="20" text-anchor="middle" fill="#000" stroke="#000" stroke-width="0.3">10:1</text>
<line x1="1680.9" y1="2459" x2="1680.9" y2="2471" stroke="#000" stroke-width="5.6"/>
<text x="1680.9" y="2489.3" font-size="20" text-anchor="middle" fill="#000" stroke="#000" stroke-width="0.3">3:1</text>
<line x1="1771.2" y1="2459" x2="1771.2" y2="2471" stroke="#000" stroke-width="5.6"/>
<text x="1771.2" y="2489.3" font-size="20" text-anchor="middle" fill="#000" stroke="#000" stroke-width="0.3">1:1</text>
<text x="1637.3" y="2514.7" font-size="19.7" text-anchor="middle" fill="#000" stroke="#000" stroke-width="0.3">E:T ratio</text>
<text x="1655" y="2161.5" font-size="23.3" text-anchor="middle" fill="#000" stroke="#000" stroke-width="0.3">Nalm-6 DKO</text>
<line x1="1875" y1="2161.5" x2="1919" y2="2161.5" stroke="#6cbb8e" stroke-width="8.4" stroke-linecap="round"/>
<circle cx="1896.7" cy="2161.5" r="7.8" fill="#000"/>
<text x="1944.6" y="2169.3" font-size="22.1" fill="#000" stroke="#000" stroke-width="0.3">CD19-BBz CAR</text>
<line x1="1875" y1="2204" x2="1919" y2="2204" stroke="#2b3b8e" stroke-width="8.4" stroke-linecap="round"/>
<circle cx="1896.7" cy="2204" r="7.8" fill="#000"/>
<text x="1944.6" y="2211.4" font-size="22.1" fill="#000" stroke="#000" stroke-width="0.3">CD22-BBz CAR</text>
<line x1="1875" y1="2246" x2="1919" y2="2246" stroke="#9c1b32" stroke-width="8.4" stroke-linecap="round"/>
<circle cx="1896.7" cy="2246" r="7.8" fill="#000"/>
<text x="1944.6" y="2253.4" font-size="22.1" fill="#000" stroke="#000" stroke-width="0.3">Loop CAR</text>
<line x1="1875" y1="2288.1" x2="1919" y2="2288.1" stroke="#6ec7ea" stroke-width="8.4" stroke-linecap="round"/>
<circle cx="1896.7" cy="2288.1" r="7.8" fill="#000"/>
<text x="1944.6" y="2295.5" font-size="22.1" fill="#000" stroke="#000" stroke-width="0.3">Bi-ChTCR</text>
</svg>
</body></html>
